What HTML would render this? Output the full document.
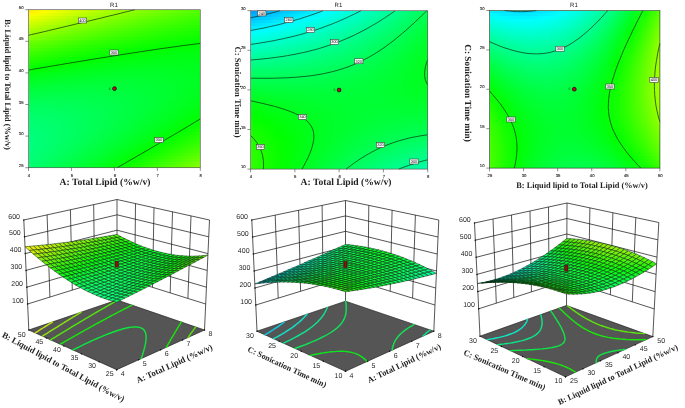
<!DOCTYPE html>
<html><head><meta charset="utf-8"><title>R1 response surfaces</title>
<style>html,body{margin:0;padding:0;background:#fff;}svg{display:block;will-change:transform;}text{text-rendering:geometricPrecision;}</style></head>
<body><svg width="685" height="408" viewBox="0 0 685 408">
<rect width="685" height="408" fill="#ffffff"/>
<defs>
<linearGradient id="s1_0"><stop offset="0.000" stop-color="#ffeb00"/><stop offset="0.083" stop-color="#fffd00"/><stop offset="0.167" stop-color="#ecff00"/><stop offset="0.250" stop-color="#d8ff00"/><stop offset="0.333" stop-color="#c5ff00"/><stop offset="0.417" stop-color="#b3ff00"/><stop offset="0.500" stop-color="#a2ff00"/><stop offset="0.583" stop-color="#92ff00"/><stop offset="0.667" stop-color="#83ff00"/><stop offset="0.750" stop-color="#75ff00"/><stop offset="0.833" stop-color="#67ff00"/><stop offset="0.917" stop-color="#5bff00"/><stop offset="1.000" stop-color="#50ff00"/></linearGradient>
<linearGradient id="s1_1"><stop offset="0.000" stop-color="#fffa00"/><stop offset="0.083" stop-color="#f0ff00"/><stop offset="0.167" stop-color="#dcff00"/><stop offset="0.250" stop-color="#c9ff00"/><stop offset="0.333" stop-color="#b6ff00"/><stop offset="0.417" stop-color="#a5ff00"/><stop offset="0.500" stop-color="#94ff00"/><stop offset="0.583" stop-color="#85ff00"/><stop offset="0.667" stop-color="#76ff00"/><stop offset="0.750" stop-color="#69ff00"/><stop offset="0.833" stop-color="#5dff00"/><stop offset="0.917" stop-color="#51ff00"/><stop offset="1.000" stop-color="#46ff00"/></linearGradient>
<linearGradient id="s1_2"><stop offset="0.000" stop-color="#f4ff00"/><stop offset="0.083" stop-color="#dfff00"/><stop offset="0.167" stop-color="#ccff00"/><stop offset="0.250" stop-color="#b9ff00"/><stop offset="0.333" stop-color="#a7ff00"/><stop offset="0.417" stop-color="#97ff00"/><stop offset="0.500" stop-color="#87ff00"/><stop offset="0.583" stop-color="#78ff00"/><stop offset="0.667" stop-color="#6bff00"/><stop offset="0.750" stop-color="#5eff00"/><stop offset="0.833" stop-color="#52ff00"/><stop offset="0.917" stop-color="#47ff00"/><stop offset="1.000" stop-color="#3dff00"/></linearGradient>
<linearGradient id="s1_3"><stop offset="0.000" stop-color="#e3ff00"/><stop offset="0.083" stop-color="#cfff00"/><stop offset="0.167" stop-color="#bcff00"/><stop offset="0.250" stop-color="#aaff00"/><stop offset="0.333" stop-color="#99ff00"/><stop offset="0.417" stop-color="#89ff00"/><stop offset="0.500" stop-color="#7aff00"/><stop offset="0.583" stop-color="#6cff00"/><stop offset="0.667" stop-color="#5fff00"/><stop offset="0.750" stop-color="#53ff00"/><stop offset="0.833" stop-color="#48ff00"/><stop offset="0.917" stop-color="#3eff00"/><stop offset="1.000" stop-color="#35ff00"/></linearGradient>
<linearGradient id="s1_4"><stop offset="0.000" stop-color="#d2ff00"/><stop offset="0.083" stop-color="#bfff00"/><stop offset="0.167" stop-color="#adff00"/><stop offset="0.250" stop-color="#9bff00"/><stop offset="0.333" stop-color="#8bff00"/><stop offset="0.417" stop-color="#7cff00"/><stop offset="0.500" stop-color="#6eff00"/><stop offset="0.583" stop-color="#60ff00"/><stop offset="0.667" stop-color="#54ff00"/><stop offset="0.750" stop-color="#49ff00"/><stop offset="0.833" stop-color="#3fff00"/><stop offset="0.917" stop-color="#35ff00"/><stop offset="1.000" stop-color="#2dff00"/></linearGradient>
<linearGradient id="s1_5"><stop offset="0.000" stop-color="#c2ff00"/><stop offset="0.083" stop-color="#afff00"/><stop offset="0.167" stop-color="#9eff00"/><stop offset="0.250" stop-color="#8dff00"/><stop offset="0.333" stop-color="#7eff00"/><stop offset="0.417" stop-color="#6fff00"/><stop offset="0.500" stop-color="#62ff00"/><stop offset="0.583" stop-color="#55ff00"/><stop offset="0.667" stop-color="#4aff00"/><stop offset="0.750" stop-color="#3fff00"/><stop offset="0.833" stop-color="#35ff00"/><stop offset="0.917" stop-color="#2dff00"/><stop offset="1.000" stop-color="#25ff00"/></linearGradient>
<linearGradient id="s1_6"><stop offset="0.000" stop-color="#b2ff00"/><stop offset="0.083" stop-color="#a0ff00"/><stop offset="0.167" stop-color="#8fff00"/><stop offset="0.250" stop-color="#7fff00"/><stop offset="0.333" stop-color="#71ff00"/><stop offset="0.417" stop-color="#63ff00"/><stop offset="0.500" stop-color="#56ff00"/><stop offset="0.583" stop-color="#4aff00"/><stop offset="0.667" stop-color="#3fff00"/><stop offset="0.750" stop-color="#35ff00"/><stop offset="0.833" stop-color="#2dff00"/><stop offset="0.917" stop-color="#25ff00"/><stop offset="1.000" stop-color="#1eff00"/></linearGradient>
<linearGradient id="s1_7"><stop offset="0.000" stop-color="#a2ff00"/><stop offset="0.083" stop-color="#91ff00"/><stop offset="0.167" stop-color="#81ff00"/><stop offset="0.250" stop-color="#72ff00"/><stop offset="0.333" stop-color="#64ff00"/><stop offset="0.417" stop-color="#57ff00"/><stop offset="0.500" stop-color="#4bff00"/><stop offset="0.583" stop-color="#40ff00"/><stop offset="0.667" stop-color="#36ff00"/><stop offset="0.750" stop-color="#2cff00"/><stop offset="0.833" stop-color="#24ff00"/><stop offset="0.917" stop-color="#1dff00"/><stop offset="1.000" stop-color="#17ff00"/></linearGradient>
<linearGradient id="s1_8"><stop offset="0.000" stop-color="#93ff00"/><stop offset="0.083" stop-color="#83ff00"/><stop offset="0.167" stop-color="#73ff00"/><stop offset="0.250" stop-color="#65ff00"/><stop offset="0.333" stop-color="#58ff00"/><stop offset="0.417" stop-color="#4bff00"/><stop offset="0.500" stop-color="#40ff00"/><stop offset="0.583" stop-color="#36ff00"/><stop offset="0.667" stop-color="#2cff00"/><stop offset="0.750" stop-color="#24ff00"/><stop offset="0.833" stop-color="#1cff00"/><stop offset="0.917" stop-color="#16ff00"/><stop offset="1.000" stop-color="#10ff00"/></linearGradient>
<linearGradient id="s1_9"><stop offset="0.000" stop-color="#84ff00"/><stop offset="0.083" stop-color="#75ff00"/><stop offset="0.167" stop-color="#66ff00"/><stop offset="0.250" stop-color="#59ff00"/><stop offset="0.333" stop-color="#4cff00"/><stop offset="0.417" stop-color="#40ff00"/><stop offset="0.500" stop-color="#36ff00"/><stop offset="0.583" stop-color="#2cff00"/><stop offset="0.667" stop-color="#23ff00"/><stop offset="0.750" stop-color="#1bff00"/><stop offset="0.833" stop-color="#15ff00"/><stop offset="0.917" stop-color="#0fff00"/><stop offset="1.000" stop-color="#0aff00"/></linearGradient>
<linearGradient id="s1_10"><stop offset="0.000" stop-color="#76ff00"/><stop offset="0.083" stop-color="#67ff00"/><stop offset="0.167" stop-color="#59ff00"/><stop offset="0.250" stop-color="#4cff00"/><stop offset="0.333" stop-color="#40ff00"/><stop offset="0.417" stop-color="#36ff00"/><stop offset="0.500" stop-color="#2cff00"/><stop offset="0.583" stop-color="#23ff00"/><stop offset="0.667" stop-color="#1bff00"/><stop offset="0.750" stop-color="#14ff00"/><stop offset="0.833" stop-color="#0eff00"/><stop offset="0.917" stop-color="#08ff00"/><stop offset="1.000" stop-color="#04ff00"/></linearGradient>
<linearGradient id="s1_11"><stop offset="0.000" stop-color="#68ff00"/><stop offset="0.083" stop-color="#5aff00"/><stop offset="0.167" stop-color="#4dff00"/><stop offset="0.250" stop-color="#41ff00"/><stop offset="0.333" stop-color="#35ff00"/><stop offset="0.417" stop-color="#2bff00"/><stop offset="0.500" stop-color="#22ff00"/><stop offset="0.583" stop-color="#1aff00"/><stop offset="0.667" stop-color="#12ff00"/><stop offset="0.750" stop-color="#0cff00"/><stop offset="0.833" stop-color="#07ff00"/><stop offset="0.917" stop-color="#02ff00"/><stop offset="1.000" stop-color="#00ff01"/></linearGradient>
<linearGradient id="s1_12"><stop offset="0.000" stop-color="#5bff00"/><stop offset="0.083" stop-color="#4dff00"/><stop offset="0.167" stop-color="#41ff00"/><stop offset="0.250" stop-color="#35ff00"/><stop offset="0.333" stop-color="#2bff00"/><stop offset="0.417" stop-color="#21ff00"/><stop offset="0.500" stop-color="#19ff00"/><stop offset="0.583" stop-color="#11ff00"/><stop offset="0.667" stop-color="#0bff00"/><stop offset="0.750" stop-color="#05ff00"/><stop offset="0.833" stop-color="#00ff00"/><stop offset="0.917" stop-color="#00ff03"/><stop offset="1.000" stop-color="#00ff06"/></linearGradient>
<linearGradient id="s1_13"><stop offset="0.000" stop-color="#4eff00"/><stop offset="0.083" stop-color="#41ff00"/><stop offset="0.167" stop-color="#35ff00"/><stop offset="0.250" stop-color="#2aff00"/><stop offset="0.333" stop-color="#21ff00"/><stop offset="0.417" stop-color="#18ff00"/><stop offset="0.500" stop-color="#10ff00"/><stop offset="0.583" stop-color="#09ff00"/><stop offset="0.667" stop-color="#03ff00"/><stop offset="0.750" stop-color="#00ff02"/><stop offset="0.833" stop-color="#00ff05"/><stop offset="0.917" stop-color="#00ff08"/><stop offset="1.000" stop-color="#00ff0a"/></linearGradient>
<linearGradient id="s1_14"><stop offset="0.000" stop-color="#41ff00"/><stop offset="0.083" stop-color="#35ff00"/><stop offset="0.167" stop-color="#2aff00"/><stop offset="0.250" stop-color="#20ff00"/><stop offset="0.333" stop-color="#17ff00"/><stop offset="0.417" stop-color="#0fff00"/><stop offset="0.500" stop-color="#08ff00"/><stop offset="0.583" stop-color="#02ff00"/><stop offset="0.667" stop-color="#00ff04"/><stop offset="0.750" stop-color="#00ff08"/><stop offset="0.833" stop-color="#00ff0b"/><stop offset="0.917" stop-color="#00ff0d"/><stop offset="1.000" stop-color="#00ff0e"/></linearGradient>
<linearGradient id="s1_15"><stop offset="0.000" stop-color="#35ff00"/><stop offset="0.083" stop-color="#29ff00"/><stop offset="0.167" stop-color="#1fff00"/><stop offset="0.250" stop-color="#16ff00"/><stop offset="0.333" stop-color="#0dff00"/><stop offset="0.417" stop-color="#06ff00"/><stop offset="0.500" stop-color="#00ff00"/><stop offset="0.583" stop-color="#00ff06"/><stop offset="0.667" stop-color="#00ff0a"/><stop offset="0.750" stop-color="#00ff0e"/><stop offset="0.833" stop-color="#00ff10"/><stop offset="0.917" stop-color="#00ff12"/><stop offset="1.000" stop-color="#00ff12"/></linearGradient>
<linearGradient id="s1_16"><stop offset="0.000" stop-color="#29ff00"/><stop offset="0.083" stop-color="#1eff00"/><stop offset="0.167" stop-color="#15ff00"/><stop offset="0.250" stop-color="#0cff00"/><stop offset="0.333" stop-color="#04ff00"/><stop offset="0.417" stop-color="#00ff02"/><stop offset="0.500" stop-color="#00ff08"/><stop offset="0.583" stop-color="#00ff0d"/><stop offset="0.667" stop-color="#00ff10"/><stop offset="0.750" stop-color="#00ff13"/><stop offset="0.833" stop-color="#00ff15"/><stop offset="0.917" stop-color="#00ff16"/><stop offset="1.000" stop-color="#00ff15"/></linearGradient>
<linearGradient id="s1_17"><stop offset="0.000" stop-color="#1dff00"/><stop offset="0.083" stop-color="#14ff00"/><stop offset="0.167" stop-color="#0bff00"/><stop offset="0.250" stop-color="#03ff00"/><stop offset="0.333" stop-color="#00ff04"/><stop offset="0.417" stop-color="#00ff0a"/><stop offset="0.500" stop-color="#00ff0f"/><stop offset="0.583" stop-color="#00ff13"/><stop offset="0.667" stop-color="#00ff16"/><stop offset="0.750" stop-color="#00ff18"/><stop offset="0.833" stop-color="#00ff19"/><stop offset="0.917" stop-color="#00ff19"/><stop offset="1.000" stop-color="#00ff18"/></linearGradient>
<linearGradient id="s1_18"><stop offset="0.000" stop-color="#12ff00"/><stop offset="0.083" stop-color="#09ff00"/><stop offset="0.167" stop-color="#01ff00"/><stop offset="0.250" stop-color="#00ff06"/><stop offset="0.333" stop-color="#00ff0c"/><stop offset="0.417" stop-color="#00ff12"/><stop offset="0.500" stop-color="#00ff16"/><stop offset="0.583" stop-color="#00ff19"/><stop offset="0.667" stop-color="#00ff1b"/><stop offset="0.750" stop-color="#00ff1d"/><stop offset="0.833" stop-color="#00ff1d"/><stop offset="0.917" stop-color="#00ff1c"/><stop offset="1.000" stop-color="#00ff1b"/></linearGradient>
<linearGradient id="s1_19"><stop offset="0.000" stop-color="#08ff00"/><stop offset="0.083" stop-color="#00ff01"/><stop offset="0.167" stop-color="#00ff08"/><stop offset="0.250" stop-color="#00ff0f"/><stop offset="0.333" stop-color="#00ff14"/><stop offset="0.417" stop-color="#00ff19"/><stop offset="0.500" stop-color="#00ff1c"/><stop offset="0.583" stop-color="#00ff1f"/><stop offset="0.667" stop-color="#00ff20"/><stop offset="0.750" stop-color="#00ff21"/><stop offset="0.833" stop-color="#00ff20"/><stop offset="0.917" stop-color="#00ff1f"/><stop offset="1.000" stop-color="#00ff1d"/></linearGradient>
<linearGradient id="s1_20"><stop offset="0.000" stop-color="#00ff03"/><stop offset="0.083" stop-color="#00ff0a"/><stop offset="0.167" stop-color="#00ff11"/><stop offset="0.250" stop-color="#00ff17"/><stop offset="0.333" stop-color="#00ff1b"/><stop offset="0.417" stop-color="#00ff1f"/><stop offset="0.500" stop-color="#00ff22"/><stop offset="0.583" stop-color="#00ff24"/><stop offset="0.667" stop-color="#00ff25"/><stop offset="0.750" stop-color="#00ff25"/><stop offset="0.833" stop-color="#00ff23"/><stop offset="0.917" stop-color="#00ff21"/><stop offset="1.000" stop-color="#00ff1e"/></linearGradient>
<linearGradient id="s1_21"><stop offset="0.000" stop-color="#00ff0c"/><stop offset="0.083" stop-color="#00ff13"/><stop offset="0.167" stop-color="#00ff19"/><stop offset="0.250" stop-color="#00ff1e"/><stop offset="0.333" stop-color="#00ff22"/><stop offset="0.417" stop-color="#00ff25"/><stop offset="0.500" stop-color="#00ff28"/><stop offset="0.583" stop-color="#00ff29"/><stop offset="0.667" stop-color="#00ff29"/><stop offset="0.750" stop-color="#00ff28"/><stop offset="0.833" stop-color="#00ff26"/><stop offset="0.917" stop-color="#00ff23"/><stop offset="1.000" stop-color="#00ff1f"/></linearGradient>
<linearGradient id="s1_22"><stop offset="0.000" stop-color="#00ff16"/><stop offset="0.083" stop-color="#00ff1c"/><stop offset="0.167" stop-color="#00ff21"/><stop offset="0.250" stop-color="#00ff26"/><stop offset="0.333" stop-color="#00ff29"/><stop offset="0.417" stop-color="#00ff2b"/><stop offset="0.500" stop-color="#00ff2d"/><stop offset="0.583" stop-color="#00ff2d"/><stop offset="0.667" stop-color="#00ff2c"/><stop offset="0.750" stop-color="#00ff2b"/><stop offset="0.833" stop-color="#00ff28"/><stop offset="0.917" stop-color="#00ff25"/><stop offset="1.000" stop-color="#00ff20"/></linearGradient>
<linearGradient id="s1_23"><stop offset="0.000" stop-color="#00ff1f"/><stop offset="0.083" stop-color="#00ff24"/><stop offset="0.167" stop-color="#00ff29"/><stop offset="0.250" stop-color="#00ff2c"/><stop offset="0.333" stop-color="#00ff2f"/><stop offset="0.417" stop-color="#00ff31"/><stop offset="0.500" stop-color="#00ff31"/><stop offset="0.583" stop-color="#00ff31"/><stop offset="0.667" stop-color="#00ff30"/><stop offset="0.750" stop-color="#00ff2d"/><stop offset="0.833" stop-color="#00ff2a"/><stop offset="0.917" stop-color="#00ff26"/><stop offset="1.000" stop-color="#00ff21"/></linearGradient>
<linearGradient id="s1_24"><stop offset="0.000" stop-color="#00ff27"/><stop offset="0.083" stop-color="#00ff2c"/><stop offset="0.167" stop-color="#00ff30"/><stop offset="0.250" stop-color="#00ff33"/><stop offset="0.333" stop-color="#00ff35"/><stop offset="0.417" stop-color="#00ff36"/><stop offset="0.500" stop-color="#00ff36"/><stop offset="0.583" stop-color="#00ff35"/><stop offset="0.667" stop-color="#00ff33"/><stop offset="0.750" stop-color="#00ff30"/><stop offset="0.833" stop-color="#00ff2c"/><stop offset="0.917" stop-color="#00ff27"/><stop offset="1.000" stop-color="#00ff21"/></linearGradient>
<linearGradient id="s1_25"><stop offset="0.000" stop-color="#00ff2f"/><stop offset="0.083" stop-color="#00ff34"/><stop offset="0.167" stop-color="#00ff37"/><stop offset="0.250" stop-color="#00ff39"/><stop offset="0.333" stop-color="#00ff3a"/><stop offset="0.417" stop-color="#00ff3a"/><stop offset="0.500" stop-color="#00ff39"/><stop offset="0.583" stop-color="#00ff38"/><stop offset="0.667" stop-color="#00ff35"/><stop offset="0.750" stop-color="#00ff31"/><stop offset="0.833" stop-color="#00ff2d"/><stop offset="0.917" stop-color="#00ff27"/><stop offset="1.000" stop-color="#00ff20"/></linearGradient>
<linearGradient id="s1_26"><stop offset="0.000" stop-color="#00ff37"/><stop offset="0.083" stop-color="#00ff3b"/><stop offset="0.167" stop-color="#00ff3d"/><stop offset="0.250" stop-color="#00ff3e"/><stop offset="0.333" stop-color="#00ff3f"/><stop offset="0.417" stop-color="#00ff3e"/><stop offset="0.500" stop-color="#00ff3d"/><stop offset="0.583" stop-color="#00ff3a"/><stop offset="0.667" stop-color="#00ff37"/><stop offset="0.750" stop-color="#00ff33"/><stop offset="0.833" stop-color="#00ff2d"/><stop offset="0.917" stop-color="#00ff27"/><stop offset="1.000" stop-color="#00ff1f"/></linearGradient>
<linearGradient id="s1_27"><stop offset="0.000" stop-color="#00ff3f"/><stop offset="0.083" stop-color="#00ff41"/><stop offset="0.167" stop-color="#00ff43"/><stop offset="0.250" stop-color="#00ff44"/><stop offset="0.333" stop-color="#00ff43"/><stop offset="0.417" stop-color="#00ff42"/><stop offset="0.500" stop-color="#00ff40"/><stop offset="0.583" stop-color="#00ff3d"/><stop offset="0.667" stop-color="#00ff39"/><stop offset="0.750" stop-color="#00ff34"/><stop offset="0.833" stop-color="#00ff2d"/><stop offset="0.917" stop-color="#00ff26"/><stop offset="1.000" stop-color="#00ff1e"/></linearGradient>
<linearGradient id="s1_28"><stop offset="0.000" stop-color="#00ff46"/><stop offset="0.083" stop-color="#00ff47"/><stop offset="0.167" stop-color="#00ff48"/><stop offset="0.250" stop-color="#00ff48"/><stop offset="0.333" stop-color="#00ff48"/><stop offset="0.417" stop-color="#00ff46"/><stop offset="0.500" stop-color="#00ff43"/><stop offset="0.583" stop-color="#00ff3f"/><stop offset="0.667" stop-color="#00ff3a"/><stop offset="0.750" stop-color="#00ff34"/><stop offset="0.833" stop-color="#00ff2d"/><stop offset="0.917" stop-color="#00ff25"/><stop offset="1.000" stop-color="#00ff1d"/></linearGradient>
<linearGradient id="s1_29"><stop offset="0.000" stop-color="#00ff4c"/><stop offset="0.083" stop-color="#00ff4d"/><stop offset="0.167" stop-color="#00ff4e"/><stop offset="0.250" stop-color="#00ff4d"/><stop offset="0.333" stop-color="#00ff4b"/><stop offset="0.417" stop-color="#00ff49"/><stop offset="0.500" stop-color="#00ff45"/><stop offset="0.583" stop-color="#00ff40"/><stop offset="0.667" stop-color="#00ff3b"/><stop offset="0.750" stop-color="#00ff34"/><stop offset="0.833" stop-color="#00ff2d"/><stop offset="0.917" stop-color="#00ff24"/><stop offset="1.000" stop-color="#00ff1b"/></linearGradient>
<linearGradient id="s1_30"><stop offset="0.000" stop-color="#00ff52"/><stop offset="0.083" stop-color="#00ff53"/><stop offset="0.167" stop-color="#00ff52"/><stop offset="0.250" stop-color="#00ff51"/><stop offset="0.333" stop-color="#00ff4e"/><stop offset="0.417" stop-color="#00ff4b"/><stop offset="0.500" stop-color="#00ff47"/><stop offset="0.583" stop-color="#00ff41"/><stop offset="0.667" stop-color="#00ff3b"/><stop offset="0.750" stop-color="#00ff34"/><stop offset="0.833" stop-color="#00ff2c"/><stop offset="0.917" stop-color="#00ff22"/><stop offset="1.000" stop-color="#00ff18"/></linearGradient>
<linearGradient id="s1_31"><stop offset="0.000" stop-color="#00ff58"/><stop offset="0.083" stop-color="#00ff58"/><stop offset="0.167" stop-color="#00ff57"/><stop offset="0.250" stop-color="#00ff54"/><stop offset="0.333" stop-color="#00ff51"/><stop offset="0.417" stop-color="#00ff4d"/><stop offset="0.500" stop-color="#00ff48"/><stop offset="0.583" stop-color="#00ff42"/><stop offset="0.667" stop-color="#00ff3b"/><stop offset="0.750" stop-color="#00ff33"/><stop offset="0.833" stop-color="#00ff2a"/><stop offset="0.917" stop-color="#00ff20"/><stop offset="1.000" stop-color="#00ff15"/></linearGradient>
<linearGradient id="s1_32"><stop offset="0.000" stop-color="#00ff5d"/><stop offset="0.083" stop-color="#00ff5c"/><stop offset="0.167" stop-color="#00ff5a"/><stop offset="0.250" stop-color="#00ff58"/><stop offset="0.333" stop-color="#00ff54"/><stop offset="0.417" stop-color="#00ff4f"/><stop offset="0.500" stop-color="#00ff49"/><stop offset="0.583" stop-color="#00ff42"/><stop offset="0.667" stop-color="#00ff3b"/><stop offset="0.750" stop-color="#00ff32"/><stop offset="0.833" stop-color="#00ff28"/><stop offset="0.917" stop-color="#00ff1e"/><stop offset="1.000" stop-color="#00ff12"/></linearGradient>
<linearGradient id="s1_33"><stop offset="0.000" stop-color="#00ff62"/><stop offset="0.083" stop-color="#00ff61"/><stop offset="0.167" stop-color="#00ff5e"/><stop offset="0.250" stop-color="#00ff5a"/><stop offset="0.333" stop-color="#00ff56"/><stop offset="0.417" stop-color="#00ff50"/><stop offset="0.500" stop-color="#00ff4a"/><stop offset="0.583" stop-color="#00ff42"/><stop offset="0.667" stop-color="#00ff3a"/><stop offset="0.750" stop-color="#00ff30"/><stop offset="0.833" stop-color="#00ff26"/><stop offset="0.917" stop-color="#00ff1b"/><stop offset="1.000" stop-color="#00ff0e"/></linearGradient>
<linearGradient id="s1_34"><stop offset="0.000" stop-color="#00ff67"/><stop offset="0.083" stop-color="#00ff64"/><stop offset="0.167" stop-color="#00ff61"/><stop offset="0.250" stop-color="#00ff5d"/><stop offset="0.333" stop-color="#00ff57"/><stop offset="0.417" stop-color="#00ff51"/><stop offset="0.500" stop-color="#00ff4a"/><stop offset="0.583" stop-color="#00ff42"/><stop offset="0.667" stop-color="#00ff39"/><stop offset="0.750" stop-color="#00ff2e"/><stop offset="0.833" stop-color="#00ff23"/><stop offset="0.917" stop-color="#00ff17"/><stop offset="1.000" stop-color="#00ff0a"/></linearGradient>
<linearGradient id="s1_35"><stop offset="0.000" stop-color="#00ff6b"/><stop offset="0.083" stop-color="#00ff68"/><stop offset="0.167" stop-color="#00ff64"/><stop offset="0.250" stop-color="#00ff5f"/><stop offset="0.333" stop-color="#00ff59"/><stop offset="0.417" stop-color="#00ff52"/><stop offset="0.500" stop-color="#00ff4a"/><stop offset="0.583" stop-color="#00ff41"/><stop offset="0.667" stop-color="#00ff37"/><stop offset="0.750" stop-color="#00ff2c"/><stop offset="0.833" stop-color="#00ff20"/><stop offset="0.917" stop-color="#00ff13"/><stop offset="1.000" stop-color="#00ff06"/></linearGradient>
<linearGradient id="s1_36"><stop offset="0.000" stop-color="#00ff6e"/><stop offset="0.083" stop-color="#00ff6b"/><stop offset="0.167" stop-color="#00ff66"/><stop offset="0.250" stop-color="#00ff60"/><stop offset="0.333" stop-color="#00ff59"/><stop offset="0.417" stop-color="#00ff52"/><stop offset="0.500" stop-color="#00ff49"/><stop offset="0.583" stop-color="#00ff40"/><stop offset="0.667" stop-color="#00ff35"/><stop offset="0.750" stop-color="#00ff29"/><stop offset="0.833" stop-color="#00ff1d"/><stop offset="0.917" stop-color="#00ff0f"/><stop offset="1.000" stop-color="#00ff01"/></linearGradient>
<linearGradient id="s1_37"><stop offset="0.000" stop-color="#00ff72"/><stop offset="0.083" stop-color="#00ff6d"/><stop offset="0.167" stop-color="#00ff68"/><stop offset="0.250" stop-color="#00ff61"/><stop offset="0.333" stop-color="#00ff5a"/><stop offset="0.417" stop-color="#00ff51"/><stop offset="0.500" stop-color="#00ff48"/><stop offset="0.583" stop-color="#00ff3e"/><stop offset="0.667" stop-color="#00ff32"/><stop offset="0.750" stop-color="#00ff26"/><stop offset="0.833" stop-color="#00ff19"/><stop offset="0.917" stop-color="#00ff0b"/><stop offset="1.000" stop-color="#05ff00"/></linearGradient>
<linearGradient id="s1_38"><stop offset="0.000" stop-color="#00ff75"/><stop offset="0.083" stop-color="#00ff6f"/><stop offset="0.167" stop-color="#00ff69"/><stop offset="0.250" stop-color="#00ff62"/><stop offset="0.333" stop-color="#00ff5a"/><stop offset="0.417" stop-color="#00ff51"/><stop offset="0.500" stop-color="#00ff47"/><stop offset="0.583" stop-color="#00ff3c"/><stop offset="0.667" stop-color="#00ff30"/><stop offset="0.750" stop-color="#00ff23"/><stop offset="0.833" stop-color="#00ff15"/><stop offset="0.917" stop-color="#00ff06"/><stop offset="1.000" stop-color="#0aff00"/></linearGradient>
<linearGradient id="s1_39"><stop offset="0.000" stop-color="#00ff77"/><stop offset="0.083" stop-color="#00ff71"/><stop offset="0.167" stop-color="#00ff6a"/><stop offset="0.250" stop-color="#00ff62"/><stop offset="0.333" stop-color="#00ff59"/><stop offset="0.417" stop-color="#00ff50"/><stop offset="0.500" stop-color="#00ff45"/><stop offset="0.583" stop-color="#00ff39"/><stop offset="0.667" stop-color="#00ff2c"/><stop offset="0.750" stop-color="#00ff1f"/><stop offset="0.833" stop-color="#00ff10"/><stop offset="0.917" stop-color="#00ff00"/><stop offset="1.000" stop-color="#10ff00"/></linearGradient>
<linearGradient id="s1_40"><stop offset="0.000" stop-color="#00ff79"/><stop offset="0.083" stop-color="#00ff72"/><stop offset="0.167" stop-color="#00ff6b"/><stop offset="0.250" stop-color="#00ff62"/><stop offset="0.333" stop-color="#00ff59"/><stop offset="0.417" stop-color="#00ff4e"/><stop offset="0.500" stop-color="#00ff43"/><stop offset="0.583" stop-color="#00ff36"/><stop offset="0.667" stop-color="#00ff29"/><stop offset="0.750" stop-color="#00ff1a"/><stop offset="0.833" stop-color="#00ff0b"/><stop offset="0.917" stop-color="#06ff00"/><stop offset="1.000" stop-color="#17ff00"/></linearGradient>
<linearGradient id="s1_41"><stop offset="0.000" stop-color="#00ff7b"/><stop offset="0.083" stop-color="#00ff73"/><stop offset="0.167" stop-color="#00ff6b"/><stop offset="0.250" stop-color="#00ff62"/><stop offset="0.333" stop-color="#00ff57"/><stop offset="0.417" stop-color="#00ff4c"/><stop offset="0.500" stop-color="#00ff40"/><stop offset="0.583" stop-color="#00ff33"/><stop offset="0.667" stop-color="#00ff25"/><stop offset="0.750" stop-color="#00ff15"/><stop offset="0.833" stop-color="#00ff05"/><stop offset="0.917" stop-color="#0cff00"/><stop offset="1.000" stop-color="#1eff00"/></linearGradient>
<linearGradient id="s1_42"><stop offset="0.000" stop-color="#00ff7c"/><stop offset="0.083" stop-color="#00ff74"/><stop offset="0.167" stop-color="#00ff6b"/><stop offset="0.250" stop-color="#00ff61"/><stop offset="0.333" stop-color="#00ff56"/><stop offset="0.417" stop-color="#00ff4a"/><stop offset="0.500" stop-color="#00ff3d"/><stop offset="0.583" stop-color="#00ff2f"/><stop offset="0.667" stop-color="#00ff20"/><stop offset="0.750" stop-color="#00ff10"/><stop offset="0.833" stop-color="#01ff00"/><stop offset="0.917" stop-color="#13ff00"/><stop offset="1.000" stop-color="#25ff00"/></linearGradient>
<linearGradient id="s1_43"><stop offset="0.000" stop-color="#00ff7d"/><stop offset="0.083" stop-color="#00ff74"/><stop offset="0.167" stop-color="#00ff6a"/><stop offset="0.250" stop-color="#00ff5f"/><stop offset="0.333" stop-color="#00ff54"/><stop offset="0.417" stop-color="#00ff47"/><stop offset="0.500" stop-color="#00ff39"/><stop offset="0.583" stop-color="#00ff2b"/><stop offset="0.667" stop-color="#00ff1b"/><stop offset="0.750" stop-color="#00ff0b"/><stop offset="0.833" stop-color="#07ff00"/><stop offset="0.917" stop-color="#1aff00"/><stop offset="1.000" stop-color="#2dff00"/></linearGradient>
<linearGradient id="s1_44"><stop offset="0.000" stop-color="#00ff7d"/><stop offset="0.083" stop-color="#00ff74"/><stop offset="0.167" stop-color="#00ff69"/><stop offset="0.250" stop-color="#00ff5e"/><stop offset="0.333" stop-color="#00ff51"/><stop offset="0.417" stop-color="#00ff44"/><stop offset="0.500" stop-color="#00ff35"/><stop offset="0.583" stop-color="#00ff26"/><stop offset="0.667" stop-color="#00ff16"/><stop offset="0.750" stop-color="#00ff04"/><stop offset="0.833" stop-color="#0eff00"/><stop offset="0.917" stop-color="#21ff00"/><stop offset="1.000" stop-color="#35ff00"/></linearGradient>
<linearGradient id="s1_45"><stop offset="0.000" stop-color="#00ff7d"/><stop offset="0.083" stop-color="#00ff73"/><stop offset="0.167" stop-color="#00ff68"/><stop offset="0.250" stop-color="#00ff5c"/><stop offset="0.333" stop-color="#00ff4e"/><stop offset="0.417" stop-color="#00ff40"/><stop offset="0.500" stop-color="#00ff31"/><stop offset="0.583" stop-color="#00ff21"/><stop offset="0.667" stop-color="#00ff10"/><stop offset="0.750" stop-color="#02ff00"/><stop offset="0.833" stop-color="#15ff00"/><stop offset="0.917" stop-color="#29ff00"/><stop offset="1.000" stop-color="#3eff00"/></linearGradient>
<linearGradient id="s1_46"><stop offset="0.000" stop-color="#00ff7d"/><stop offset="0.083" stop-color="#00ff72"/><stop offset="0.167" stop-color="#00ff66"/><stop offset="0.250" stop-color="#00ff59"/><stop offset="0.333" stop-color="#00ff4b"/><stop offset="0.417" stop-color="#00ff3c"/><stop offset="0.500" stop-color="#00ff2c"/><stop offset="0.583" stop-color="#00ff1c"/><stop offset="0.667" stop-color="#00ff0a"/><stop offset="0.750" stop-color="#09ff00"/><stop offset="0.833" stop-color="#1dff00"/><stop offset="0.917" stop-color="#31ff00"/><stop offset="1.000" stop-color="#47ff00"/></linearGradient>
<linearGradient id="s1_47"><stop offset="0.000" stop-color="#00ff7c"/><stop offset="0.083" stop-color="#00ff70"/><stop offset="0.167" stop-color="#00ff64"/><stop offset="0.250" stop-color="#00ff56"/><stop offset="0.333" stop-color="#00ff47"/><stop offset="0.417" stop-color="#00ff38"/><stop offset="0.500" stop-color="#00ff27"/><stop offset="0.583" stop-color="#00ff16"/><stop offset="0.667" stop-color="#00ff03"/><stop offset="0.750" stop-color="#10ff00"/><stop offset="0.833" stop-color="#25ff00"/><stop offset="0.917" stop-color="#3aff00"/><stop offset="1.000" stop-color="#50ff00"/></linearGradient>
<linearGradient id="s1_48"><stop offset="0.000" stop-color="#00ff7b"/><stop offset="0.083" stop-color="#00ff6e"/><stop offset="0.167" stop-color="#00ff61"/><stop offset="0.250" stop-color="#00ff53"/><stop offset="0.333" stop-color="#00ff43"/><stop offset="0.417" stop-color="#00ff33"/><stop offset="0.500" stop-color="#00ff22"/><stop offset="0.583" stop-color="#00ff10"/><stop offset="0.667" stop-color="#04ff00"/><stop offset="0.750" stop-color="#18ff00"/><stop offset="0.833" stop-color="#2dff00"/><stop offset="0.917" stop-color="#43ff00"/><stop offset="1.000" stop-color="#5aff00"/></linearGradient>
<linearGradient id="s1_49"><stop offset="0.000" stop-color="#00ff79"/><stop offset="0.083" stop-color="#00ff6c"/><stop offset="0.167" stop-color="#00ff5e"/><stop offset="0.250" stop-color="#00ff4f"/><stop offset="0.333" stop-color="#00ff3f"/><stop offset="0.417" stop-color="#00ff2e"/><stop offset="0.500" stop-color="#00ff1c"/><stop offset="0.583" stop-color="#00ff09"/><stop offset="0.667" stop-color="#0bff00"/><stop offset="0.750" stop-color="#20ff00"/><stop offset="0.833" stop-color="#36ff00"/><stop offset="0.917" stop-color="#4dff00"/><stop offset="1.000" stop-color="#64ff00"/></linearGradient>
<linearGradient id="s1_50"><stop offset="0.000" stop-color="#00ff77"/><stop offset="0.083" stop-color="#00ff69"/><stop offset="0.167" stop-color="#00ff5a"/><stop offset="0.250" stop-color="#00ff4b"/><stop offset="0.333" stop-color="#00ff3a"/><stop offset="0.417" stop-color="#00ff28"/><stop offset="0.500" stop-color="#00ff16"/><stop offset="0.583" stop-color="#00ff02"/><stop offset="0.667" stop-color="#13ff00"/><stop offset="0.750" stop-color="#28ff00"/><stop offset="0.833" stop-color="#3fff00"/><stop offset="0.917" stop-color="#56ff00"/><stop offset="1.000" stop-color="#6fff00"/></linearGradient>
<linearGradient id="s1_51"><stop offset="0.000" stop-color="#00ff75"/><stop offset="0.083" stop-color="#00ff66"/><stop offset="0.167" stop-color="#00ff57"/><stop offset="0.250" stop-color="#00ff46"/><stop offset="0.333" stop-color="#00ff35"/><stop offset="0.417" stop-color="#00ff22"/><stop offset="0.500" stop-color="#00ff0f"/><stop offset="0.583" stop-color="#06ff00"/><stop offset="0.667" stop-color="#1bff00"/><stop offset="0.750" stop-color="#31ff00"/><stop offset="0.833" stop-color="#49ff00"/><stop offset="0.917" stop-color="#61ff00"/><stop offset="1.000" stop-color="#7aff00"/></linearGradient>
<linearGradient id="s1_52"><stop offset="0.000" stop-color="#00ff72"/><stop offset="0.083" stop-color="#00ff62"/><stop offset="0.167" stop-color="#00ff52"/><stop offset="0.250" stop-color="#00ff41"/><stop offset="0.333" stop-color="#00ff2f"/><stop offset="0.417" stop-color="#00ff1c"/><stop offset="0.500" stop-color="#00ff08"/><stop offset="0.583" stop-color="#0dff00"/><stop offset="0.667" stop-color="#23ff00"/><stop offset="0.750" stop-color="#3bff00"/><stop offset="0.833" stop-color="#53ff00"/><stop offset="0.917" stop-color="#6cff00"/><stop offset="1.000" stop-color="#86ff00"/></linearGradient>
</defs>
<g shape-rendering="crispEdges">
<rect x="28.5" y="9.70" width="171.8" height="3.58" fill="url(#s1_0)"/>
<rect x="28.5" y="12.68" width="171.8" height="3.58" fill="url(#s1_1)"/>
<rect x="28.5" y="15.66" width="171.8" height="3.58" fill="url(#s1_2)"/>
<rect x="28.5" y="18.64" width="171.8" height="3.58" fill="url(#s1_3)"/>
<rect x="28.5" y="21.62" width="171.8" height="3.58" fill="url(#s1_4)"/>
<rect x="28.5" y="24.61" width="171.8" height="3.58" fill="url(#s1_5)"/>
<rect x="28.5" y="27.59" width="171.8" height="3.58" fill="url(#s1_6)"/>
<rect x="28.5" y="30.57" width="171.8" height="3.58" fill="url(#s1_7)"/>
<rect x="28.5" y="33.55" width="171.8" height="3.58" fill="url(#s1_8)"/>
<rect x="28.5" y="36.53" width="171.8" height="3.58" fill="url(#s1_9)"/>
<rect x="28.5" y="39.51" width="171.8" height="3.58" fill="url(#s1_10)"/>
<rect x="28.5" y="42.49" width="171.8" height="3.58" fill="url(#s1_11)"/>
<rect x="28.5" y="45.47" width="171.8" height="3.58" fill="url(#s1_12)"/>
<rect x="28.5" y="48.45" width="171.8" height="3.58" fill="url(#s1_13)"/>
<rect x="28.5" y="51.44" width="171.8" height="3.58" fill="url(#s1_14)"/>
<rect x="28.5" y="54.42" width="171.8" height="3.58" fill="url(#s1_15)"/>
<rect x="28.5" y="57.40" width="171.8" height="3.58" fill="url(#s1_16)"/>
<rect x="28.5" y="60.38" width="171.8" height="3.58" fill="url(#s1_17)"/>
<rect x="28.5" y="63.36" width="171.8" height="3.58" fill="url(#s1_18)"/>
<rect x="28.5" y="66.34" width="171.8" height="3.58" fill="url(#s1_19)"/>
<rect x="28.5" y="69.32" width="171.8" height="3.58" fill="url(#s1_20)"/>
<rect x="28.5" y="72.30" width="171.8" height="3.58" fill="url(#s1_21)"/>
<rect x="28.5" y="75.28" width="171.8" height="3.58" fill="url(#s1_22)"/>
<rect x="28.5" y="78.27" width="171.8" height="3.58" fill="url(#s1_23)"/>
<rect x="28.5" y="81.25" width="171.8" height="3.58" fill="url(#s1_24)"/>
<rect x="28.5" y="84.23" width="171.8" height="3.58" fill="url(#s1_25)"/>
<rect x="28.5" y="87.21" width="171.8" height="3.58" fill="url(#s1_26)"/>
<rect x="28.5" y="90.19" width="171.8" height="3.58" fill="url(#s1_27)"/>
<rect x="28.5" y="93.17" width="171.8" height="3.58" fill="url(#s1_28)"/>
<rect x="28.5" y="96.15" width="171.8" height="3.58" fill="url(#s1_29)"/>
<rect x="28.5" y="99.13" width="171.8" height="3.58" fill="url(#s1_30)"/>
<rect x="28.5" y="102.12" width="171.8" height="3.58" fill="url(#s1_31)"/>
<rect x="28.5" y="105.10" width="171.8" height="3.58" fill="url(#s1_32)"/>
<rect x="28.5" y="108.08" width="171.8" height="3.58" fill="url(#s1_33)"/>
<rect x="28.5" y="111.06" width="171.8" height="3.58" fill="url(#s1_34)"/>
<rect x="28.5" y="114.04" width="171.8" height="3.58" fill="url(#s1_35)"/>
<rect x="28.5" y="117.02" width="171.8" height="3.58" fill="url(#s1_36)"/>
<rect x="28.5" y="120.00" width="171.8" height="3.58" fill="url(#s1_37)"/>
<rect x="28.5" y="122.98" width="171.8" height="3.58" fill="url(#s1_38)"/>
<rect x="28.5" y="125.96" width="171.8" height="3.58" fill="url(#s1_39)"/>
<rect x="28.5" y="128.95" width="171.8" height="3.58" fill="url(#s1_40)"/>
<rect x="28.5" y="131.93" width="171.8" height="3.58" fill="url(#s1_41)"/>
<rect x="28.5" y="134.91" width="171.8" height="3.58" fill="url(#s1_42)"/>
<rect x="28.5" y="137.89" width="171.8" height="3.58" fill="url(#s1_43)"/>
<rect x="28.5" y="140.87" width="171.8" height="3.58" fill="url(#s1_44)"/>
<rect x="28.5" y="143.85" width="171.8" height="3.58" fill="url(#s1_45)"/>
<rect x="28.5" y="146.83" width="171.8" height="3.58" fill="url(#s1_46)"/>
<rect x="28.5" y="149.81" width="171.8" height="3.58" fill="url(#s1_47)"/>
<rect x="28.5" y="152.79" width="171.8" height="3.58" fill="url(#s1_48)"/>
<rect x="28.5" y="155.78" width="171.8" height="3.58" fill="url(#s1_49)"/>
<rect x="28.5" y="158.76" width="171.8" height="3.58" fill="url(#s1_50)"/>
<rect x="28.5" y="161.74" width="171.8" height="3.58" fill="url(#s1_51)"/>
<rect x="28.5" y="164.72" width="171.8" height="2.98" fill="url(#s1_52)"/>
</g>
<g fill="none" stroke="#0b2a0b" stroke-width="0.7">
<path d="M200.3,118.9L198.0,120.3L195.8,121.6L193.1,123.2L190.3,125.0L187.4,126.7L184.9,128.2L182.7,129.5L180.3,131.0L177.4,132.7L174.5,134.4L171.7,136.0L169.3,137.4L167.1,138.7L164.5,140.3L161.6,141.9L158.8,143.6L155.9,145.3L153.6,146.6L151.3,147.9L148.8,149.5L145.9,151.1L143.0,152.8L140.2,154.4L137.7,155.8L135.4,157.2L133.0,158.6L130.1,160.2L127.3,161.8L124.4,163.5L121.7,165.1L119.4,166.4L117.1,167.7L117.1,167.7"/>
<path d="M28.5,70.1L32.8,69.3L35.7,68.8L40.0,68.1L42.8,67.6L47.1,66.9L50.5,66.3L54.3,65.7L58.2,65.0L61.4,64.5L65.7,63.7L68.6,63.3L72.9,62.5L75.7,62.1L80.0,61.4L82.9,60.9L87.2,60.2L90.1,59.7L94.4,59.0L98.0,58.4L101.5,57.9L105.8,57.2L108.7,56.7L113.0,56.0L115.8,55.6L120.1,54.9L123.0,54.4L127.3,53.8L131.3,53.1L134.4,52.7L138.7,52.0L141.6,51.6L145.9,50.9L148.8,50.5L153.1,49.9L157.4,49.2L160.2,48.8L164.5,48.2L167.4,47.8L171.7,47.2L176.0,46.6L178.8,46.2L183.1,45.6L186.0,45.2L190.3,44.7L194.6,44.1L197.4,43.8L200.3,43.4"/>
<path d="M28.5,35.3L31.4,34.6L35.7,33.6L38.5,33.0L42.2,32.1L45.7,31.3L48.5,30.6L52.8,29.6L55.7,28.9L59.0,28.1L62.9,27.2L65.7,26.5L70.0,25.5L72.9,24.8L75.7,24.1L80.0,23.1L82.9,22.4L86.5,21.6L90.1,20.7L92.9,20.0L97.2,19.0L100.1,18.3L102.9,17.6L107.2,16.5L110.1,15.8L113.6,15.0L117.3,14.1L120.1,13.4L124.3,12.3L127.3,11.6L130.1,10.9L134.4,9.8L134.9,9.7"/>
</g>
<rect x="28.5" y="9.7" width="171.8" height="158.0" fill="none" stroke="#5c5c5c" stroke-width="0.7"/>
<rect x="78.30" y="18.00" width="8.4" height="5" fill="#fafafa" stroke="#3c3c3c" stroke-width="0.6"/>
<text x="82.50" y="21.95" font-size="4" font-family="Liberation Sans, sans-serif" fill="#222" text-anchor="middle">400</text>
<rect x="109.80" y="50.00" width="8.4" height="5" fill="#fafafa" stroke="#3c3c3c" stroke-width="0.6"/>
<text x="114.00" y="53.95" font-size="4" font-family="Liberation Sans, sans-serif" fill="#222" text-anchor="middle">350</text>
<rect x="154.80" y="137.50" width="8.4" height="5" fill="#fafafa" stroke="#3c3c3c" stroke-width="0.6"/>
<text x="159.00" y="141.45" font-size="4" font-family="Liberation Sans, sans-serif" fill="#222" text-anchor="middle">350</text>
<circle cx="114.5" cy="88.6" r="1.9" fill="#b01028" stroke="#2a0808" stroke-width="0.8"/>
<text x="109.8" y="89.8" font-size="3.6" font-family="Liberation Sans, sans-serif" fill="#0a500a" text-anchor="middle">6</text>
<line x1="28.50" y1="167.7" x2="28.50" y2="170.89999999999998" stroke="#444" stroke-width="0.6"/>
<text x="28.90" y="176.70" font-size="4.2" font-family="Liberation Sans, sans-serif" fill="#222" stroke="#222" stroke-width="0.12" text-anchor="middle">4</text>
<line x1="71.45" y1="167.7" x2="71.45" y2="170.89999999999998" stroke="#444" stroke-width="0.6"/>
<text x="71.85" y="176.70" font-size="4.2" font-family="Liberation Sans, sans-serif" fill="#222" stroke="#222" stroke-width="0.12" text-anchor="middle">5</text>
<line x1="114.40" y1="167.7" x2="114.40" y2="170.89999999999998" stroke="#444" stroke-width="0.6"/>
<text x="114.80" y="176.70" font-size="4.2" font-family="Liberation Sans, sans-serif" fill="#222" stroke="#222" stroke-width="0.12" text-anchor="middle">6</text>
<line x1="157.35" y1="167.7" x2="157.35" y2="170.89999999999998" stroke="#444" stroke-width="0.6"/>
<text x="157.75" y="176.70" font-size="4.2" font-family="Liberation Sans, sans-serif" fill="#222" stroke="#222" stroke-width="0.12" text-anchor="middle">7</text>
<line x1="200.30" y1="167.7" x2="200.30" y2="170.89999999999998" stroke="#444" stroke-width="0.6"/>
<text x="200.70" y="176.70" font-size="4.2" font-family="Liberation Sans, sans-serif" fill="#222" stroke="#222" stroke-width="0.12" text-anchor="middle">8</text>
<line x1="25.3" y1="167.70" x2="28.5" y2="167.70" stroke="#444" stroke-width="0.6"/>
<text x="23.5" y="166.80" font-size="4.2" font-family="Liberation Sans, sans-serif" fill="#222" stroke="#222" stroke-width="0.12" text-anchor="end">25</text>
<line x1="25.3" y1="136.10" x2="28.5" y2="136.10" stroke="#444" stroke-width="0.6"/>
<text x="23.5" y="135.20" font-size="4.2" font-family="Liberation Sans, sans-serif" fill="#222" stroke="#222" stroke-width="0.12" text-anchor="end">30</text>
<line x1="25.3" y1="104.50" x2="28.5" y2="104.50" stroke="#444" stroke-width="0.6"/>
<text x="23.5" y="103.60" font-size="4.2" font-family="Liberation Sans, sans-serif" fill="#222" stroke="#222" stroke-width="0.12" text-anchor="end">35</text>
<line x1="25.3" y1="72.90" x2="28.5" y2="72.90" stroke="#444" stroke-width="0.6"/>
<text x="23.5" y="72.00" font-size="4.2" font-family="Liberation Sans, sans-serif" fill="#222" stroke="#222" stroke-width="0.12" text-anchor="end">40</text>
<line x1="25.3" y1="41.30" x2="28.5" y2="41.30" stroke="#444" stroke-width="0.6"/>
<text x="23.5" y="40.40" font-size="4.2" font-family="Liberation Sans, sans-serif" fill="#222" stroke="#222" stroke-width="0.12" text-anchor="end">45</text>
<line x1="25.3" y1="9.70" x2="28.5" y2="9.70" stroke="#444" stroke-width="0.6"/>
<text x="23.5" y="8.80" font-size="4.2" font-family="Liberation Sans, sans-serif" fill="#222" stroke="#222" stroke-width="0.12" text-anchor="end">50</text>
<text x="114" y="6.8" font-size="6.1" font-family="Liberation Sans, sans-serif" fill="#222" text-anchor="middle">R1</text>
<text x="105" y="185" font-size="9.6" font-weight="bold" font-family="Liberation Serif, serif" fill="#222" text-anchor="middle">A: Total Lipid (%w/v)</text>
<text transform="translate(5.4,84.5) rotate(90)" font-size="8.25" font-weight="bold" font-family="Liberation Serif, serif" fill="#222" text-anchor="middle">B: Liquid lipid to Total Lipid (%w/v)</text>
<defs>
<linearGradient id="s2_0"><stop offset="0.000" stop-color="#00a2ff"/><stop offset="0.083" stop-color="#00b2ff"/><stop offset="0.167" stop-color="#00c4ff"/><stop offset="0.250" stop-color="#00d7ff"/><stop offset="0.333" stop-color="#00ebff"/><stop offset="0.417" stop-color="#00ffff"/><stop offset="0.500" stop-color="#00ffe9"/><stop offset="0.583" stop-color="#00ffd3"/><stop offset="0.667" stop-color="#00ffbb"/><stop offset="0.750" stop-color="#00ffa2"/><stop offset="0.833" stop-color="#00ff89"/><stop offset="0.917" stop-color="#00ff6e"/><stop offset="1.000" stop-color="#00ff53"/></linearGradient>
<linearGradient id="s2_1"><stop offset="0.000" stop-color="#00b1ff"/><stop offset="0.083" stop-color="#00c0ff"/><stop offset="0.167" stop-color="#00d1ff"/><stop offset="0.250" stop-color="#00e3ff"/><stop offset="0.333" stop-color="#00f6ff"/><stop offset="0.417" stop-color="#00fff4"/><stop offset="0.500" stop-color="#00ffdf"/><stop offset="0.583" stop-color="#00ffc9"/><stop offset="0.667" stop-color="#00ffb2"/><stop offset="0.750" stop-color="#00ff9b"/><stop offset="0.833" stop-color="#00ff82"/><stop offset="0.917" stop-color="#00ff68"/><stop offset="1.000" stop-color="#00ff4d"/></linearGradient>
<linearGradient id="s2_2"><stop offset="0.000" stop-color="#00bfff"/><stop offset="0.083" stop-color="#00ceff"/><stop offset="0.167" stop-color="#00deff"/><stop offset="0.250" stop-color="#00efff"/><stop offset="0.333" stop-color="#00fffc"/><stop offset="0.417" stop-color="#00ffe9"/><stop offset="0.500" stop-color="#00ffd5"/><stop offset="0.583" stop-color="#00ffc0"/><stop offset="0.667" stop-color="#00ffaa"/><stop offset="0.750" stop-color="#00ff93"/><stop offset="0.833" stop-color="#00ff7b"/><stop offset="0.917" stop-color="#00ff62"/><stop offset="1.000" stop-color="#00ff48"/></linearGradient>
<linearGradient id="s2_3"><stop offset="0.000" stop-color="#00cdff"/><stop offset="0.083" stop-color="#00dcff"/><stop offset="0.167" stop-color="#00ebff"/><stop offset="0.250" stop-color="#00fbff"/><stop offset="0.333" stop-color="#00fff1"/><stop offset="0.417" stop-color="#00ffdf"/><stop offset="0.500" stop-color="#00ffcc"/><stop offset="0.583" stop-color="#00ffb7"/><stop offset="0.667" stop-color="#00ffa2"/><stop offset="0.750" stop-color="#00ff8c"/><stop offset="0.833" stop-color="#00ff75"/><stop offset="0.917" stop-color="#00ff5c"/><stop offset="1.000" stop-color="#00ff43"/></linearGradient>
<linearGradient id="s2_4"><stop offset="0.000" stop-color="#00dbff"/><stop offset="0.083" stop-color="#00e9ff"/><stop offset="0.167" stop-color="#00f7ff"/><stop offset="0.250" stop-color="#00fff7"/><stop offset="0.333" stop-color="#00ffe6"/><stop offset="0.417" stop-color="#00ffd5"/><stop offset="0.500" stop-color="#00ffc2"/><stop offset="0.583" stop-color="#00ffaf"/><stop offset="0.667" stop-color="#00ff9a"/><stop offset="0.750" stop-color="#00ff85"/><stop offset="0.833" stop-color="#00ff6f"/><stop offset="0.917" stop-color="#00ff57"/><stop offset="1.000" stop-color="#00ff3f"/></linearGradient>
<linearGradient id="s2_5"><stop offset="0.000" stop-color="#00e9ff"/><stop offset="0.083" stop-color="#00f6ff"/><stop offset="0.167" stop-color="#00fffb"/><stop offset="0.250" stop-color="#00ffec"/><stop offset="0.333" stop-color="#00ffdc"/><stop offset="0.417" stop-color="#00ffcb"/><stop offset="0.500" stop-color="#00ffb9"/><stop offset="0.583" stop-color="#00ffa7"/><stop offset="0.667" stop-color="#00ff93"/><stop offset="0.750" stop-color="#00ff7e"/><stop offset="0.833" stop-color="#00ff69"/><stop offset="0.917" stop-color="#00ff52"/><stop offset="1.000" stop-color="#00ff3a"/></linearGradient>
<linearGradient id="s2_6"><stop offset="0.000" stop-color="#00f6ff"/><stop offset="0.083" stop-color="#00fffc"/><stop offset="0.167" stop-color="#00ffef"/><stop offset="0.250" stop-color="#00ffe1"/><stop offset="0.333" stop-color="#00ffd2"/><stop offset="0.417" stop-color="#00ffc2"/><stop offset="0.500" stop-color="#00ffb1"/><stop offset="0.583" stop-color="#00ff9f"/><stop offset="0.667" stop-color="#00ff8c"/><stop offset="0.750" stop-color="#00ff78"/><stop offset="0.833" stop-color="#00ff63"/><stop offset="0.917" stop-color="#00ff4d"/><stop offset="1.000" stop-color="#00ff36"/></linearGradient>
<linearGradient id="s2_7"><stop offset="0.000" stop-color="#00fffb"/><stop offset="0.083" stop-color="#00fff0"/><stop offset="0.167" stop-color="#00ffe3"/><stop offset="0.250" stop-color="#00ffd6"/><stop offset="0.333" stop-color="#00ffc8"/><stop offset="0.417" stop-color="#00ffb8"/><stop offset="0.500" stop-color="#00ffa8"/><stop offset="0.583" stop-color="#00ff97"/><stop offset="0.667" stop-color="#00ff85"/><stop offset="0.750" stop-color="#00ff72"/><stop offset="0.833" stop-color="#00ff5e"/><stop offset="0.917" stop-color="#00ff49"/><stop offset="1.000" stop-color="#00ff33"/></linearGradient>
<linearGradient id="s2_8"><stop offset="0.000" stop-color="#00ffee"/><stop offset="0.083" stop-color="#00ffe4"/><stop offset="0.167" stop-color="#00ffd8"/><stop offset="0.250" stop-color="#00ffcb"/><stop offset="0.333" stop-color="#00ffbe"/><stop offset="0.417" stop-color="#00ffb0"/><stop offset="0.500" stop-color="#00ffa0"/><stop offset="0.583" stop-color="#00ff90"/><stop offset="0.667" stop-color="#00ff7e"/><stop offset="0.750" stop-color="#00ff6c"/><stop offset="0.833" stop-color="#00ff59"/><stop offset="0.917" stop-color="#00ff44"/><stop offset="1.000" stop-color="#00ff2f"/></linearGradient>
<linearGradient id="s2_9"><stop offset="0.000" stop-color="#00ffe2"/><stop offset="0.083" stop-color="#00ffd8"/><stop offset="0.167" stop-color="#00ffcd"/><stop offset="0.250" stop-color="#00ffc1"/><stop offset="0.333" stop-color="#00ffb5"/><stop offset="0.417" stop-color="#00ffa7"/><stop offset="0.500" stop-color="#00ff98"/><stop offset="0.583" stop-color="#00ff89"/><stop offset="0.667" stop-color="#00ff78"/><stop offset="0.750" stop-color="#00ff66"/><stop offset="0.833" stop-color="#00ff54"/><stop offset="0.917" stop-color="#00ff40"/><stop offset="1.000" stop-color="#00ff2c"/></linearGradient>
<linearGradient id="s2_10"><stop offset="0.000" stop-color="#00ffd5"/><stop offset="0.083" stop-color="#00ffcc"/><stop offset="0.167" stop-color="#00ffc2"/><stop offset="0.250" stop-color="#00ffb7"/><stop offset="0.333" stop-color="#00ffab"/><stop offset="0.417" stop-color="#00ff9f"/><stop offset="0.500" stop-color="#00ff91"/><stop offset="0.583" stop-color="#00ff82"/><stop offset="0.667" stop-color="#00ff72"/><stop offset="0.750" stop-color="#00ff61"/><stop offset="0.833" stop-color="#00ff4f"/><stop offset="0.917" stop-color="#00ff3d"/><stop offset="1.000" stop-color="#00ff29"/></linearGradient>
<linearGradient id="s2_11"><stop offset="0.000" stop-color="#00ffc9"/><stop offset="0.083" stop-color="#00ffc1"/><stop offset="0.167" stop-color="#00ffb8"/><stop offset="0.250" stop-color="#00ffae"/><stop offset="0.333" stop-color="#00ffa3"/><stop offset="0.417" stop-color="#00ff96"/><stop offset="0.500" stop-color="#00ff89"/><stop offset="0.583" stop-color="#00ff7b"/><stop offset="0.667" stop-color="#00ff6c"/><stop offset="0.750" stop-color="#00ff5c"/><stop offset="0.833" stop-color="#00ff4b"/><stop offset="0.917" stop-color="#00ff39"/><stop offset="1.000" stop-color="#00ff26"/></linearGradient>
<linearGradient id="s2_12"><stop offset="0.000" stop-color="#00ffbe"/><stop offset="0.083" stop-color="#00ffb6"/><stop offset="0.167" stop-color="#00ffae"/><stop offset="0.250" stop-color="#00ffa4"/><stop offset="0.333" stop-color="#00ff9a"/><stop offset="0.417" stop-color="#00ff8f"/><stop offset="0.500" stop-color="#00ff82"/><stop offset="0.583" stop-color="#00ff75"/><stop offset="0.667" stop-color="#00ff67"/><stop offset="0.750" stop-color="#00ff57"/><stop offset="0.833" stop-color="#00ff47"/><stop offset="0.917" stop-color="#00ff36"/><stop offset="1.000" stop-color="#00ff24"/></linearGradient>
<linearGradient id="s2_13"><stop offset="0.000" stop-color="#00ffb2"/><stop offset="0.083" stop-color="#00ffac"/><stop offset="0.167" stop-color="#00ffa4"/><stop offset="0.250" stop-color="#00ff9b"/><stop offset="0.333" stop-color="#00ff92"/><stop offset="0.417" stop-color="#00ff87"/><stop offset="0.500" stop-color="#00ff7c"/><stop offset="0.583" stop-color="#00ff6f"/><stop offset="0.667" stop-color="#00ff61"/><stop offset="0.750" stop-color="#00ff53"/><stop offset="0.833" stop-color="#00ff44"/><stop offset="0.917" stop-color="#00ff33"/><stop offset="1.000" stop-color="#00ff22"/></linearGradient>
<linearGradient id="s2_14"><stop offset="0.000" stop-color="#00ffa7"/><stop offset="0.083" stop-color="#00ffa1"/><stop offset="0.167" stop-color="#00ff9a"/><stop offset="0.250" stop-color="#00ff92"/><stop offset="0.333" stop-color="#00ff8a"/><stop offset="0.417" stop-color="#00ff80"/><stop offset="0.500" stop-color="#00ff75"/><stop offset="0.583" stop-color="#00ff69"/><stop offset="0.667" stop-color="#00ff5d"/><stop offset="0.750" stop-color="#00ff4f"/><stop offset="0.833" stop-color="#00ff40"/><stop offset="0.917" stop-color="#00ff30"/><stop offset="1.000" stop-color="#00ff20"/></linearGradient>
<linearGradient id="s2_15"><stop offset="0.000" stop-color="#00ff9c"/><stop offset="0.083" stop-color="#00ff97"/><stop offset="0.167" stop-color="#00ff91"/><stop offset="0.250" stop-color="#00ff8a"/><stop offset="0.333" stop-color="#00ff82"/><stop offset="0.417" stop-color="#00ff79"/><stop offset="0.500" stop-color="#00ff6f"/><stop offset="0.583" stop-color="#00ff64"/><stop offset="0.667" stop-color="#00ff58"/><stop offset="0.750" stop-color="#00ff4b"/><stop offset="0.833" stop-color="#00ff3d"/><stop offset="0.917" stop-color="#00ff2e"/><stop offset="1.000" stop-color="#00ff1e"/></linearGradient>
<linearGradient id="s2_16"><stop offset="0.000" stop-color="#00ff92"/><stop offset="0.083" stop-color="#00ff8d"/><stop offset="0.167" stop-color="#00ff88"/><stop offset="0.250" stop-color="#00ff82"/><stop offset="0.333" stop-color="#00ff7a"/><stop offset="0.417" stop-color="#00ff72"/><stop offset="0.500" stop-color="#00ff69"/><stop offset="0.583" stop-color="#00ff5f"/><stop offset="0.667" stop-color="#00ff54"/><stop offset="0.750" stop-color="#00ff47"/><stop offset="0.833" stop-color="#00ff3a"/><stop offset="0.917" stop-color="#00ff2c"/><stop offset="1.000" stop-color="#00ff1d"/></linearGradient>
<linearGradient id="s2_17"><stop offset="0.000" stop-color="#00ff87"/><stop offset="0.083" stop-color="#00ff84"/><stop offset="0.167" stop-color="#00ff7f"/><stop offset="0.250" stop-color="#00ff7a"/><stop offset="0.333" stop-color="#00ff73"/><stop offset="0.417" stop-color="#00ff6c"/><stop offset="0.500" stop-color="#00ff63"/><stop offset="0.583" stop-color="#00ff5a"/><stop offset="0.667" stop-color="#00ff4f"/><stop offset="0.750" stop-color="#00ff44"/><stop offset="0.833" stop-color="#00ff38"/><stop offset="0.917" stop-color="#00ff2a"/><stop offset="1.000" stop-color="#00ff1c"/></linearGradient>
<linearGradient id="s2_18"><stop offset="0.000" stop-color="#00ff7d"/><stop offset="0.083" stop-color="#00ff7b"/><stop offset="0.167" stop-color="#00ff77"/><stop offset="0.250" stop-color="#00ff72"/><stop offset="0.333" stop-color="#00ff6c"/><stop offset="0.417" stop-color="#00ff66"/><stop offset="0.500" stop-color="#00ff5e"/><stop offset="0.583" stop-color="#00ff55"/><stop offset="0.667" stop-color="#00ff4c"/><stop offset="0.750" stop-color="#00ff41"/><stop offset="0.833" stop-color="#00ff35"/><stop offset="0.917" stop-color="#00ff29"/><stop offset="1.000" stop-color="#00ff1b"/></linearGradient>
<linearGradient id="s2_19"><stop offset="0.000" stop-color="#00ff74"/><stop offset="0.083" stop-color="#00ff72"/><stop offset="0.167" stop-color="#00ff6f"/><stop offset="0.250" stop-color="#00ff6b"/><stop offset="0.333" stop-color="#00ff66"/><stop offset="0.417" stop-color="#00ff60"/><stop offset="0.500" stop-color="#00ff59"/><stop offset="0.583" stop-color="#00ff51"/><stop offset="0.667" stop-color="#00ff48"/><stop offset="0.750" stop-color="#00ff3e"/><stop offset="0.833" stop-color="#00ff33"/><stop offset="0.917" stop-color="#00ff28"/><stop offset="1.000" stop-color="#00ff1b"/></linearGradient>
<linearGradient id="s2_20"><stop offset="0.000" stop-color="#00ff6a"/><stop offset="0.083" stop-color="#00ff69"/><stop offset="0.167" stop-color="#00ff67"/><stop offset="0.250" stop-color="#00ff63"/><stop offset="0.333" stop-color="#00ff5f"/><stop offset="0.417" stop-color="#00ff5a"/><stop offset="0.500" stop-color="#00ff54"/><stop offset="0.583" stop-color="#00ff4d"/><stop offset="0.667" stop-color="#00ff45"/><stop offset="0.750" stop-color="#00ff3c"/><stop offset="0.833" stop-color="#00ff32"/><stop offset="0.917" stop-color="#00ff27"/><stop offset="1.000" stop-color="#00ff1b"/></linearGradient>
<linearGradient id="s2_21"><stop offset="0.000" stop-color="#00ff61"/><stop offset="0.083" stop-color="#00ff60"/><stop offset="0.167" stop-color="#00ff5f"/><stop offset="0.250" stop-color="#00ff5d"/><stop offset="0.333" stop-color="#00ff59"/><stop offset="0.417" stop-color="#00ff55"/><stop offset="0.500" stop-color="#00ff4f"/><stop offset="0.583" stop-color="#00ff49"/><stop offset="0.667" stop-color="#00ff42"/><stop offset="0.750" stop-color="#00ff39"/><stop offset="0.833" stop-color="#00ff30"/><stop offset="0.917" stop-color="#00ff26"/><stop offset="1.000" stop-color="#00ff1b"/></linearGradient>
<linearGradient id="s2_22"><stop offset="0.000" stop-color="#00ff58"/><stop offset="0.083" stop-color="#00ff58"/><stop offset="0.167" stop-color="#00ff58"/><stop offset="0.250" stop-color="#00ff56"/><stop offset="0.333" stop-color="#00ff53"/><stop offset="0.417" stop-color="#00ff50"/><stop offset="0.500" stop-color="#00ff4b"/><stop offset="0.583" stop-color="#00ff46"/><stop offset="0.667" stop-color="#00ff3f"/><stop offset="0.750" stop-color="#00ff38"/><stop offset="0.833" stop-color="#00ff2f"/><stop offset="0.917" stop-color="#00ff26"/><stop offset="1.000" stop-color="#00ff1b"/></linearGradient>
<linearGradient id="s2_23"><stop offset="0.000" stop-color="#00ff4f"/><stop offset="0.083" stop-color="#00ff51"/><stop offset="0.167" stop-color="#00ff51"/><stop offset="0.250" stop-color="#00ff50"/><stop offset="0.333" stop-color="#00ff4e"/><stop offset="0.417" stop-color="#00ff4b"/><stop offset="0.500" stop-color="#00ff47"/><stop offset="0.583" stop-color="#00ff42"/><stop offset="0.667" stop-color="#00ff3d"/><stop offset="0.750" stop-color="#00ff36"/><stop offset="0.833" stop-color="#00ff2e"/><stop offset="0.917" stop-color="#00ff25"/><stop offset="1.000" stop-color="#00ff1c"/></linearGradient>
<linearGradient id="s2_24"><stop offset="0.000" stop-color="#00ff47"/><stop offset="0.083" stop-color="#00ff49"/><stop offset="0.167" stop-color="#00ff4a"/><stop offset="0.250" stop-color="#00ff4a"/><stop offset="0.333" stop-color="#00ff49"/><stop offset="0.417" stop-color="#00ff47"/><stop offset="0.500" stop-color="#00ff44"/><stop offset="0.583" stop-color="#00ff3f"/><stop offset="0.667" stop-color="#00ff3a"/><stop offset="0.750" stop-color="#00ff35"/><stop offset="0.833" stop-color="#00ff2e"/><stop offset="0.917" stop-color="#00ff26"/><stop offset="1.000" stop-color="#00ff1d"/></linearGradient>
<linearGradient id="s2_25"><stop offset="0.000" stop-color="#00ff3f"/><stop offset="0.083" stop-color="#00ff42"/><stop offset="0.167" stop-color="#00ff43"/><stop offset="0.250" stop-color="#00ff44"/><stop offset="0.333" stop-color="#00ff44"/><stop offset="0.417" stop-color="#00ff42"/><stop offset="0.500" stop-color="#00ff40"/><stop offset="0.583" stop-color="#00ff3d"/><stop offset="0.667" stop-color="#00ff39"/><stop offset="0.750" stop-color="#00ff33"/><stop offset="0.833" stop-color="#00ff2d"/><stop offset="0.917" stop-color="#00ff26"/><stop offset="1.000" stop-color="#00ff1e"/></linearGradient>
<linearGradient id="s2_26"><stop offset="0.000" stop-color="#00ff37"/><stop offset="0.083" stop-color="#00ff3b"/><stop offset="0.167" stop-color="#00ff3d"/><stop offset="0.250" stop-color="#00ff3e"/><stop offset="0.333" stop-color="#00ff3f"/><stop offset="0.417" stop-color="#00ff3e"/><stop offset="0.500" stop-color="#00ff3d"/><stop offset="0.583" stop-color="#00ff3a"/><stop offset="0.667" stop-color="#00ff37"/><stop offset="0.750" stop-color="#00ff33"/><stop offset="0.833" stop-color="#00ff2d"/><stop offset="0.917" stop-color="#00ff27"/><stop offset="1.000" stop-color="#00ff1f"/></linearGradient>
<linearGradient id="s2_27"><stop offset="0.000" stop-color="#00ff30"/><stop offset="0.083" stop-color="#00ff34"/><stop offset="0.167" stop-color="#00ff37"/><stop offset="0.250" stop-color="#00ff39"/><stop offset="0.333" stop-color="#00ff3b"/><stop offset="0.417" stop-color="#00ff3b"/><stop offset="0.500" stop-color="#00ff3a"/><stop offset="0.583" stop-color="#00ff38"/><stop offset="0.667" stop-color="#00ff36"/><stop offset="0.750" stop-color="#00ff32"/><stop offset="0.833" stop-color="#00ff2d"/><stop offset="0.917" stop-color="#00ff28"/><stop offset="1.000" stop-color="#00ff21"/></linearGradient>
<linearGradient id="s2_28"><stop offset="0.000" stop-color="#00ff28"/><stop offset="0.083" stop-color="#00ff2d"/><stop offset="0.167" stop-color="#00ff31"/><stop offset="0.250" stop-color="#00ff34"/><stop offset="0.333" stop-color="#00ff36"/><stop offset="0.417" stop-color="#00ff37"/><stop offset="0.500" stop-color="#00ff37"/><stop offset="0.583" stop-color="#00ff37"/><stop offset="0.667" stop-color="#00ff35"/><stop offset="0.750" stop-color="#00ff32"/><stop offset="0.833" stop-color="#00ff2e"/><stop offset="0.917" stop-color="#00ff29"/><stop offset="1.000" stop-color="#00ff23"/></linearGradient>
<linearGradient id="s2_29"><stop offset="0.000" stop-color="#00ff22"/><stop offset="0.083" stop-color="#00ff27"/><stop offset="0.167" stop-color="#00ff2c"/><stop offset="0.250" stop-color="#00ff30"/><stop offset="0.333" stop-color="#00ff33"/><stop offset="0.417" stop-color="#00ff34"/><stop offset="0.500" stop-color="#00ff35"/><stop offset="0.583" stop-color="#00ff35"/><stop offset="0.667" stop-color="#00ff34"/><stop offset="0.750" stop-color="#00ff32"/><stop offset="0.833" stop-color="#00ff2f"/><stop offset="0.917" stop-color="#00ff2b"/><stop offset="1.000" stop-color="#00ff26"/></linearGradient>
<linearGradient id="s2_30"><stop offset="0.000" stop-color="#00ff1b"/><stop offset="0.083" stop-color="#00ff21"/><stop offset="0.167" stop-color="#00ff27"/><stop offset="0.250" stop-color="#00ff2b"/><stop offset="0.333" stop-color="#00ff2f"/><stop offset="0.417" stop-color="#00ff32"/><stop offset="0.500" stop-color="#00ff33"/><stop offset="0.583" stop-color="#00ff34"/><stop offset="0.667" stop-color="#00ff33"/><stop offset="0.750" stop-color="#00ff32"/><stop offset="0.833" stop-color="#00ff30"/><stop offset="0.917" stop-color="#00ff2c"/><stop offset="1.000" stop-color="#00ff28"/></linearGradient>
<linearGradient id="s2_31"><stop offset="0.000" stop-color="#00ff14"/><stop offset="0.083" stop-color="#00ff1c"/><stop offset="0.167" stop-color="#00ff22"/><stop offset="0.250" stop-color="#00ff27"/><stop offset="0.333" stop-color="#00ff2c"/><stop offset="0.417" stop-color="#00ff2f"/><stop offset="0.500" stop-color="#00ff31"/><stop offset="0.583" stop-color="#00ff33"/><stop offset="0.667" stop-color="#00ff33"/><stop offset="0.750" stop-color="#00ff33"/><stop offset="0.833" stop-color="#00ff31"/><stop offset="0.917" stop-color="#00ff2f"/><stop offset="1.000" stop-color="#00ff2b"/></linearGradient>
<linearGradient id="s2_32"><stop offset="0.000" stop-color="#00ff0e"/><stop offset="0.083" stop-color="#00ff16"/><stop offset="0.167" stop-color="#00ff1d"/><stop offset="0.250" stop-color="#00ff24"/><stop offset="0.333" stop-color="#00ff29"/><stop offset="0.417" stop-color="#00ff2d"/><stop offset="0.500" stop-color="#00ff30"/><stop offset="0.583" stop-color="#00ff32"/><stop offset="0.667" stop-color="#00ff33"/><stop offset="0.750" stop-color="#00ff33"/><stop offset="0.833" stop-color="#00ff33"/><stop offset="0.917" stop-color="#00ff31"/><stop offset="1.000" stop-color="#00ff2e"/></linearGradient>
<linearGradient id="s2_33"><stop offset="0.000" stop-color="#00ff08"/><stop offset="0.083" stop-color="#00ff11"/><stop offset="0.167" stop-color="#00ff19"/><stop offset="0.250" stop-color="#00ff20"/><stop offset="0.333" stop-color="#00ff26"/><stop offset="0.417" stop-color="#00ff2b"/><stop offset="0.500" stop-color="#00ff2f"/><stop offset="0.583" stop-color="#00ff32"/><stop offset="0.667" stop-color="#00ff34"/><stop offset="0.750" stop-color="#00ff35"/><stop offset="0.833" stop-color="#00ff35"/><stop offset="0.917" stop-color="#00ff34"/><stop offset="1.000" stop-color="#00ff32"/></linearGradient>
<linearGradient id="s2_34"><stop offset="0.000" stop-color="#00ff03"/><stop offset="0.083" stop-color="#00ff0c"/><stop offset="0.167" stop-color="#00ff15"/><stop offset="0.250" stop-color="#00ff1d"/><stop offset="0.333" stop-color="#00ff23"/><stop offset="0.417" stop-color="#00ff29"/><stop offset="0.500" stop-color="#00ff2e"/><stop offset="0.583" stop-color="#00ff32"/><stop offset="0.667" stop-color="#00ff34"/><stop offset="0.750" stop-color="#00ff36"/><stop offset="0.833" stop-color="#00ff37"/><stop offset="0.917" stop-color="#00ff37"/><stop offset="1.000" stop-color="#00ff35"/></linearGradient>
<linearGradient id="s2_35"><stop offset="0.000" stop-color="#02ff00"/><stop offset="0.083" stop-color="#00ff08"/><stop offset="0.167" stop-color="#00ff11"/><stop offset="0.250" stop-color="#00ff1a"/><stop offset="0.333" stop-color="#00ff21"/><stop offset="0.417" stop-color="#00ff28"/><stop offset="0.500" stop-color="#00ff2d"/><stop offset="0.583" stop-color="#00ff32"/><stop offset="0.667" stop-color="#00ff35"/><stop offset="0.750" stop-color="#00ff38"/><stop offset="0.833" stop-color="#00ff39"/><stop offset="0.917" stop-color="#00ff3a"/><stop offset="1.000" stop-color="#00ff39"/></linearGradient>
<linearGradient id="s2_36"><stop offset="0.000" stop-color="#07ff00"/><stop offset="0.083" stop-color="#00ff04"/><stop offset="0.167" stop-color="#00ff0e"/><stop offset="0.250" stop-color="#00ff17"/><stop offset="0.333" stop-color="#00ff1f"/><stop offset="0.417" stop-color="#00ff27"/><stop offset="0.500" stop-color="#00ff2d"/><stop offset="0.583" stop-color="#00ff32"/><stop offset="0.667" stop-color="#00ff36"/><stop offset="0.750" stop-color="#00ff3a"/><stop offset="0.833" stop-color="#00ff3c"/><stop offset="0.917" stop-color="#00ff3d"/><stop offset="1.000" stop-color="#00ff3e"/></linearGradient>
<linearGradient id="s2_37"><stop offset="0.000" stop-color="#0cff00"/><stop offset="0.083" stop-color="#00ff00"/><stop offset="0.167" stop-color="#00ff0b"/><stop offset="0.250" stop-color="#00ff15"/><stop offset="0.333" stop-color="#00ff1e"/><stop offset="0.417" stop-color="#00ff26"/><stop offset="0.500" stop-color="#00ff2d"/><stop offset="0.583" stop-color="#00ff33"/><stop offset="0.667" stop-color="#00ff38"/><stop offset="0.750" stop-color="#00ff3c"/><stop offset="0.833" stop-color="#00ff3f"/><stop offset="0.917" stop-color="#00ff41"/><stop offset="1.000" stop-color="#00ff42"/></linearGradient>
<linearGradient id="s2_38"><stop offset="0.000" stop-color="#11ff00"/><stop offset="0.083" stop-color="#04ff00"/><stop offset="0.167" stop-color="#00ff08"/><stop offset="0.250" stop-color="#00ff13"/><stop offset="0.333" stop-color="#00ff1c"/><stop offset="0.417" stop-color="#00ff25"/><stop offset="0.500" stop-color="#00ff2d"/><stop offset="0.583" stop-color="#00ff34"/><stop offset="0.667" stop-color="#00ff3a"/><stop offset="0.750" stop-color="#00ff3e"/><stop offset="0.833" stop-color="#00ff42"/><stop offset="0.917" stop-color="#00ff45"/><stop offset="1.000" stop-color="#00ff47"/></linearGradient>
<linearGradient id="s2_39"><stop offset="0.000" stop-color="#15ff00"/><stop offset="0.083" stop-color="#07ff00"/><stop offset="0.167" stop-color="#00ff05"/><stop offset="0.250" stop-color="#00ff11"/><stop offset="0.333" stop-color="#00ff1b"/><stop offset="0.417" stop-color="#00ff25"/><stop offset="0.500" stop-color="#00ff2d"/><stop offset="0.583" stop-color="#00ff35"/><stop offset="0.667" stop-color="#00ff3c"/><stop offset="0.750" stop-color="#00ff41"/><stop offset="0.833" stop-color="#00ff46"/><stop offset="0.917" stop-color="#00ff4a"/><stop offset="1.000" stop-color="#00ff4c"/></linearGradient>
<linearGradient id="s2_40"><stop offset="0.000" stop-color="#19ff00"/><stop offset="0.083" stop-color="#0aff00"/><stop offset="0.167" stop-color="#00ff03"/><stop offset="0.250" stop-color="#00ff0f"/><stop offset="0.333" stop-color="#00ff1a"/><stop offset="0.417" stop-color="#00ff25"/><stop offset="0.500" stop-color="#00ff2e"/><stop offset="0.583" stop-color="#00ff36"/><stop offset="0.667" stop-color="#00ff3e"/><stop offset="0.750" stop-color="#00ff44"/><stop offset="0.833" stop-color="#00ff4a"/><stop offset="0.917" stop-color="#00ff4e"/><stop offset="1.000" stop-color="#00ff52"/></linearGradient>
<linearGradient id="s2_41"><stop offset="0.000" stop-color="#1cff00"/><stop offset="0.083" stop-color="#0dff00"/><stop offset="0.167" stop-color="#00ff01"/><stop offset="0.250" stop-color="#00ff0e"/><stop offset="0.333" stop-color="#00ff1a"/><stop offset="0.417" stop-color="#00ff25"/><stop offset="0.500" stop-color="#00ff2f"/><stop offset="0.583" stop-color="#00ff38"/><stop offset="0.667" stop-color="#00ff40"/><stop offset="0.750" stop-color="#00ff48"/><stop offset="0.833" stop-color="#00ff4e"/><stop offset="0.917" stop-color="#00ff53"/><stop offset="1.000" stop-color="#00ff57"/></linearGradient>
<linearGradient id="s2_42"><stop offset="0.000" stop-color="#20ff00"/><stop offset="0.083" stop-color="#10ff00"/><stop offset="0.167" stop-color="#01ff00"/><stop offset="0.250" stop-color="#00ff0d"/><stop offset="0.333" stop-color="#00ff1a"/><stop offset="0.417" stop-color="#00ff26"/><stop offset="0.500" stop-color="#00ff30"/><stop offset="0.583" stop-color="#00ff3a"/><stop offset="0.667" stop-color="#00ff43"/><stop offset="0.750" stop-color="#00ff4b"/><stop offset="0.833" stop-color="#00ff52"/><stop offset="0.917" stop-color="#00ff58"/><stop offset="1.000" stop-color="#00ff5d"/></linearGradient>
<linearGradient id="s2_43"><stop offset="0.000" stop-color="#23ff00"/><stop offset="0.083" stop-color="#12ff00"/><stop offset="0.167" stop-color="#03ff00"/><stop offset="0.250" stop-color="#00ff0c"/><stop offset="0.333" stop-color="#00ff1a"/><stop offset="0.417" stop-color="#00ff26"/><stop offset="0.500" stop-color="#00ff32"/><stop offset="0.583" stop-color="#00ff3d"/><stop offset="0.667" stop-color="#00ff46"/><stop offset="0.750" stop-color="#00ff4f"/><stop offset="0.833" stop-color="#00ff57"/><stop offset="0.917" stop-color="#00ff5e"/><stop offset="1.000" stop-color="#00ff63"/></linearGradient>
<linearGradient id="s2_44"><stop offset="0.000" stop-color="#25ff00"/><stop offset="0.083" stop-color="#14ff00"/><stop offset="0.167" stop-color="#04ff00"/><stop offset="0.250" stop-color="#00ff0c"/><stop offset="0.333" stop-color="#00ff1a"/><stop offset="0.417" stop-color="#00ff27"/><stop offset="0.500" stop-color="#00ff34"/><stop offset="0.583" stop-color="#00ff3f"/><stop offset="0.667" stop-color="#00ff4a"/><stop offset="0.750" stop-color="#00ff53"/><stop offset="0.833" stop-color="#00ff5c"/><stop offset="0.917" stop-color="#00ff63"/><stop offset="1.000" stop-color="#00ff6a"/></linearGradient>
<linearGradient id="s2_45"><stop offset="0.000" stop-color="#28ff00"/><stop offset="0.083" stop-color="#16ff00"/><stop offset="0.167" stop-color="#05ff00"/><stop offset="0.250" stop-color="#00ff0b"/><stop offset="0.333" stop-color="#00ff1b"/><stop offset="0.417" stop-color="#00ff29"/><stop offset="0.500" stop-color="#00ff36"/><stop offset="0.583" stop-color="#00ff42"/><stop offset="0.667" stop-color="#00ff4e"/><stop offset="0.750" stop-color="#00ff58"/><stop offset="0.833" stop-color="#00ff61"/><stop offset="0.917" stop-color="#00ff69"/><stop offset="1.000" stop-color="#00ff71"/></linearGradient>
<linearGradient id="s2_46"><stop offset="0.000" stop-color="#2aff00"/><stop offset="0.083" stop-color="#17ff00"/><stop offset="0.167" stop-color="#05ff00"/><stop offset="0.250" stop-color="#00ff0b"/><stop offset="0.333" stop-color="#00ff1b"/><stop offset="0.417" stop-color="#00ff2a"/><stop offset="0.500" stop-color="#00ff38"/><stop offset="0.583" stop-color="#00ff45"/><stop offset="0.667" stop-color="#00ff51"/><stop offset="0.750" stop-color="#00ff5d"/><stop offset="0.833" stop-color="#00ff67"/><stop offset="0.917" stop-color="#00ff70"/><stop offset="1.000" stop-color="#00ff78"/></linearGradient>
<linearGradient id="s2_47"><stop offset="0.000" stop-color="#2cff00"/><stop offset="0.083" stop-color="#19ff00"/><stop offset="0.167" stop-color="#06ff00"/><stop offset="0.250" stop-color="#00ff0c"/><stop offset="0.333" stop-color="#00ff1d"/><stop offset="0.417" stop-color="#00ff2c"/><stop offset="0.500" stop-color="#00ff3b"/><stop offset="0.583" stop-color="#00ff49"/><stop offset="0.667" stop-color="#00ff56"/><stop offset="0.750" stop-color="#00ff62"/><stop offset="0.833" stop-color="#00ff6c"/><stop offset="0.917" stop-color="#00ff76"/><stop offset="1.000" stop-color="#00ff7f"/></linearGradient>
<linearGradient id="s2_48"><stop offset="0.000" stop-color="#2eff00"/><stop offset="0.083" stop-color="#19ff00"/><stop offset="0.167" stop-color="#06ff00"/><stop offset="0.250" stop-color="#00ff0d"/><stop offset="0.333" stop-color="#00ff1e"/><stop offset="0.417" stop-color="#00ff2f"/><stop offset="0.500" stop-color="#00ff3e"/><stop offset="0.583" stop-color="#00ff4d"/><stop offset="0.667" stop-color="#00ff5a"/><stop offset="0.750" stop-color="#00ff67"/><stop offset="0.833" stop-color="#00ff72"/><stop offset="0.917" stop-color="#00ff7d"/><stop offset="1.000" stop-color="#00ff87"/></linearGradient>
<linearGradient id="s2_49"><stop offset="0.000" stop-color="#2fff00"/><stop offset="0.083" stop-color="#1aff00"/><stop offset="0.167" stop-color="#06ff00"/><stop offset="0.250" stop-color="#00ff0d"/><stop offset="0.333" stop-color="#00ff20"/><stop offset="0.417" stop-color="#00ff31"/><stop offset="0.500" stop-color="#00ff41"/><stop offset="0.583" stop-color="#00ff51"/><stop offset="0.667" stop-color="#00ff5f"/><stop offset="0.750" stop-color="#00ff6c"/><stop offset="0.833" stop-color="#00ff79"/><stop offset="0.917" stop-color="#00ff84"/><stop offset="1.000" stop-color="#00ff8f"/></linearGradient>
<linearGradient id="s2_50"><stop offset="0.000" stop-color="#30ff00"/><stop offset="0.083" stop-color="#1aff00"/><stop offset="0.167" stop-color="#05ff00"/><stop offset="0.250" stop-color="#00ff0f"/><stop offset="0.333" stop-color="#00ff22"/><stop offset="0.417" stop-color="#00ff34"/><stop offset="0.500" stop-color="#00ff45"/><stop offset="0.583" stop-color="#00ff55"/><stop offset="0.667" stop-color="#00ff64"/><stop offset="0.750" stop-color="#00ff72"/><stop offset="0.833" stop-color="#00ff7f"/><stop offset="0.917" stop-color="#00ff8c"/><stop offset="1.000" stop-color="#00ff97"/></linearGradient>
<linearGradient id="s2_51"><stop offset="0.000" stop-color="#31ff00"/><stop offset="0.083" stop-color="#1aff00"/><stop offset="0.167" stop-color="#05ff00"/><stop offset="0.250" stop-color="#00ff10"/><stop offset="0.333" stop-color="#00ff24"/><stop offset="0.417" stop-color="#00ff37"/><stop offset="0.500" stop-color="#00ff49"/><stop offset="0.583" stop-color="#00ff5a"/><stop offset="0.667" stop-color="#00ff69"/><stop offset="0.750" stop-color="#00ff78"/><stop offset="0.833" stop-color="#00ff86"/><stop offset="0.917" stop-color="#00ff93"/><stop offset="1.000" stop-color="#00ff9f"/></linearGradient>
<linearGradient id="s2_52"><stop offset="0.000" stop-color="#32ff00"/><stop offset="0.083" stop-color="#1aff00"/><stop offset="0.167" stop-color="#04ff00"/><stop offset="0.250" stop-color="#00ff12"/><stop offset="0.333" stop-color="#00ff26"/><stop offset="0.417" stop-color="#00ff3a"/><stop offset="0.500" stop-color="#00ff4d"/><stop offset="0.583" stop-color="#00ff5e"/><stop offset="0.667" stop-color="#00ff6f"/><stop offset="0.750" stop-color="#00ff7f"/><stop offset="0.833" stop-color="#00ff8e"/><stop offset="0.917" stop-color="#00ff9b"/><stop offset="1.000" stop-color="#00ffa8"/></linearGradient>
</defs>
<g shape-rendering="crispEdges">
<rect x="250.6" y="10.70" width="177.1" height="3.59" fill="url(#s2_0)"/>
<rect x="250.6" y="13.69" width="177.1" height="3.59" fill="url(#s2_1)"/>
<rect x="250.6" y="16.68" width="177.1" height="3.59" fill="url(#s2_2)"/>
<rect x="250.6" y="19.67" width="177.1" height="3.59" fill="url(#s2_3)"/>
<rect x="250.6" y="22.65" width="177.1" height="3.59" fill="url(#s2_4)"/>
<rect x="250.6" y="25.64" width="177.1" height="3.59" fill="url(#s2_5)"/>
<rect x="250.6" y="28.63" width="177.1" height="3.59" fill="url(#s2_6)"/>
<rect x="250.6" y="31.62" width="177.1" height="3.59" fill="url(#s2_7)"/>
<rect x="250.6" y="34.61" width="177.1" height="3.59" fill="url(#s2_8)"/>
<rect x="250.6" y="37.60" width="177.1" height="3.59" fill="url(#s2_9)"/>
<rect x="250.6" y="40.59" width="177.1" height="3.59" fill="url(#s2_10)"/>
<rect x="250.6" y="43.58" width="177.1" height="3.59" fill="url(#s2_11)"/>
<rect x="250.6" y="46.56" width="177.1" height="3.59" fill="url(#s2_12)"/>
<rect x="250.6" y="49.55" width="177.1" height="3.59" fill="url(#s2_13)"/>
<rect x="250.6" y="52.54" width="177.1" height="3.59" fill="url(#s2_14)"/>
<rect x="250.6" y="55.53" width="177.1" height="3.59" fill="url(#s2_15)"/>
<rect x="250.6" y="58.52" width="177.1" height="3.59" fill="url(#s2_16)"/>
<rect x="250.6" y="61.51" width="177.1" height="3.59" fill="url(#s2_17)"/>
<rect x="250.6" y="64.50" width="177.1" height="3.59" fill="url(#s2_18)"/>
<rect x="250.6" y="67.48" width="177.1" height="3.59" fill="url(#s2_19)"/>
<rect x="250.6" y="70.47" width="177.1" height="3.59" fill="url(#s2_20)"/>
<rect x="250.6" y="73.46" width="177.1" height="3.59" fill="url(#s2_21)"/>
<rect x="250.6" y="76.45" width="177.1" height="3.59" fill="url(#s2_22)"/>
<rect x="250.6" y="79.44" width="177.1" height="3.59" fill="url(#s2_23)"/>
<rect x="250.6" y="82.43" width="177.1" height="3.59" fill="url(#s2_24)"/>
<rect x="250.6" y="85.42" width="177.1" height="3.59" fill="url(#s2_25)"/>
<rect x="250.6" y="88.41" width="177.1" height="3.59" fill="url(#s2_26)"/>
<rect x="250.6" y="91.39" width="177.1" height="3.59" fill="url(#s2_27)"/>
<rect x="250.6" y="94.38" width="177.1" height="3.59" fill="url(#s2_28)"/>
<rect x="250.6" y="97.37" width="177.1" height="3.59" fill="url(#s2_29)"/>
<rect x="250.6" y="100.36" width="177.1" height="3.59" fill="url(#s2_30)"/>
<rect x="250.6" y="103.35" width="177.1" height="3.59" fill="url(#s2_31)"/>
<rect x="250.6" y="106.34" width="177.1" height="3.59" fill="url(#s2_32)"/>
<rect x="250.6" y="109.33" width="177.1" height="3.59" fill="url(#s2_33)"/>
<rect x="250.6" y="112.32" width="177.1" height="3.59" fill="url(#s2_34)"/>
<rect x="250.6" y="115.30" width="177.1" height="3.59" fill="url(#s2_35)"/>
<rect x="250.6" y="118.29" width="177.1" height="3.59" fill="url(#s2_36)"/>
<rect x="250.6" y="121.28" width="177.1" height="3.59" fill="url(#s2_37)"/>
<rect x="250.6" y="124.27" width="177.1" height="3.59" fill="url(#s2_38)"/>
<rect x="250.6" y="127.26" width="177.1" height="3.59" fill="url(#s2_39)"/>
<rect x="250.6" y="130.25" width="177.1" height="3.59" fill="url(#s2_40)"/>
<rect x="250.6" y="133.24" width="177.1" height="3.59" fill="url(#s2_41)"/>
<rect x="250.6" y="136.22" width="177.1" height="3.59" fill="url(#s2_42)"/>
<rect x="250.6" y="139.21" width="177.1" height="3.59" fill="url(#s2_43)"/>
<rect x="250.6" y="142.20" width="177.1" height="3.59" fill="url(#s2_44)"/>
<rect x="250.6" y="145.19" width="177.1" height="3.59" fill="url(#s2_45)"/>
<rect x="250.6" y="148.18" width="177.1" height="3.59" fill="url(#s2_46)"/>
<rect x="250.6" y="151.17" width="177.1" height="3.59" fill="url(#s2_47)"/>
<rect x="250.6" y="154.16" width="177.1" height="3.59" fill="url(#s2_48)"/>
<rect x="250.6" y="157.15" width="177.1" height="3.59" fill="url(#s2_49)"/>
<rect x="250.6" y="160.13" width="177.1" height="3.59" fill="url(#s2_50)"/>
<rect x="250.6" y="163.12" width="177.1" height="3.59" fill="url(#s2_51)"/>
<rect x="250.6" y="166.11" width="177.1" height="2.99" fill="url(#s2_52)"/>
</g>
<g fill="none" stroke="#0b2a0b" stroke-width="0.7">
<path d="M280.1,10.7L275.7,11.9L272.7,12.7L269.8,13.4L265.4,14.5L262.4,15.2L259.2,16.0L255.0,16.9L252.1,17.5L250.6,17.9"/>
<path d="M323.0,10.7L320.0,11.9L317.0,13.0L314.1,14.0L311.1,15.1L308.2,16.1L304.4,17.3L300.8,18.5L297.8,19.4L294.9,20.2L291.3,21.3L287.5,22.3L284.5,23.1L281.5,23.9L277.2,25.0L274.2,25.7L270.4,26.5L266.8,27.3L263.9,28.0L259.5,28.8L256.5,29.4L252.1,30.2L250.6,30.5"/>
<path d="M360.9,10.7L358.3,12.1L355.4,13.6L352.4,15.0L349.5,16.4L346.5,17.8L343.6,19.1L340.6,20.4L337.7,21.7L334.7,22.9L331.8,24.1L328.8,25.2L325.3,26.5L321.7,27.9L318.5,29.0L315.5,30.0L312.6,30.9L309.6,31.8L305.2,33.1L302.3,34.0L299.3,34.8L295.6,35.8L291.9,36.7L289.0,37.4L284.5,38.4L281.6,39.1L278.3,39.7L274.2,40.6L271.3,41.1L266.8,41.9L263.9,42.4L259.5,43.1L255.6,43.7L252.1,44.2L250.6,44.4"/>
<path d="M398.7,169.1L402.1,167.8L405.6,166.5L408.5,165.5L411.5,164.5L414.4,163.5L417.8,162.5L421.8,161.3L424.7,160.5L427.7,159.8L427.7,159.8"/>
<path d="M395.2,10.7L393.4,12.0L390.8,13.8L387.9,15.8L385.6,17.3L383.4,18.7L380.5,20.6L377.5,22.5L375.2,23.9L372.9,25.2L370.1,26.8L367.2,28.5L364.2,30.1L361.3,31.6L358.3,33.1L355.6,34.5L352.9,35.8L350.0,37.1L347.0,38.4L343.9,39.7L340.7,41.1L337.7,42.2L334.7,43.3L331.8,44.4L328.8,45.4L325.9,46.4L321.8,47.7L318.5,48.7L315.5,49.5L312.5,50.3L308.2,51.4L305.2,52.1L301.5,52.9L297.8,53.7L294.9,54.3L290.4,55.1L287.5,55.6L283.1,56.4L279.4,56.9L275.7,57.4L271.3,58.0L268.3,58.3L263.9,58.8L259.5,59.3L256.3,59.5L252.1,59.9L250.6,60.0"/>
<path d="M346.0,169.1L348.0,167.6L351.0,165.4L353.1,163.8L355.4,162.2L358.3,160.2L360.9,158.5L363.0,157.2L365.7,155.5L368.7,153.8L371.6,152.2L374.6,150.6L377.2,149.3L380.0,148.0L382.9,146.7L386.1,145.3L389.3,144.1L392.3,143.0L395.2,142.0L398.2,141.0L401.5,140.1L405.6,139.0L408.5,138.2L412.2,137.4L415.9,136.7L419.1,136.1L423.3,135.4L427.7,134.8L427.7,134.8"/>
<path d="M426.8,10.7L424.7,12.7L422.8,14.7L420.3,17.0L418.6,18.6L415.9,21.2L414.4,22.6L411.6,25.2L410.0,26.7L407.2,29.2L405.6,30.6L402.6,33.1L401.0,34.5L398.2,36.8L396.2,38.4L393.8,40.4L391.2,42.4L389.3,43.8L386.4,46.0L384.0,47.7L381.9,49.1L379.0,51.1L376.1,52.9L373.9,54.3L371.6,55.6L368.7,57.3L365.7,58.9L362.8,60.5L359.8,61.9L356.9,63.3L353.9,64.5L351.0,65.7L348.0,66.9L345.1,67.9L342.1,68.9L338.2,70.1L334.7,71.1L331.8,71.8L327.8,72.7L324.4,73.5L321.3,74.1L317.0,74.8L313.2,75.4L309.6,75.9L305.2,76.4L302.0,76.7L297.8,77.1L293.4,77.4L289.0,77.7L284.5,77.9L281.1,78.0L277.2,78.1L272.7,78.2L268.3,78.3L263.9,78.3L259.5,78.3L255.0,78.2L250.6,78.2L250.6,78.2"/>
<path d="M302.0,169.1L303.5,166.5L304.9,163.8L306.3,161.2L307.6,158.5L308.8,155.9L309.9,153.3L311.1,150.1L312.2,146.7L312.9,144.0L313.7,140.1L313.9,136.1L313.5,132.1L312.6,129.0L311.1,126.0L309.6,123.8L307.6,121.6L305.2,119.5L302.6,117.6L300.5,116.3L297.8,114.8L294.9,113.4L291.9,112.1L289.0,111.0L285.4,109.7L281.6,108.5L278.6,107.6L275.7,106.7L272.0,105.7L268.3,104.8L265.4,104.1L261.2,103.1L258.0,102.4L255.0,101.7L250.6,100.8L250.6,100.8"/>
<path d="M427.7,59.6L426.4,63.5L425.6,66.1L424.9,70.1L424.6,72.7L424.7,76.5L425.2,79.3L426.2,82.2L427.7,85.0L427.7,85.0"/>
<path d="M263.4,169.1L263.6,165.1L263.4,161.2L262.9,157.2L262.4,154.6L261.1,150.6L260.0,148.0L258.6,145.3L256.9,142.7L255.0,140.2L253.6,138.5L251.3,136.1L250.6,135.5"/>
</g>
<rect x="250.6" y="10.7" width="177.1" height="158.4" fill="none" stroke="#5c5c5c" stroke-width="0.7"/>
<rect x="257.55" y="10.90" width="8.4" height="5" fill="#fafafa" stroke="#3c3c3c" stroke-width="0.6"/>
<text x="261.75" y="14.85" font-size="4" font-family="Liberation Sans, sans-serif" fill="#222" text-anchor="middle">240</text>
<rect x="284.55" y="17.50" width="8.4" height="5" fill="#fafafa" stroke="#3c3c3c" stroke-width="0.6"/>
<text x="288.75" y="21.45" font-size="4" font-family="Liberation Sans, sans-serif" fill="#222" text-anchor="middle">260</text>
<rect x="306.30" y="27.50" width="8.4" height="5" fill="#fafafa" stroke="#3c3c3c" stroke-width="0.6"/>
<text x="310.50" y="31.45" font-size="4" font-family="Liberation Sans, sans-serif" fill="#222" text-anchor="middle">280</text>
<rect x="330.30" y="39.50" width="8.4" height="5" fill="#fafafa" stroke="#3c3c3c" stroke-width="0.6"/>
<text x="334.50" y="43.45" font-size="4" font-family="Liberation Sans, sans-serif" fill="#222" text-anchor="middle">300</text>
<rect x="354.55" y="58.75" width="8.4" height="5" fill="#fafafa" stroke="#3c3c3c" stroke-width="0.6"/>
<text x="358.75" y="62.70" font-size="4" font-family="Liberation Sans, sans-serif" fill="#222" text-anchor="middle">320</text>
<rect x="298.30" y="114.50" width="8.4" height="5" fill="#fafafa" stroke="#3c3c3c" stroke-width="0.6"/>
<text x="302.50" y="118.45" font-size="4" font-family="Liberation Sans, sans-serif" fill="#222" text-anchor="middle">340</text>
<rect x="256.30" y="144.50" width="8.4" height="5" fill="#fafafa" stroke="#3c3c3c" stroke-width="0.6"/>
<text x="260.50" y="148.45" font-size="4" font-family="Liberation Sans, sans-serif" fill="#222" text-anchor="middle">360</text>
<rect x="376.30" y="142.50" width="8.4" height="5" fill="#fafafa" stroke="#3c3c3c" stroke-width="0.6"/>
<text x="380.50" y="146.45" font-size="4" font-family="Liberation Sans, sans-serif" fill="#222" text-anchor="middle">320</text>
<rect x="409.80" y="159.00" width="8.4" height="5" fill="#fafafa" stroke="#3c3c3c" stroke-width="0.6"/>
<text x="414.00" y="162.95" font-size="4" font-family="Liberation Sans, sans-serif" fill="#222" text-anchor="middle">300</text>
<circle cx="339.1" cy="90" r="1.9" fill="#b01028" stroke="#2a0808" stroke-width="0.8"/>
<text x="334.40000000000003" y="91.2" font-size="3.6" font-family="Liberation Sans, sans-serif" fill="#0a500a" text-anchor="middle">6</text>
<line x1="250.60" y1="169.1" x2="250.60" y2="172.29999999999998" stroke="#444" stroke-width="0.6"/>
<text x="251.00" y="178.10" font-size="4.2" font-family="Liberation Sans, sans-serif" fill="#222" stroke="#222" stroke-width="0.12" text-anchor="middle">4</text>
<line x1="294.88" y1="169.1" x2="294.88" y2="172.29999999999998" stroke="#444" stroke-width="0.6"/>
<text x="295.27" y="178.10" font-size="4.2" font-family="Liberation Sans, sans-serif" fill="#222" stroke="#222" stroke-width="0.12" text-anchor="middle">5</text>
<line x1="339.15" y1="169.1" x2="339.15" y2="172.29999999999998" stroke="#444" stroke-width="0.6"/>
<text x="339.55" y="178.10" font-size="4.2" font-family="Liberation Sans, sans-serif" fill="#222" stroke="#222" stroke-width="0.12" text-anchor="middle">6</text>
<line x1="383.42" y1="169.1" x2="383.42" y2="172.29999999999998" stroke="#444" stroke-width="0.6"/>
<text x="383.82" y="178.10" font-size="4.2" font-family="Liberation Sans, sans-serif" fill="#222" stroke="#222" stroke-width="0.12" text-anchor="middle">7</text>
<line x1="427.70" y1="169.1" x2="427.70" y2="172.29999999999998" stroke="#444" stroke-width="0.6"/>
<text x="428.10" y="178.10" font-size="4.2" font-family="Liberation Sans, sans-serif" fill="#222" stroke="#222" stroke-width="0.12" text-anchor="middle">8</text>
<line x1="247.4" y1="169.10" x2="250.6" y2="169.10" stroke="#444" stroke-width="0.6"/>
<text x="245.6" y="168.20" font-size="4.2" font-family="Liberation Sans, sans-serif" fill="#222" stroke="#222" stroke-width="0.12" text-anchor="end">10</text>
<line x1="247.4" y1="129.50" x2="250.6" y2="129.50" stroke="#444" stroke-width="0.6"/>
<text x="245.6" y="128.60" font-size="4.2" font-family="Liberation Sans, sans-serif" fill="#222" stroke="#222" stroke-width="0.12" text-anchor="end">15</text>
<line x1="247.4" y1="89.90" x2="250.6" y2="89.90" stroke="#444" stroke-width="0.6"/>
<text x="245.6" y="89.00" font-size="4.2" font-family="Liberation Sans, sans-serif" fill="#222" stroke="#222" stroke-width="0.12" text-anchor="end">20</text>
<line x1="247.4" y1="50.30" x2="250.6" y2="50.30" stroke="#444" stroke-width="0.6"/>
<text x="245.6" y="49.40" font-size="4.2" font-family="Liberation Sans, sans-serif" fill="#222" stroke="#222" stroke-width="0.12" text-anchor="end">25</text>
<line x1="247.4" y1="10.70" x2="250.6" y2="10.70" stroke="#444" stroke-width="0.6"/>
<text x="245.6" y="9.80" font-size="4.2" font-family="Liberation Sans, sans-serif" fill="#222" stroke="#222" stroke-width="0.12" text-anchor="end">30</text>
<text x="338.5" y="6.8" font-size="6.1" font-family="Liberation Sans, sans-serif" fill="#222" text-anchor="middle">R1</text>
<text x="346" y="185" font-size="9.6" font-weight="bold" font-family="Liberation Serif, serif" fill="#222" text-anchor="middle">A: Total Lipid (%w/v)</text>
<text transform="translate(235,92) rotate(90)" font-size="8.7" font-weight="bold" font-family="Liberation Serif, serif" fill="#222" text-anchor="middle">C: Sonication Time min)</text>
<defs>
<linearGradient id="s3_0"><stop offset="0.000" stop-color="#00efff"/><stop offset="0.083" stop-color="#00e2ff"/><stop offset="0.167" stop-color="#00dcff"/><stop offset="0.250" stop-color="#00deff"/><stop offset="0.333" stop-color="#00e9ff"/><stop offset="0.417" stop-color="#00fbff"/><stop offset="0.500" stop-color="#00ffe9"/><stop offset="0.583" stop-color="#00ffc7"/><stop offset="0.667" stop-color="#00ff9d"/><stop offset="0.750" stop-color="#00ff6b"/><stop offset="0.833" stop-color="#00ff31"/><stop offset="0.917" stop-color="#11ff00"/><stop offset="1.000" stop-color="#5bff00"/></linearGradient>
<linearGradient id="s3_1"><stop offset="0.000" stop-color="#00fdff"/><stop offset="0.083" stop-color="#00efff"/><stop offset="0.167" stop-color="#00e9ff"/><stop offset="0.250" stop-color="#00eaff"/><stop offset="0.333" stop-color="#00f4ff"/><stop offset="0.417" stop-color="#00fff9"/><stop offset="0.500" stop-color="#00ffdf"/><stop offset="0.583" stop-color="#00ffbe"/><stop offset="0.667" stop-color="#00ff94"/><stop offset="0.750" stop-color="#00ff63"/><stop offset="0.833" stop-color="#00ff29"/><stop offset="0.917" stop-color="#18ff00"/><stop offset="1.000" stop-color="#62ff00"/></linearGradient>
<linearGradient id="s3_2"><stop offset="0.000" stop-color="#00fff3"/><stop offset="0.083" stop-color="#00fcff"/><stop offset="0.167" stop-color="#00f5ff"/><stop offset="0.250" stop-color="#00f6ff"/><stop offset="0.333" stop-color="#00ffff"/><stop offset="0.417" stop-color="#00ffee"/><stop offset="0.500" stop-color="#00ffd5"/><stop offset="0.583" stop-color="#00ffb4"/><stop offset="0.667" stop-color="#00ff8b"/><stop offset="0.750" stop-color="#00ff5b"/><stop offset="0.833" stop-color="#00ff22"/><stop offset="0.917" stop-color="#1fff00"/><stop offset="1.000" stop-color="#68ff00"/></linearGradient>
<linearGradient id="s3_3"><stop offset="0.000" stop-color="#00ffe6"/><stop offset="0.083" stop-color="#00fff6"/><stop offset="0.167" stop-color="#00fffd"/><stop offset="0.250" stop-color="#00fffd"/><stop offset="0.333" stop-color="#00fff4"/><stop offset="0.417" stop-color="#00ffe4"/><stop offset="0.500" stop-color="#00ffcc"/><stop offset="0.583" stop-color="#00ffab"/><stop offset="0.667" stop-color="#00ff83"/><stop offset="0.750" stop-color="#00ff53"/><stop offset="0.833" stop-color="#00ff1b"/><stop offset="0.917" stop-color="#26ff00"/><stop offset="1.000" stop-color="#6eff00"/></linearGradient>
<linearGradient id="s3_4"><stop offset="0.000" stop-color="#00ffd9"/><stop offset="0.083" stop-color="#00ffe9"/><stop offset="0.167" stop-color="#00fff2"/><stop offset="0.250" stop-color="#00fff2"/><stop offset="0.333" stop-color="#00ffea"/><stop offset="0.417" stop-color="#00ffda"/><stop offset="0.500" stop-color="#00ffc2"/><stop offset="0.583" stop-color="#00ffa3"/><stop offset="0.667" stop-color="#00ff7b"/><stop offset="0.750" stop-color="#00ff4b"/><stop offset="0.833" stop-color="#00ff14"/><stop offset="0.917" stop-color="#2cff00"/><stop offset="1.000" stop-color="#73ff00"/></linearGradient>
<linearGradient id="s3_5"><stop offset="0.000" stop-color="#00ffcd"/><stop offset="0.083" stop-color="#00ffdd"/><stop offset="0.167" stop-color="#00ffe6"/><stop offset="0.250" stop-color="#00ffe7"/><stop offset="0.333" stop-color="#00ffe0"/><stop offset="0.417" stop-color="#00ffd1"/><stop offset="0.500" stop-color="#00ffb9"/><stop offset="0.583" stop-color="#00ff9a"/><stop offset="0.667" stop-color="#00ff73"/><stop offset="0.750" stop-color="#00ff44"/><stop offset="0.833" stop-color="#00ff0d"/><stop offset="0.917" stop-color="#32ff00"/><stop offset="1.000" stop-color="#79ff00"/></linearGradient>
<linearGradient id="s3_6"><stop offset="0.000" stop-color="#00ffc0"/><stop offset="0.083" stop-color="#00ffd2"/><stop offset="0.167" stop-color="#00ffdb"/><stop offset="0.250" stop-color="#00ffdc"/><stop offset="0.333" stop-color="#00ffd6"/><stop offset="0.417" stop-color="#00ffc7"/><stop offset="0.500" stop-color="#00ffb1"/><stop offset="0.583" stop-color="#00ff92"/><stop offset="0.667" stop-color="#00ff6c"/><stop offset="0.750" stop-color="#00ff3d"/><stop offset="0.833" stop-color="#00ff07"/><stop offset="0.917" stop-color="#38ff00"/><stop offset="1.000" stop-color="#7eff00"/></linearGradient>
<linearGradient id="s3_7"><stop offset="0.000" stop-color="#00ffb4"/><stop offset="0.083" stop-color="#00ffc6"/><stop offset="0.167" stop-color="#00ffd0"/><stop offset="0.250" stop-color="#00ffd2"/><stop offset="0.333" stop-color="#00ffcc"/><stop offset="0.417" stop-color="#00ffbe"/><stop offset="0.500" stop-color="#00ffa8"/><stop offset="0.583" stop-color="#00ff8a"/><stop offset="0.667" stop-color="#00ff65"/><stop offset="0.750" stop-color="#00ff37"/><stop offset="0.833" stop-color="#00ff01"/><stop offset="0.917" stop-color="#3dff00"/><stop offset="1.000" stop-color="#83ff00"/></linearGradient>
<linearGradient id="s3_8"><stop offset="0.000" stop-color="#00ffa8"/><stop offset="0.083" stop-color="#00ffbb"/><stop offset="0.167" stop-color="#00ffc6"/><stop offset="0.250" stop-color="#00ffc8"/><stop offset="0.333" stop-color="#00ffc3"/><stop offset="0.417" stop-color="#00ffb5"/><stop offset="0.500" stop-color="#00ffa0"/><stop offset="0.583" stop-color="#00ff83"/><stop offset="0.667" stop-color="#00ff5e"/><stop offset="0.750" stop-color="#00ff30"/><stop offset="0.833" stop-color="#05ff00"/><stop offset="0.917" stop-color="#42ff00"/><stop offset="1.000" stop-color="#87ff00"/></linearGradient>
<linearGradient id="s3_9"><stop offset="0.000" stop-color="#00ff9d"/><stop offset="0.083" stop-color="#00ffb0"/><stop offset="0.167" stop-color="#00ffbb"/><stop offset="0.250" stop-color="#00ffbe"/><stop offset="0.333" stop-color="#00ffba"/><stop offset="0.417" stop-color="#00ffad"/><stop offset="0.500" stop-color="#00ff98"/><stop offset="0.583" stop-color="#00ff7c"/><stop offset="0.667" stop-color="#00ff57"/><stop offset="0.750" stop-color="#00ff2a"/><stop offset="0.833" stop-color="#0aff00"/><stop offset="0.917" stop-color="#47ff00"/><stop offset="1.000" stop-color="#8bff00"/></linearGradient>
<linearGradient id="s3_10"><stop offset="0.000" stop-color="#00ff92"/><stop offset="0.083" stop-color="#00ffa5"/><stop offset="0.167" stop-color="#00ffb1"/><stop offset="0.250" stop-color="#00ffb5"/><stop offset="0.333" stop-color="#00ffb1"/><stop offset="0.417" stop-color="#00ffa5"/><stop offset="0.500" stop-color="#00ff91"/><stop offset="0.583" stop-color="#00ff75"/><stop offset="0.667" stop-color="#00ff51"/><stop offset="0.750" stop-color="#00ff24"/><stop offset="0.833" stop-color="#10ff00"/><stop offset="0.917" stop-color="#4bff00"/><stop offset="1.000" stop-color="#8fff00"/></linearGradient>
<linearGradient id="s3_11"><stop offset="0.000" stop-color="#00ff87"/><stop offset="0.083" stop-color="#00ff9b"/><stop offset="0.167" stop-color="#00ffa8"/><stop offset="0.250" stop-color="#00ffac"/><stop offset="0.333" stop-color="#00ffa8"/><stop offset="0.417" stop-color="#00ff9d"/><stop offset="0.500" stop-color="#00ff89"/><stop offset="0.583" stop-color="#00ff6e"/><stop offset="0.667" stop-color="#00ff4a"/><stop offset="0.750" stop-color="#00ff1f"/><stop offset="0.833" stop-color="#14ff00"/><stop offset="0.917" stop-color="#50ff00"/><stop offset="1.000" stop-color="#93ff00"/></linearGradient>
<linearGradient id="s3_12"><stop offset="0.000" stop-color="#00ff7c"/><stop offset="0.083" stop-color="#00ff91"/><stop offset="0.167" stop-color="#00ff9e"/><stop offset="0.250" stop-color="#00ffa3"/><stop offset="0.333" stop-color="#00ffa0"/><stop offset="0.417" stop-color="#00ff95"/><stop offset="0.500" stop-color="#00ff82"/><stop offset="0.583" stop-color="#00ff67"/><stop offset="0.667" stop-color="#00ff45"/><stop offset="0.750" stop-color="#00ff1a"/><stop offset="0.833" stop-color="#19ff00"/><stop offset="0.917" stop-color="#54ff00"/><stop offset="1.000" stop-color="#97ff00"/></linearGradient>
<linearGradient id="s3_13"><stop offset="0.000" stop-color="#00ff72"/><stop offset="0.083" stop-color="#00ff87"/><stop offset="0.167" stop-color="#00ff95"/><stop offset="0.250" stop-color="#00ff9b"/><stop offset="0.333" stop-color="#00ff98"/><stop offset="0.417" stop-color="#00ff8e"/><stop offset="0.500" stop-color="#00ff7c"/><stop offset="0.583" stop-color="#00ff61"/><stop offset="0.667" stop-color="#00ff3f"/><stop offset="0.750" stop-color="#00ff15"/><stop offset="0.833" stop-color="#1dff00"/><stop offset="0.917" stop-color="#58ff00"/><stop offset="1.000" stop-color="#9aff00"/></linearGradient>
<linearGradient id="s3_14"><stop offset="0.000" stop-color="#00ff68"/><stop offset="0.083" stop-color="#00ff7e"/><stop offset="0.167" stop-color="#00ff8c"/><stop offset="0.250" stop-color="#00ff92"/><stop offset="0.333" stop-color="#00ff90"/><stop offset="0.417" stop-color="#00ff87"/><stop offset="0.500" stop-color="#00ff75"/><stop offset="0.583" stop-color="#00ff5b"/><stop offset="0.667" stop-color="#00ff3a"/><stop offset="0.750" stop-color="#00ff10"/><stop offset="0.833" stop-color="#21ff00"/><stop offset="0.917" stop-color="#5bff00"/><stop offset="1.000" stop-color="#9dff00"/></linearGradient>
<linearGradient id="s3_15"><stop offset="0.000" stop-color="#00ff5e"/><stop offset="0.083" stop-color="#00ff75"/><stop offset="0.167" stop-color="#00ff83"/><stop offset="0.250" stop-color="#00ff8a"/><stop offset="0.333" stop-color="#00ff89"/><stop offset="0.417" stop-color="#00ff80"/><stop offset="0.500" stop-color="#00ff6f"/><stop offset="0.583" stop-color="#00ff56"/><stop offset="0.667" stop-color="#00ff35"/><stop offset="0.750" stop-color="#00ff0c"/><stop offset="0.833" stop-color="#25ff00"/><stop offset="0.917" stop-color="#5eff00"/><stop offset="1.000" stop-color="#9fff00"/></linearGradient>
<linearGradient id="s3_16"><stop offset="0.000" stop-color="#00ff54"/><stop offset="0.083" stop-color="#00ff6c"/><stop offset="0.167" stop-color="#00ff7b"/><stop offset="0.250" stop-color="#00ff82"/><stop offset="0.333" stop-color="#00ff82"/><stop offset="0.417" stop-color="#00ff79"/><stop offset="0.500" stop-color="#00ff69"/><stop offset="0.583" stop-color="#00ff50"/><stop offset="0.667" stop-color="#00ff30"/><stop offset="0.750" stop-color="#00ff08"/><stop offset="0.833" stop-color="#29ff00"/><stop offset="0.917" stop-color="#61ff00"/><stop offset="1.000" stop-color="#a1ff00"/></linearGradient>
<linearGradient id="s3_17"><stop offset="0.000" stop-color="#00ff4b"/><stop offset="0.083" stop-color="#00ff63"/><stop offset="0.167" stop-color="#00ff73"/><stop offset="0.250" stop-color="#00ff7b"/><stop offset="0.333" stop-color="#00ff7b"/><stop offset="0.417" stop-color="#00ff73"/><stop offset="0.500" stop-color="#00ff63"/><stop offset="0.583" stop-color="#00ff4b"/><stop offset="0.667" stop-color="#00ff2c"/><stop offset="0.750" stop-color="#00ff04"/><stop offset="0.833" stop-color="#2cff00"/><stop offset="0.917" stop-color="#64ff00"/><stop offset="1.000" stop-color="#a3ff00"/></linearGradient>
<linearGradient id="s3_18"><stop offset="0.000" stop-color="#00ff42"/><stop offset="0.083" stop-color="#00ff5b"/><stop offset="0.167" stop-color="#00ff6b"/><stop offset="0.250" stop-color="#00ff74"/><stop offset="0.333" stop-color="#00ff74"/><stop offset="0.417" stop-color="#00ff6d"/><stop offset="0.500" stop-color="#00ff5e"/><stop offset="0.583" stop-color="#00ff47"/><stop offset="0.667" stop-color="#00ff27"/><stop offset="0.750" stop-color="#00ff00"/><stop offset="0.833" stop-color="#2fff00"/><stop offset="0.917" stop-color="#66ff00"/><stop offset="1.000" stop-color="#a5ff00"/></linearGradient>
<linearGradient id="s3_19"><stop offset="0.000" stop-color="#00ff39"/><stop offset="0.083" stop-color="#00ff52"/><stop offset="0.167" stop-color="#00ff64"/><stop offset="0.250" stop-color="#00ff6d"/><stop offset="0.333" stop-color="#00ff6e"/><stop offset="0.417" stop-color="#00ff67"/><stop offset="0.500" stop-color="#00ff59"/><stop offset="0.583" stop-color="#00ff42"/><stop offset="0.667" stop-color="#00ff24"/><stop offset="0.750" stop-color="#03ff00"/><stop offset="0.833" stop-color="#32ff00"/><stop offset="0.917" stop-color="#68ff00"/><stop offset="1.000" stop-color="#a7ff00"/></linearGradient>
<linearGradient id="s3_20"><stop offset="0.000" stop-color="#00ff31"/><stop offset="0.083" stop-color="#00ff4b"/><stop offset="0.167" stop-color="#00ff5c"/><stop offset="0.250" stop-color="#00ff66"/><stop offset="0.333" stop-color="#00ff68"/><stop offset="0.417" stop-color="#00ff62"/><stop offset="0.500" stop-color="#00ff54"/><stop offset="0.583" stop-color="#00ff3e"/><stop offset="0.667" stop-color="#00ff20"/><stop offset="0.750" stop-color="#06ff00"/><stop offset="0.833" stop-color="#34ff00"/><stop offset="0.917" stop-color="#6aff00"/><stop offset="1.000" stop-color="#a8ff00"/></linearGradient>
<linearGradient id="s3_21"><stop offset="0.000" stop-color="#00ff29"/><stop offset="0.083" stop-color="#00ff43"/><stop offset="0.167" stop-color="#00ff55"/><stop offset="0.250" stop-color="#00ff60"/><stop offset="0.333" stop-color="#00ff62"/><stop offset="0.417" stop-color="#00ff5d"/><stop offset="0.500" stop-color="#00ff4f"/><stop offset="0.583" stop-color="#00ff3a"/><stop offset="0.667" stop-color="#00ff1d"/><stop offset="0.750" stop-color="#09ff00"/><stop offset="0.833" stop-color="#36ff00"/><stop offset="0.917" stop-color="#6bff00"/><stop offset="1.000" stop-color="#a9ff00"/></linearGradient>
<linearGradient id="s3_22"><stop offset="0.000" stop-color="#00ff21"/><stop offset="0.083" stop-color="#00ff3c"/><stop offset="0.167" stop-color="#00ff4f"/><stop offset="0.250" stop-color="#00ff5a"/><stop offset="0.333" stop-color="#00ff5d"/><stop offset="0.417" stop-color="#00ff58"/><stop offset="0.500" stop-color="#00ff4b"/><stop offset="0.583" stop-color="#00ff36"/><stop offset="0.667" stop-color="#00ff1a"/><stop offset="0.750" stop-color="#0bff00"/><stop offset="0.833" stop-color="#38ff00"/><stop offset="0.917" stop-color="#6dff00"/><stop offset="1.000" stop-color="#a9ff00"/></linearGradient>
<linearGradient id="s3_23"><stop offset="0.000" stop-color="#00ff19"/><stop offset="0.083" stop-color="#00ff35"/><stop offset="0.167" stop-color="#00ff48"/><stop offset="0.250" stop-color="#00ff54"/><stop offset="0.333" stop-color="#00ff58"/><stop offset="0.417" stop-color="#00ff53"/><stop offset="0.500" stop-color="#00ff47"/><stop offset="0.583" stop-color="#00ff33"/><stop offset="0.667" stop-color="#00ff17"/><stop offset="0.750" stop-color="#0dff00"/><stop offset="0.833" stop-color="#39ff00"/><stop offset="0.917" stop-color="#6eff00"/><stop offset="1.000" stop-color="#aaff00"/></linearGradient>
<linearGradient id="s3_24"><stop offset="0.000" stop-color="#00ff12"/><stop offset="0.083" stop-color="#00ff2e"/><stop offset="0.167" stop-color="#00ff42"/><stop offset="0.250" stop-color="#00ff4f"/><stop offset="0.333" stop-color="#00ff53"/><stop offset="0.417" stop-color="#00ff4f"/><stop offset="0.500" stop-color="#00ff44"/><stop offset="0.583" stop-color="#00ff30"/><stop offset="0.667" stop-color="#00ff14"/><stop offset="0.750" stop-color="#0fff00"/><stop offset="0.833" stop-color="#3bff00"/><stop offset="0.917" stop-color="#6eff00"/><stop offset="1.000" stop-color="#aaff00"/></linearGradient>
<linearGradient id="s3_25"><stop offset="0.000" stop-color="#00ff0b"/><stop offset="0.083" stop-color="#00ff28"/><stop offset="0.167" stop-color="#00ff3c"/><stop offset="0.250" stop-color="#00ff49"/><stop offset="0.333" stop-color="#00ff4e"/><stop offset="0.417" stop-color="#00ff4b"/><stop offset="0.500" stop-color="#00ff40"/><stop offset="0.583" stop-color="#00ff2d"/><stop offset="0.667" stop-color="#00ff12"/><stop offset="0.750" stop-color="#11ff00"/><stop offset="0.833" stop-color="#3cff00"/><stop offset="0.917" stop-color="#6fff00"/><stop offset="1.000" stop-color="#aaff00"/></linearGradient>
<linearGradient id="s3_26"><stop offset="0.000" stop-color="#00ff04"/><stop offset="0.083" stop-color="#00ff21"/><stop offset="0.167" stop-color="#00ff37"/><stop offset="0.250" stop-color="#00ff44"/><stop offset="0.333" stop-color="#00ff4a"/><stop offset="0.417" stop-color="#00ff47"/><stop offset="0.500" stop-color="#00ff3d"/><stop offset="0.583" stop-color="#00ff2b"/><stop offset="0.667" stop-color="#00ff10"/><stop offset="0.750" stop-color="#12ff00"/><stop offset="0.833" stop-color="#3dff00"/><stop offset="0.917" stop-color="#6fff00"/><stop offset="1.000" stop-color="#a9ff00"/></linearGradient>
<linearGradient id="s3_27"><stop offset="0.000" stop-color="#03ff00"/><stop offset="0.083" stop-color="#00ff1b"/><stop offset="0.167" stop-color="#00ff32"/><stop offset="0.250" stop-color="#00ff40"/><stop offset="0.333" stop-color="#00ff46"/><stop offset="0.417" stop-color="#00ff44"/><stop offset="0.500" stop-color="#00ff3a"/><stop offset="0.583" stop-color="#00ff28"/><stop offset="0.667" stop-color="#00ff0f"/><stop offset="0.750" stop-color="#13ff00"/><stop offset="0.833" stop-color="#3dff00"/><stop offset="0.917" stop-color="#6fff00"/><stop offset="1.000" stop-color="#a8ff00"/></linearGradient>
<linearGradient id="s3_28"><stop offset="0.000" stop-color="#09ff00"/><stop offset="0.083" stop-color="#00ff16"/><stop offset="0.167" stop-color="#00ff2d"/><stop offset="0.250" stop-color="#00ff3b"/><stop offset="0.333" stop-color="#00ff42"/><stop offset="0.417" stop-color="#00ff41"/><stop offset="0.500" stop-color="#00ff37"/><stop offset="0.583" stop-color="#00ff26"/><stop offset="0.667" stop-color="#00ff0d"/><stop offset="0.750" stop-color="#14ff00"/><stop offset="0.833" stop-color="#3dff00"/><stop offset="0.917" stop-color="#6eff00"/><stop offset="1.000" stop-color="#a7ff00"/></linearGradient>
<linearGradient id="s3_29"><stop offset="0.000" stop-color="#0fff00"/><stop offset="0.083" stop-color="#00ff11"/><stop offset="0.167" stop-color="#00ff28"/><stop offset="0.250" stop-color="#00ff37"/><stop offset="0.333" stop-color="#00ff3e"/><stop offset="0.417" stop-color="#00ff3e"/><stop offset="0.500" stop-color="#00ff35"/><stop offset="0.583" stop-color="#00ff25"/><stop offset="0.667" stop-color="#00ff0c"/><stop offset="0.750" stop-color="#15ff00"/><stop offset="0.833" stop-color="#3dff00"/><stop offset="0.917" stop-color="#6dff00"/><stop offset="1.000" stop-color="#a6ff00"/></linearGradient>
<linearGradient id="s3_30"><stop offset="0.000" stop-color="#14ff00"/><stop offset="0.083" stop-color="#00ff0b"/><stop offset="0.167" stop-color="#00ff23"/><stop offset="0.250" stop-color="#00ff33"/><stop offset="0.333" stop-color="#00ff3b"/><stop offset="0.417" stop-color="#00ff3b"/><stop offset="0.500" stop-color="#00ff33"/><stop offset="0.583" stop-color="#00ff23"/><stop offset="0.667" stop-color="#00ff0b"/><stop offset="0.750" stop-color="#15ff00"/><stop offset="0.833" stop-color="#3dff00"/><stop offset="0.917" stop-color="#6cff00"/><stop offset="1.000" stop-color="#a4ff00"/></linearGradient>
<linearGradient id="s3_31"><stop offset="0.000" stop-color="#1aff00"/><stop offset="0.083" stop-color="#00ff07"/><stop offset="0.167" stop-color="#00ff1f"/><stop offset="0.250" stop-color="#00ff30"/><stop offset="0.333" stop-color="#00ff38"/><stop offset="0.417" stop-color="#00ff39"/><stop offset="0.500" stop-color="#00ff31"/><stop offset="0.583" stop-color="#00ff22"/><stop offset="0.667" stop-color="#00ff0b"/><stop offset="0.750" stop-color="#15ff00"/><stop offset="0.833" stop-color="#3cff00"/><stop offset="0.917" stop-color="#6bff00"/><stop offset="1.000" stop-color="#a2ff00"/></linearGradient>
<linearGradient id="s3_32"><stop offset="0.000" stop-color="#1fff00"/><stop offset="0.083" stop-color="#00ff02"/><stop offset="0.167" stop-color="#00ff1b"/><stop offset="0.250" stop-color="#00ff2c"/><stop offset="0.333" stop-color="#00ff36"/><stop offset="0.417" stop-color="#00ff37"/><stop offset="0.500" stop-color="#00ff30"/><stop offset="0.583" stop-color="#00ff21"/><stop offset="0.667" stop-color="#00ff0a"/><stop offset="0.750" stop-color="#14ff00"/><stop offset="0.833" stop-color="#3bff00"/><stop offset="0.917" stop-color="#6aff00"/><stop offset="1.000" stop-color="#a0ff00"/></linearGradient>
<linearGradient id="s3_33"><stop offset="0.000" stop-color="#24ff00"/><stop offset="0.083" stop-color="#02ff00"/><stop offset="0.167" stop-color="#00ff18"/><stop offset="0.250" stop-color="#00ff29"/><stop offset="0.333" stop-color="#00ff33"/><stop offset="0.417" stop-color="#00ff35"/><stop offset="0.500" stop-color="#00ff2f"/><stop offset="0.583" stop-color="#00ff21"/><stop offset="0.667" stop-color="#00ff0a"/><stop offset="0.750" stop-color="#14ff00"/><stop offset="0.833" stop-color="#3aff00"/><stop offset="0.917" stop-color="#68ff00"/><stop offset="1.000" stop-color="#9eff00"/></linearGradient>
<linearGradient id="s3_34"><stop offset="0.000" stop-color="#28ff00"/><stop offset="0.083" stop-color="#06ff00"/><stop offset="0.167" stop-color="#00ff14"/><stop offset="0.250" stop-color="#00ff27"/><stop offset="0.333" stop-color="#00ff31"/><stop offset="0.417" stop-color="#00ff33"/><stop offset="0.500" stop-color="#00ff2e"/><stop offset="0.583" stop-color="#00ff20"/><stop offset="0.667" stop-color="#00ff0b"/><stop offset="0.750" stop-color="#13ff00"/><stop offset="0.833" stop-color="#38ff00"/><stop offset="0.917" stop-color="#66ff00"/><stop offset="1.000" stop-color="#9bff00"/></linearGradient>
<linearGradient id="s3_35"><stop offset="0.000" stop-color="#2dff00"/><stop offset="0.083" stop-color="#0aff00"/><stop offset="0.167" stop-color="#00ff11"/><stop offset="0.250" stop-color="#00ff24"/><stop offset="0.333" stop-color="#00ff2f"/><stop offset="0.417" stop-color="#00ff32"/><stop offset="0.500" stop-color="#00ff2d"/><stop offset="0.583" stop-color="#00ff20"/><stop offset="0.667" stop-color="#00ff0b"/><stop offset="0.750" stop-color="#12ff00"/><stop offset="0.833" stop-color="#37ff00"/><stop offset="0.917" stop-color="#63ff00"/><stop offset="1.000" stop-color="#98ff00"/></linearGradient>
<linearGradient id="s3_36"><stop offset="0.000" stop-color="#31ff00"/><stop offset="0.083" stop-color="#0dff00"/><stop offset="0.167" stop-color="#00ff0e"/><stop offset="0.250" stop-color="#00ff22"/><stop offset="0.333" stop-color="#00ff2e"/><stop offset="0.417" stop-color="#00ff31"/><stop offset="0.500" stop-color="#00ff2d"/><stop offset="0.583" stop-color="#00ff20"/><stop offset="0.667" stop-color="#00ff0c"/><stop offset="0.750" stop-color="#10ff00"/><stop offset="0.833" stop-color="#34ff00"/><stop offset="0.917" stop-color="#61ff00"/><stop offset="1.000" stop-color="#95ff00"/></linearGradient>
<linearGradient id="s3_37"><stop offset="0.000" stop-color="#34ff00"/><stop offset="0.083" stop-color="#10ff00"/><stop offset="0.167" stop-color="#00ff0c"/><stop offset="0.250" stop-color="#00ff20"/><stop offset="0.333" stop-color="#00ff2c"/><stop offset="0.417" stop-color="#00ff30"/><stop offset="0.500" stop-color="#00ff2d"/><stop offset="0.583" stop-color="#00ff21"/><stop offset="0.667" stop-color="#00ff0d"/><stop offset="0.750" stop-color="#0eff00"/><stop offset="0.833" stop-color="#32ff00"/><stop offset="0.917" stop-color="#5eff00"/><stop offset="1.000" stop-color="#91ff00"/></linearGradient>
<linearGradient id="s3_38"><stop offset="0.000" stop-color="#38ff00"/><stop offset="0.083" stop-color="#13ff00"/><stop offset="0.167" stop-color="#00ff0a"/><stop offset="0.250" stop-color="#00ff1e"/><stop offset="0.333" stop-color="#00ff2b"/><stop offset="0.417" stop-color="#00ff30"/><stop offset="0.500" stop-color="#00ff2d"/><stop offset="0.583" stop-color="#00ff22"/><stop offset="0.667" stop-color="#00ff0f"/><stop offset="0.750" stop-color="#0cff00"/><stop offset="0.833" stop-color="#30ff00"/><stop offset="0.917" stop-color="#5bff00"/><stop offset="1.000" stop-color="#8eff00"/></linearGradient>
<linearGradient id="s3_39"><stop offset="0.000" stop-color="#3bff00"/><stop offset="0.083" stop-color="#16ff00"/><stop offset="0.167" stop-color="#00ff08"/><stop offset="0.250" stop-color="#00ff1d"/><stop offset="0.333" stop-color="#00ff2a"/><stop offset="0.417" stop-color="#00ff30"/><stop offset="0.500" stop-color="#00ff2d"/><stop offset="0.583" stop-color="#00ff23"/><stop offset="0.667" stop-color="#00ff10"/><stop offset="0.750" stop-color="#0aff00"/><stop offset="0.833" stop-color="#2dff00"/><stop offset="0.917" stop-color="#57ff00"/><stop offset="1.000" stop-color="#89ff00"/></linearGradient>
<linearGradient id="s3_40"><stop offset="0.000" stop-color="#3eff00"/><stop offset="0.083" stop-color="#18ff00"/><stop offset="0.167" stop-color="#00ff06"/><stop offset="0.250" stop-color="#00ff1c"/><stop offset="0.333" stop-color="#00ff2a"/><stop offset="0.417" stop-color="#00ff30"/><stop offset="0.500" stop-color="#00ff2e"/><stop offset="0.583" stop-color="#00ff24"/><stop offset="0.667" stop-color="#00ff12"/><stop offset="0.750" stop-color="#08ff00"/><stop offset="0.833" stop-color="#29ff00"/><stop offset="0.917" stop-color="#53ff00"/><stop offset="1.000" stop-color="#85ff00"/></linearGradient>
<linearGradient id="s3_41"><stop offset="0.000" stop-color="#40ff00"/><stop offset="0.083" stop-color="#1aff00"/><stop offset="0.167" stop-color="#00ff05"/><stop offset="0.250" stop-color="#00ff1b"/><stop offset="0.333" stop-color="#00ff2a"/><stop offset="0.417" stop-color="#00ff30"/><stop offset="0.500" stop-color="#00ff2f"/><stop offset="0.583" stop-color="#00ff26"/><stop offset="0.667" stop-color="#00ff14"/><stop offset="0.750" stop-color="#05ff00"/><stop offset="0.833" stop-color="#26ff00"/><stop offset="0.917" stop-color="#4fff00"/><stop offset="1.000" stop-color="#80ff00"/></linearGradient>
<linearGradient id="s3_42"><stop offset="0.000" stop-color="#43ff00"/><stop offset="0.083" stop-color="#1cff00"/><stop offset="0.167" stop-color="#00ff04"/><stop offset="0.250" stop-color="#00ff1b"/><stop offset="0.333" stop-color="#00ff2a"/><stop offset="0.417" stop-color="#00ff31"/><stop offset="0.500" stop-color="#00ff30"/><stop offset="0.583" stop-color="#00ff28"/><stop offset="0.667" stop-color="#00ff17"/><stop offset="0.750" stop-color="#02ff00"/><stop offset="0.833" stop-color="#22ff00"/><stop offset="0.917" stop-color="#4bff00"/><stop offset="1.000" stop-color="#7bff00"/></linearGradient>
<linearGradient id="s3_43"><stop offset="0.000" stop-color="#45ff00"/><stop offset="0.083" stop-color="#1dff00"/><stop offset="0.167" stop-color="#00ff03"/><stop offset="0.250" stop-color="#00ff1b"/><stop offset="0.333" stop-color="#00ff2a"/><stop offset="0.417" stop-color="#00ff32"/><stop offset="0.500" stop-color="#00ff32"/><stop offset="0.583" stop-color="#00ff2a"/><stop offset="0.667" stop-color="#00ff1a"/><stop offset="0.750" stop-color="#00ff02"/><stop offset="0.833" stop-color="#1eff00"/><stop offset="0.917" stop-color="#46ff00"/><stop offset="1.000" stop-color="#76ff00"/></linearGradient>
<linearGradient id="s3_44"><stop offset="0.000" stop-color="#46ff00"/><stop offset="0.083" stop-color="#1eff00"/><stop offset="0.167" stop-color="#00ff02"/><stop offset="0.250" stop-color="#00ff1b"/><stop offset="0.333" stop-color="#00ff2b"/><stop offset="0.417" stop-color="#00ff33"/><stop offset="0.500" stop-color="#00ff34"/><stop offset="0.583" stop-color="#00ff2c"/><stop offset="0.667" stop-color="#00ff1d"/><stop offset="0.750" stop-color="#00ff05"/><stop offset="0.833" stop-color="#1aff00"/><stop offset="0.917" stop-color="#41ff00"/><stop offset="1.000" stop-color="#71ff00"/></linearGradient>
<linearGradient id="s3_45"><stop offset="0.000" stop-color="#48ff00"/><stop offset="0.083" stop-color="#1fff00"/><stop offset="0.167" stop-color="#00ff02"/><stop offset="0.250" stop-color="#00ff1b"/><stop offset="0.333" stop-color="#00ff2c"/><stop offset="0.417" stop-color="#00ff35"/><stop offset="0.500" stop-color="#00ff36"/><stop offset="0.583" stop-color="#00ff2f"/><stop offset="0.667" stop-color="#00ff20"/><stop offset="0.750" stop-color="#00ff09"/><stop offset="0.833" stop-color="#15ff00"/><stop offset="0.917" stop-color="#3cff00"/><stop offset="1.000" stop-color="#6bff00"/></linearGradient>
<linearGradient id="s3_46"><stop offset="0.000" stop-color="#49ff00"/><stop offset="0.083" stop-color="#20ff00"/><stop offset="0.167" stop-color="#00ff02"/><stop offset="0.250" stop-color="#00ff1b"/><stop offset="0.333" stop-color="#00ff2d"/><stop offset="0.417" stop-color="#00ff37"/><stop offset="0.500" stop-color="#00ff38"/><stop offset="0.583" stop-color="#00ff32"/><stop offset="0.667" stop-color="#00ff24"/><stop offset="0.750" stop-color="#00ff0e"/><stop offset="0.833" stop-color="#11ff00"/><stop offset="0.917" stop-color="#37ff00"/><stop offset="1.000" stop-color="#65ff00"/></linearGradient>
<linearGradient id="s3_47"><stop offset="0.000" stop-color="#4aff00"/><stop offset="0.083" stop-color="#20ff00"/><stop offset="0.167" stop-color="#00ff02"/><stop offset="0.250" stop-color="#00ff1c"/><stop offset="0.333" stop-color="#00ff2f"/><stop offset="0.417" stop-color="#00ff39"/><stop offset="0.500" stop-color="#00ff3b"/><stop offset="0.583" stop-color="#00ff35"/><stop offset="0.667" stop-color="#00ff28"/><stop offset="0.750" stop-color="#00ff12"/><stop offset="0.833" stop-color="#0cff00"/><stop offset="0.917" stop-color="#31ff00"/><stop offset="1.000" stop-color="#5fff00"/></linearGradient>
<linearGradient id="s3_48"><stop offset="0.000" stop-color="#4bff00"/><stop offset="0.083" stop-color="#20ff00"/><stop offset="0.167" stop-color="#00ff03"/><stop offset="0.250" stop-color="#00ff1e"/><stop offset="0.333" stop-color="#00ff30"/><stop offset="0.417" stop-color="#00ff3b"/><stop offset="0.500" stop-color="#00ff3e"/><stop offset="0.583" stop-color="#00ff39"/><stop offset="0.667" stop-color="#00ff2c"/><stop offset="0.750" stop-color="#00ff17"/><stop offset="0.833" stop-color="#06ff00"/><stop offset="0.917" stop-color="#2bff00"/><stop offset="1.000" stop-color="#58ff00"/></linearGradient>
<linearGradient id="s3_49"><stop offset="0.000" stop-color="#4bff00"/><stop offset="0.083" stop-color="#20ff00"/><stop offset="0.167" stop-color="#00ff04"/><stop offset="0.250" stop-color="#00ff1f"/><stop offset="0.333" stop-color="#00ff32"/><stop offset="0.417" stop-color="#00ff3e"/><stop offset="0.500" stop-color="#00ff41"/><stop offset="0.583" stop-color="#00ff3d"/><stop offset="0.667" stop-color="#00ff30"/><stop offset="0.750" stop-color="#00ff1c"/><stop offset="0.833" stop-color="#00ff00"/><stop offset="0.917" stop-color="#25ff00"/><stop offset="1.000" stop-color="#51ff00"/></linearGradient>
<linearGradient id="s3_50"><stop offset="0.000" stop-color="#4bff00"/><stop offset="0.083" stop-color="#1fff00"/><stop offset="0.167" stop-color="#00ff05"/><stop offset="0.250" stop-color="#00ff21"/><stop offset="0.333" stop-color="#00ff35"/><stop offset="0.417" stop-color="#00ff41"/><stop offset="0.500" stop-color="#00ff45"/><stop offset="0.583" stop-color="#00ff41"/><stop offset="0.667" stop-color="#00ff35"/><stop offset="0.750" stop-color="#00ff21"/><stop offset="0.833" stop-color="#00ff05"/><stop offset="0.917" stop-color="#1eff00"/><stop offset="1.000" stop-color="#4aff00"/></linearGradient>
<linearGradient id="s3_51"><stop offset="0.000" stop-color="#4bff00"/><stop offset="0.083" stop-color="#1fff00"/><stop offset="0.167" stop-color="#00ff06"/><stop offset="0.250" stop-color="#00ff23"/><stop offset="0.333" stop-color="#00ff37"/><stop offset="0.417" stop-color="#00ff44"/><stop offset="0.500" stop-color="#00ff49"/><stop offset="0.583" stop-color="#00ff45"/><stop offset="0.667" stop-color="#00ff3a"/><stop offset="0.750" stop-color="#00ff27"/><stop offset="0.833" stop-color="#00ff0c"/><stop offset="0.917" stop-color="#17ff00"/><stop offset="1.000" stop-color="#43ff00"/></linearGradient>
<linearGradient id="s3_52"><stop offset="0.000" stop-color="#4bff00"/><stop offset="0.083" stop-color="#1dff00"/><stop offset="0.167" stop-color="#00ff08"/><stop offset="0.250" stop-color="#00ff25"/><stop offset="0.333" stop-color="#00ff3a"/><stop offset="0.417" stop-color="#00ff47"/><stop offset="0.500" stop-color="#00ff4d"/><stop offset="0.583" stop-color="#00ff4a"/><stop offset="0.667" stop-color="#00ff3f"/><stop offset="0.750" stop-color="#00ff2d"/><stop offset="0.833" stop-color="#00ff12"/><stop offset="0.917" stop-color="#10ff00"/><stop offset="1.000" stop-color="#3bff00"/></linearGradient>
</defs>
<g shape-rendering="crispEdges">
<rect x="489.5" y="10.50" width="170.39999999999998" height="3.57" fill="url(#s3_0)"/>
<rect x="489.5" y="13.47" width="170.39999999999998" height="3.57" fill="url(#s3_1)"/>
<rect x="489.5" y="16.45" width="170.39999999999998" height="3.57" fill="url(#s3_2)"/>
<rect x="489.5" y="19.42" width="170.39999999999998" height="3.57" fill="url(#s3_3)"/>
<rect x="489.5" y="22.39" width="170.39999999999998" height="3.57" fill="url(#s3_4)"/>
<rect x="489.5" y="25.37" width="170.39999999999998" height="3.57" fill="url(#s3_5)"/>
<rect x="489.5" y="28.34" width="170.39999999999998" height="3.57" fill="url(#s3_6)"/>
<rect x="489.5" y="31.32" width="170.39999999999998" height="3.57" fill="url(#s3_7)"/>
<rect x="489.5" y="34.29" width="170.39999999999998" height="3.57" fill="url(#s3_8)"/>
<rect x="489.5" y="37.26" width="170.39999999999998" height="3.57" fill="url(#s3_9)"/>
<rect x="489.5" y="40.24" width="170.39999999999998" height="3.57" fill="url(#s3_10)"/>
<rect x="489.5" y="43.21" width="170.39999999999998" height="3.57" fill="url(#s3_11)"/>
<rect x="489.5" y="46.18" width="170.39999999999998" height="3.57" fill="url(#s3_12)"/>
<rect x="489.5" y="49.16" width="170.39999999999998" height="3.57" fill="url(#s3_13)"/>
<rect x="489.5" y="52.13" width="170.39999999999998" height="3.57" fill="url(#s3_14)"/>
<rect x="489.5" y="55.10" width="170.39999999999998" height="3.57" fill="url(#s3_15)"/>
<rect x="489.5" y="58.08" width="170.39999999999998" height="3.57" fill="url(#s3_16)"/>
<rect x="489.5" y="61.05" width="170.39999999999998" height="3.57" fill="url(#s3_17)"/>
<rect x="489.5" y="64.02" width="170.39999999999998" height="3.57" fill="url(#s3_18)"/>
<rect x="489.5" y="67.00" width="170.39999999999998" height="3.57" fill="url(#s3_19)"/>
<rect x="489.5" y="69.97" width="170.39999999999998" height="3.57" fill="url(#s3_20)"/>
<rect x="489.5" y="72.95" width="170.39999999999998" height="3.57" fill="url(#s3_21)"/>
<rect x="489.5" y="75.92" width="170.39999999999998" height="3.57" fill="url(#s3_22)"/>
<rect x="489.5" y="78.89" width="170.39999999999998" height="3.57" fill="url(#s3_23)"/>
<rect x="489.5" y="81.87" width="170.39999999999998" height="3.57" fill="url(#s3_24)"/>
<rect x="489.5" y="84.84" width="170.39999999999998" height="3.57" fill="url(#s3_25)"/>
<rect x="489.5" y="87.81" width="170.39999999999998" height="3.57" fill="url(#s3_26)"/>
<rect x="489.5" y="90.79" width="170.39999999999998" height="3.57" fill="url(#s3_27)"/>
<rect x="489.5" y="93.76" width="170.39999999999998" height="3.57" fill="url(#s3_28)"/>
<rect x="489.5" y="96.73" width="170.39999999999998" height="3.57" fill="url(#s3_29)"/>
<rect x="489.5" y="99.71" width="170.39999999999998" height="3.57" fill="url(#s3_30)"/>
<rect x="489.5" y="102.68" width="170.39999999999998" height="3.57" fill="url(#s3_31)"/>
<rect x="489.5" y="105.65" width="170.39999999999998" height="3.57" fill="url(#s3_32)"/>
<rect x="489.5" y="108.63" width="170.39999999999998" height="3.57" fill="url(#s3_33)"/>
<rect x="489.5" y="111.60" width="170.39999999999998" height="3.57" fill="url(#s3_34)"/>
<rect x="489.5" y="114.58" width="170.39999999999998" height="3.57" fill="url(#s3_35)"/>
<rect x="489.5" y="117.55" width="170.39999999999998" height="3.57" fill="url(#s3_36)"/>
<rect x="489.5" y="120.52" width="170.39999999999998" height="3.57" fill="url(#s3_37)"/>
<rect x="489.5" y="123.50" width="170.39999999999998" height="3.57" fill="url(#s3_38)"/>
<rect x="489.5" y="126.47" width="170.39999999999998" height="3.57" fill="url(#s3_39)"/>
<rect x="489.5" y="129.44" width="170.39999999999998" height="3.57" fill="url(#s3_40)"/>
<rect x="489.5" y="132.42" width="170.39999999999998" height="3.57" fill="url(#s3_41)"/>
<rect x="489.5" y="135.39" width="170.39999999999998" height="3.57" fill="url(#s3_42)"/>
<rect x="489.5" y="138.36" width="170.39999999999998" height="3.57" fill="url(#s3_43)"/>
<rect x="489.5" y="141.34" width="170.39999999999998" height="3.57" fill="url(#s3_44)"/>
<rect x="489.5" y="144.31" width="170.39999999999998" height="3.57" fill="url(#s3_45)"/>
<rect x="489.5" y="147.28" width="170.39999999999998" height="3.57" fill="url(#s3_46)"/>
<rect x="489.5" y="150.26" width="170.39999999999998" height="3.57" fill="url(#s3_47)"/>
<rect x="489.5" y="153.23" width="170.39999999999998" height="3.57" fill="url(#s3_48)"/>
<rect x="489.5" y="156.21" width="170.39999999999998" height="3.57" fill="url(#s3_49)"/>
<rect x="489.5" y="159.18" width="170.39999999999998" height="3.57" fill="url(#s3_50)"/>
<rect x="489.5" y="162.15" width="170.39999999999998" height="3.57" fill="url(#s3_51)"/>
<rect x="489.5" y="165.13" width="170.39999999999998" height="2.97" fill="url(#s3_52)"/>
</g>
<g fill="none" stroke="#0b2a0b" stroke-width="0.7">
<path d="M536.4,10.5L533.5,10.9L529.3,11.3L525.0,11.6L520.7,11.7L516.5,11.6L512.2,11.3L508.0,10.9L504.5,10.5L504.5,10.5"/>
<path d="M607.8,10.5L605.9,12.6L604.3,14.4L601.9,17.1L600.3,18.8L598.2,21.0L596.0,23.2L594.3,24.9L591.7,27.4L590.1,28.9L587.5,31.3L585.7,32.8L583.2,34.9L580.9,36.8L579.0,38.3L576.1,40.3L573.6,42.0L571.6,43.3L569.0,44.9L566.2,46.4L563.3,47.8L560.5,49.1L557.7,50.2L554.5,51.2L550.6,52.3L547.7,52.9L543.5,53.5L539.4,53.8L536.4,53.9L533.0,53.8L529.3,53.6L525.0,53.1L521.9,52.5L517.9,51.7L515.1,51.0L511.1,49.9L508.0,48.9L505.1,48.0L502.3,47.0L499.4,45.9L496.3,44.6L493.2,43.3L490.2,42.0L489.5,41.7"/>
<path d="M514.3,168.1L515.1,164.9L515.7,161.5L516.3,157.6L516.6,155.0L516.9,151.0L517.0,147.1L516.8,143.1L516.5,139.6L516.0,136.6L515.1,132.6L514.4,130.0L513.5,127.4L512.2,124.0L510.8,120.8L509.5,118.2L508.1,115.6L506.5,113.0L505.1,110.8L503.7,108.7L502.1,106.4L500.2,103.7L498.1,101.1L496.6,99.3L494.9,97.2L492.6,94.6L490.9,92.7L489.5,91.1"/>
<path d="M642.9,10.5L641.6,13.1L640.2,15.8L638.9,18.4L637.5,21.0L636.2,23.6L634.9,26.3L633.6,28.9L632.3,31.5L631.1,34.1L629.8,36.8L628.6,39.4L627.2,42.3L625.8,45.4L624.4,48.5L623.2,51.2L622.1,53.8L621.0,56.5L619.9,59.1L618.7,62.1L617.3,65.7L616.4,68.3L615.4,70.9L614.5,73.7L613.3,77.5L612.5,80.1L611.6,83.3L610.8,86.7L610.2,89.3L609.4,93.2L608.9,97.2L608.6,99.8L608.4,103.7L608.3,107.7L608.6,111.6L608.8,114.3L609.5,118.2L610.2,121.3L611.2,124.8L612.1,127.4L613.1,130.0L614.5,132.9L615.9,135.8L617.3,138.4L618.7,140.8L620.2,143.1L622.0,145.8L623.9,148.4L625.8,151.0L627.2,152.8L629.0,155.0L631.2,157.6L632.9,159.6L634.7,161.5L637.1,164.2L638.6,165.8L640.8,168.1L640.8,168.1"/>
<path d="M659.9,43.6L659.0,47.3L658.4,49.9L657.6,53.8L657.1,56.9L656.5,60.4L655.9,64.3L655.5,67.0L655.1,70.9L654.8,74.9L654.5,78.8L654.4,82.7L654.4,86.7L654.5,90.6L654.7,94.6L655.1,98.5L655.5,102.4L655.9,105.1L656.6,109.0L657.2,111.6L658.1,115.6L658.8,118.2L659.9,121.7L659.9,121.7"/>
</g>
<rect x="489.5" y="10.5" width="170.39999999999998" height="157.6" fill="none" stroke="#2a4a2a" stroke-width="0.7"/>
<rect x="555.80" y="46.25" width="8.4" height="5" fill="#fafafa" stroke="#3c3c3c" stroke-width="0.6"/>
<text x="560.00" y="50.20" font-size="4" font-family="Liberation Sans, sans-serif" fill="#222" text-anchor="middle">300</text>
<rect x="605.80" y="84.00" width="8.4" height="5" fill="#fafafa" stroke="#3c3c3c" stroke-width="0.6"/>
<text x="610.00" y="87.95" font-size="4" font-family="Liberation Sans, sans-serif" fill="#222" text-anchor="middle">350</text>
<rect x="649.80" y="77.50" width="8.4" height="5" fill="#fafafa" stroke="#3c3c3c" stroke-width="0.6"/>
<text x="654.00" y="81.45" font-size="4" font-family="Liberation Sans, sans-serif" fill="#222" text-anchor="middle">400</text>
<rect x="506.80" y="117.00" width="8.4" height="5" fill="#fafafa" stroke="#3c3c3c" stroke-width="0.6"/>
<text x="511.00" y="120.95" font-size="4" font-family="Liberation Sans, sans-serif" fill="#222" text-anchor="middle">350</text>
<circle cx="574.3" cy="89.2" r="1.9" fill="#b01028" stroke="#2a0808" stroke-width="0.8"/>
<text x="569.5999999999999" y="90.4" font-size="3.6" font-family="Liberation Sans, sans-serif" fill="#0a500a" text-anchor="middle">6</text>
<line x1="489.50" y1="168.1" x2="489.50" y2="171.29999999999998" stroke="#444" stroke-width="0.6"/>
<text x="489.90" y="177.10" font-size="4.2" font-family="Liberation Sans, sans-serif" fill="#222" stroke="#222" stroke-width="0.12" text-anchor="middle">25</text>
<line x1="523.58" y1="168.1" x2="523.58" y2="171.29999999999998" stroke="#444" stroke-width="0.6"/>
<text x="523.98" y="177.10" font-size="4.2" font-family="Liberation Sans, sans-serif" fill="#222" stroke="#222" stroke-width="0.12" text-anchor="middle">30</text>
<line x1="557.66" y1="168.1" x2="557.66" y2="171.29999999999998" stroke="#444" stroke-width="0.6"/>
<text x="558.06" y="177.10" font-size="4.2" font-family="Liberation Sans, sans-serif" fill="#222" stroke="#222" stroke-width="0.12" text-anchor="middle">35</text>
<line x1="591.74" y1="168.1" x2="591.74" y2="171.29999999999998" stroke="#444" stroke-width="0.6"/>
<text x="592.14" y="177.10" font-size="4.2" font-family="Liberation Sans, sans-serif" fill="#222" stroke="#222" stroke-width="0.12" text-anchor="middle">40</text>
<line x1="625.82" y1="168.1" x2="625.82" y2="171.29999999999998" stroke="#444" stroke-width="0.6"/>
<text x="626.22" y="177.10" font-size="4.2" font-family="Liberation Sans, sans-serif" fill="#222" stroke="#222" stroke-width="0.12" text-anchor="middle">45</text>
<line x1="659.90" y1="168.1" x2="659.90" y2="171.29999999999998" stroke="#444" stroke-width="0.6"/>
<text x="660.30" y="177.10" font-size="4.2" font-family="Liberation Sans, sans-serif" fill="#222" stroke="#222" stroke-width="0.12" text-anchor="middle">50</text>
<line x1="486.3" y1="168.10" x2="489.5" y2="168.10" stroke="#444" stroke-width="0.6"/>
<text x="484.5" y="167.20" font-size="4.2" font-family="Liberation Sans, sans-serif" fill="#222" stroke="#222" stroke-width="0.12" text-anchor="end">10</text>
<line x1="486.3" y1="128.70" x2="489.5" y2="128.70" stroke="#444" stroke-width="0.6"/>
<text x="484.5" y="127.80" font-size="4.2" font-family="Liberation Sans, sans-serif" fill="#222" stroke="#222" stroke-width="0.12" text-anchor="end">15</text>
<line x1="486.3" y1="89.30" x2="489.5" y2="89.30" stroke="#444" stroke-width="0.6"/>
<text x="484.5" y="88.40" font-size="4.2" font-family="Liberation Sans, sans-serif" fill="#222" stroke="#222" stroke-width="0.12" text-anchor="end">20</text>
<line x1="486.3" y1="49.90" x2="489.5" y2="49.90" stroke="#444" stroke-width="0.6"/>
<text x="484.5" y="49.00" font-size="4.2" font-family="Liberation Sans, sans-serif" fill="#222" stroke="#222" stroke-width="0.12" text-anchor="end">25</text>
<line x1="486.3" y1="10.50" x2="489.5" y2="10.50" stroke="#444" stroke-width="0.6"/>
<text x="484.5" y="9.60" font-size="4.2" font-family="Liberation Sans, sans-serif" fill="#222" stroke="#222" stroke-width="0.12" text-anchor="end">30</text>
<text x="574" y="6.8" font-size="6.1" font-family="Liberation Sans, sans-serif" fill="#222" text-anchor="middle">R1</text>
<text x="582" y="188.3" font-size="8.3" font-weight="bold" font-family="Liberation Serif, serif" fill="#222" text-anchor="middle">B: Liquid lipid to Total Lipid (%w/v)</text>
<text transform="translate(465.3,93) rotate(90)" font-size="9.3" font-weight="bold" font-family="Liberation Serif, serif" fill="#222" text-anchor="middle">C: Sonication Time min)</text>
<g fill="none" stroke="#141414" stroke-width="0.72">
<path d="M23.8,220.0L117.0,199.5L209.5,220.0"/>
<path d="M24.5,236.8L117.0,214.8L208.7,236.8"/>
<path d="M25.3,253.6L117.0,230.2L208.0,253.6"/>
<path d="M26.0,270.4L117.0,245.5L207.2,270.4"/>
<path d="M26.8,287.2L117.0,260.9L206.4,287.2"/>
<path d="M27.6,304.0L117.0,276.2L205.7,304.0"/>
<path d="M23.8,220.0L28.8,330.0"/>
<path d="M47.1,214.9L49.9,297.1"/>
<path d="M70.4,209.8L72.3,290.1"/>
<path d="M93.7,204.6L94.6,283.2"/>
<path d="M117.0,199.5L117.0,300.0"/>
<path d="M135.5,203.6L134.7,281.8"/>
<path d="M154.0,207.7L152.5,287.3"/>
<path d="M172.5,211.8L170.2,292.9"/>
<path d="M191.0,215.9L187.9,298.4"/>
<path d="M209.5,220.0L204.5,330.0"/>
</g>
<circle cx="23.75" cy="220.00" r="0.75" fill="#111"/>
<text x="19.95" y="218.60" font-size="7" font-family="Liberation Sans, sans-serif" fill="#262626" text-anchor="end">600</text>
<circle cx="24.51" cy="236.80" r="0.75" fill="#111"/>
<text x="20.71" y="235.40" font-size="7" font-family="Liberation Sans, sans-serif" fill="#262626" text-anchor="end">500</text>
<circle cx="25.28" cy="253.60" r="0.75" fill="#111"/>
<text x="21.48" y="252.20" font-size="7" font-family="Liberation Sans, sans-serif" fill="#262626" text-anchor="end">400</text>
<circle cx="26.04" cy="270.40" r="0.75" fill="#111"/>
<text x="22.24" y="269.00" font-size="7" font-family="Liberation Sans, sans-serif" fill="#262626" text-anchor="end">300</text>
<circle cx="26.80" cy="287.20" r="0.75" fill="#111"/>
<text x="23.00" y="285.80" font-size="7" font-family="Liberation Sans, sans-serif" fill="#262626" text-anchor="end">200</text>
<circle cx="27.57" cy="304.00" r="0.75" fill="#111"/>
<text x="23.77" y="302.60" font-size="7" font-family="Liberation Sans, sans-serif" fill="#262626" text-anchor="end">100</text>
<path d="M28.8,330.0L117.0,300.0L204.5,330.0L116.7,369.7Z" fill="#555555" stroke="#222" stroke-width="0.7"/>
<g fill="none" stroke-width="1.45" stroke-linecap="round">
<path d="M72.9,349.9L74.6,349.1L76.9,348.0L79.2,346.8L81.6,345.7L83.2,344.9L85.6,343.7L88.0,342.6L90.4,341.5L92.1,340.7L94.5,339.6L97.0,338.5L99.5,337.4L102.1,336.3L104.7,335.3L107.3,334.2L109.9,333.2L112.7,332.2L115.5,331.2L118.3,330.3L120.3,329.7L123.4,328.8L125.5,328.3L129.0,327.5L131.6,327.1L134.0,326.9L136.5,327.0L139.5,327.4L141.4,328.1L142.8,328.9L143.8,329.8L144.6,330.9L145.2,332.0L145.6,333.2L145.8,333.9L146.0,335.2L146.1,336.2L146.1,337.3L146.1,338.3L146.0,339.5L145.9,340.4L145.8,341.7L145.6,342.5L145.4,343.8L145.2,344.9L145.0,345.8L144.7,347.2L144.4,348.2L144.1,349.2L143.8,350.5L143.5,351.5L143.2,352.5L142.7,353.9L142.4,355.0L142.1,355.9L141.6,357.2L141.2,358.5L141.1,358.6" stroke="#0ee43d"/>
<path d="M181.2,322.0L180.5,323.1L179.9,324.3L179.3,325.3L178.7,326.2L178.2,327.1L177.5,328.2L176.8,329.4L176.1,330.5L175.5,331.6L174.8,332.7L174.3,333.6L173.7,334.6L173.1,335.7L172.4,336.9L171.7,338.0L171.0,339.2L170.3,340.4L169.8,341.3L169.2,342.3L168.6,343.4L167.9,344.6L167.2,345.8L166.5,347.0L166.3,347.3" stroke="#19e40e"/>
<path d="M60.3,344.2L62.4,343.0L63.8,342.2L66.0,341.0L67.4,340.1L69.5,338.9L70.9,338.1L73.1,336.9L74.5,336.1L76.6,334.9L78.0,334.1L80.2,332.8L81.7,332.0L83.7,330.8L85.4,329.9L87.3,328.9L89.1,327.9L90.9,326.9L92.8,325.8L94.4,324.9L96.6,323.7L98.0,323.0L100.1,321.8L101.6,321.0L103.7,319.8L105.2,319.1L107.3,317.9L108.8,317.2L110.9,316.0L112.4,315.2L114.5,314.1L116.0,313.3L118.1,312.2L119.9,311.3L121.8,310.3L123.9,309.2L125.4,308.5L127.6,307.3L129.0,306.6L131.2,305.5L131.9,305.1" stroke="#19e40e"/>
<path d="M195.7,327.0L194.8,328.1L194.1,329.1L193.3,330.1L192.6,331.2L191.8,332.2L191.1,333.2L190.3,334.3L189.6,335.3L188.8,336.5L188.1,337.4" stroke="#53e40e"/>
<path d="M50.6,339.9L52.6,338.6L54.0,337.8L56.0,336.6L57.4,335.7L58.9,334.8L60.7,333.7L62.1,332.8L64.1,331.6L65.5,330.8L67.4,329.6L68.8,328.8L70.3,327.9L72.2,326.7L73.5,325.9L75.6,324.7L76.9,323.9L78.7,322.9L80.2,321.9L81.6,321.1L83.6,319.9L84.9,319.1L86.9,317.9L88.3,317.2L89.7,316.3L91.6,315.2L93.0,314.4L95.0,313.2L96.3,312.4L97.9,311.5L99.6,310.5L101.0,309.7L102.9,308.6L104.3,307.8L105.9,306.8L107.6,305.9L108.9,305.1L110.9,304.0L112.2,303.2L113.8,302.3L115.5,301.3L116.8,300.6L117.5,300.2" stroke="#53e40e"/>
<path d="M42.5,336.2L43.9,335.2L45.7,334.1L47.0,333.3L49.0,332.0L50.3,331.2L51.6,330.4L53.6,329.2L54.9,328.3L56.6,327.3L58.2,326.3L59.5,325.5L61.4,324.3L62.7,323.5L64.1,322.6L66.0,321.5L67.3,320.7L69.0,319.6L70.5,318.7L71.8,317.9L73.8,316.7L75.1,315.9L76.4,315.1L78.3,313.9L79.6,313.1L81.1,312.2L81.1,312.2" stroke="#8de40e"/>
<path d="M35.3,332.9L36.5,332.1L38.5,330.9L39.8,330.0L41.0,329.2L43.0,328.0L44.3,327.2L45.6,326.3L47.5,325.1L48.7,324.3L50.3,323.4L51.9,322.3L52.6,321.9" stroke="#c7e40e"/>
</g>
<circle cx="116.70" cy="369.70" r="0.75" fill="#111"/>
<text x="122.70" y="376.00" font-size="7" font-family="Liberation Sans, sans-serif" fill="#262626" text-anchor="middle">4</text>
<circle cx="138.65" cy="359.77" r="0.75" fill="#111"/>
<text x="144.65" y="366.07" font-size="7" font-family="Liberation Sans, sans-serif" fill="#262626" text-anchor="middle">5</text>
<circle cx="160.60" cy="349.85" r="0.75" fill="#111"/>
<text x="166.60" y="356.15" font-size="7" font-family="Liberation Sans, sans-serif" fill="#262626" text-anchor="middle">6</text>
<circle cx="182.55" cy="339.93" r="0.75" fill="#111"/>
<text x="188.55" y="346.23" font-size="7" font-family="Liberation Sans, sans-serif" fill="#262626" text-anchor="middle">7</text>
<circle cx="204.50" cy="330.00" r="0.75" fill="#111"/>
<text x="210.50" y="336.30" font-size="7" font-family="Liberation Sans, sans-serif" fill="#262626" text-anchor="middle">8</text>
<circle cx="116.70" cy="369.70" r="0.75" fill="#111"/>
<text x="109.70" y="376.20" font-size="7" font-family="Liberation Sans, sans-serif" fill="#262626" text-anchor="middle">25</text>
<circle cx="99.11" cy="361.76" r="0.75" fill="#111"/>
<text x="92.11" y="368.26" font-size="7" font-family="Liberation Sans, sans-serif" fill="#262626" text-anchor="middle">30</text>
<circle cx="81.52" cy="353.82" r="0.75" fill="#111"/>
<text x="74.52" y="360.32" font-size="7" font-family="Liberation Sans, sans-serif" fill="#262626" text-anchor="middle">35</text>
<circle cx="63.93" cy="345.88" r="0.75" fill="#111"/>
<text x="56.93" y="352.38" font-size="7" font-family="Liberation Sans, sans-serif" fill="#262626" text-anchor="middle">40</text>
<circle cx="46.34" cy="337.94" r="0.75" fill="#111"/>
<text x="39.34" y="344.44" font-size="7" font-family="Liberation Sans, sans-serif" fill="#262626" text-anchor="middle">45</text>
<circle cx="28.75" cy="330.00" r="0.75" fill="#111"/>
<text x="21.75" y="336.50" font-size="7" font-family="Liberation Sans, sans-serif" fill="#262626" text-anchor="middle">50</text>
<text transform="translate(175.5,366.3) rotate(-24.3)" font-size="8.75" font-weight="bold" font-family="Liberation Serif, serif" fill="#222" text-anchor="middle">A: Total Lipid (%w/v)</text>
<text transform="translate(62,369.5) rotate(28.4)" font-size="8.7" font-weight="bold" font-family="Liberation Serif, serif" fill="#222" text-anchor="middle">B: Liquid lipid to Total Lipid (%w/v)</text>
<g stroke="#08240c" stroke-width="0.5" stroke-linejoin="round">
<path d="M117.0,237.5L121.1,236.7L117.0,234.4L112.8,235.2Z" fill="#51f50c"/>
<path d="M112.8,238.3L117.0,237.5L112.8,235.2L108.7,235.9Z" fill="#56f50c"/>
<path d="M121.1,239.7L125.2,238.8L121.1,236.7L117.0,237.5Z" fill="#3ef70c"/>
<path d="M108.7,239.1L112.8,238.3L108.7,235.9L104.5,236.6Z" fill="#5cf40c"/>
<path d="M116.9,240.6L121.1,239.7L117.0,237.5L112.8,238.3Z" fill="#42f60c"/>
<path d="M125.2,241.8L129.4,240.8L125.2,238.8L121.1,239.7Z" fill="#2cf80c"/>
<path d="M104.5,239.9L108.7,239.1L104.5,236.6L100.3,237.3Z" fill="#62f40c"/>
<path d="M112.8,241.4L116.9,240.6L112.8,238.3L108.7,239.1Z" fill="#47f60c"/>
<path d="M121.1,242.7L125.2,241.8L121.1,239.7L116.9,240.6Z" fill="#30f80c"/>
<path d="M129.3,243.8L133.5,242.7L129.4,240.8L125.2,241.8Z" fill="#1df90c"/>
<path d="M108.6,242.3L112.8,241.4L108.7,239.1L104.5,239.9Z" fill="#4cf50c"/>
<path d="M125.2,244.8L129.3,243.8L125.2,241.8L121.1,242.7Z" fill="#1ff90c"/>
<path d="M100.3,240.6L104.5,239.9L100.3,237.3L96.2,238.0Z" fill="#68f30b"/>
<path d="M116.9,243.7L121.1,242.7L116.9,240.6L112.8,241.4Z" fill="#34f70c"/>
<path d="M133.4,245.6L137.6,244.5L133.5,242.7L129.3,243.8Z" fill="#0ffb0c"/>
<path d="M96.2,241.4L100.3,240.6L96.2,238.0L92.0,238.7Z" fill="#6ef30b"/>
<path d="M104.5,243.1L108.6,242.3L104.5,239.9L100.3,240.6Z" fill="#51f50c"/>
<path d="M112.8,244.6L116.9,243.7L112.8,241.4L108.6,242.3Z" fill="#38f70c"/>
<path d="M121.0,245.8L125.2,244.8L121.1,242.7L116.9,243.7Z" fill="#22f80c"/>
<path d="M129.3,246.7L133.4,245.6L129.3,243.8L125.2,244.8Z" fill="#11fa0c"/>
<path d="M137.5,247.3L141.7,246.2L137.6,244.5L133.4,245.6Z" fill="#0cfc14"/>
<path d="M92.0,242.1L96.2,241.4L92.0,238.7L87.8,239.3Z" fill="#74f20b"/>
<path d="M100.3,243.9L104.5,243.1L100.3,240.6L96.2,241.4Z" fill="#56f40c"/>
<path d="M116.9,246.8L121.0,245.8L116.9,243.7L112.8,244.6Z" fill="#26f80c"/>
<path d="M133.4,248.5L137.5,247.3L133.4,245.6L129.3,246.7Z" fill="#0cfb13"/>
<path d="M141.7,249.0L145.8,247.7L141.7,246.2L137.5,247.3Z" fill="#0cfd1d"/>
<path d="M108.6,245.5L112.8,244.6L108.6,242.3L104.5,243.1Z" fill="#3cf60c"/>
<path d="M125.1,247.8L129.3,246.7L125.2,244.8L121.0,245.8Z" fill="#13fa0c"/>
<path d="M96.2,244.7L100.3,243.9L96.2,241.4L92.0,242.1Z" fill="#5cf30b"/>
<path d="M137.5,250.2L141.7,249.0L137.5,247.3L133.4,248.5Z" fill="#0cfc1d"/>
<path d="M87.8,242.8L92.0,242.1L87.8,239.3L83.7,240.0Z" fill="#7bf10b"/>
<path d="M104.4,246.4L108.6,245.5L104.5,243.1L100.3,243.9Z" fill="#41f50c"/>
<path d="M112.7,247.7L116.9,246.8L112.8,244.6L108.6,245.5Z" fill="#29f70c"/>
<path d="M121.0,248.8L125.1,247.8L121.0,245.8L116.9,246.8Z" fill="#16f90c"/>
<path d="M129.3,249.6L133.4,248.5L129.3,246.7L125.1,247.8Z" fill="#0cfb12"/>
<path d="M145.8,250.4L149.9,249.1L145.8,247.7L141.7,249.0Z" fill="#0cfd25"/>
<path d="M83.7,243.5L87.8,242.8L83.7,240.0L79.5,240.6Z" fill="#82f10b"/>
<path d="M92.0,245.5L96.2,244.7L92.0,242.1L87.8,242.8Z" fill="#62f30b"/>
<path d="M100.3,247.2L104.4,246.4L100.3,243.9L96.2,244.7Z" fill="#46f50c"/>
<path d="M108.6,248.7L112.7,247.7L108.6,245.5L104.4,246.4Z" fill="#2df70c"/>
<path d="M116.9,249.9L121.0,248.8L116.9,246.8L112.7,247.7Z" fill="#18f90c"/>
<path d="M125.1,250.8L129.3,249.6L125.1,247.8L121.0,248.8Z" fill="#0cfb10"/>
<path d="M133.4,251.4L137.5,250.2L133.4,248.5L129.3,249.6Z" fill="#0cfc1d"/>
<path d="M141.6,251.7L145.8,250.4L141.7,249.0L137.5,250.2Z" fill="#0cfd25"/>
<path d="M149.9,251.8L154.0,250.4L149.9,249.1L145.8,250.4Z" fill="#0cfe2a"/>
<path d="M79.5,244.1L83.7,243.5L79.5,240.6L75.3,241.2Z" fill="#89f00b"/>
<path d="M87.8,246.2L92.0,245.5L87.8,242.8L83.7,243.5Z" fill="#68f20b"/>
<path d="M96.1,248.1L100.3,247.2L96.2,244.7L92.0,245.5Z" fill="#4bf40c"/>
<path d="M104.4,249.6L108.6,248.7L104.4,246.4L100.3,247.2Z" fill="#31f60c"/>
<path d="M112.7,250.9L116.9,249.9L112.7,247.7L108.6,248.7Z" fill="#1bf80c"/>
<path d="M121.0,251.9L125.1,250.8L121.0,248.8L116.9,249.9Z" fill="#0cfa0e"/>
<path d="M129.2,252.6L133.4,251.4L129.3,249.6L125.1,250.8Z" fill="#0cfc1c"/>
<path d="M137.5,253.0L141.6,251.7L137.5,250.2L133.4,251.4Z" fill="#0cfd26"/>
<path d="M145.7,253.2L149.9,251.8L145.8,250.4L141.6,251.7Z" fill="#0cfe2b"/>
<path d="M154.0,253.0L158.1,251.6L154.0,250.4L149.9,251.8Z" fill="#0cfe2c"/>
<path d="M75.3,244.8L79.5,244.1L75.3,241.2L71.1,241.7Z" fill="#90f00b"/>
<path d="M83.7,247.0L87.8,246.2L83.7,243.5L79.5,244.1Z" fill="#6ef20b"/>
<path d="M92.0,248.9L96.1,248.1L92.0,245.5L87.8,246.2Z" fill="#50f40c"/>
<path d="M100.3,250.5L104.4,249.6L100.3,247.2L96.1,248.1Z" fill="#35f60c"/>
<path d="M108.6,251.9L112.7,250.9L108.6,248.7L104.4,249.6Z" fill="#1ff80c"/>
<path d="M116.8,253.0L121.0,251.9L116.9,249.9L112.7,250.9Z" fill="#0cfa0c"/>
<path d="M125.1,253.8L129.2,252.6L125.1,250.8L121.0,251.9Z" fill="#0cfb1b"/>
<path d="M133.3,254.3L137.5,253.0L133.4,251.4L129.2,252.6Z" fill="#0cfd26"/>
<path d="M141.6,254.5L145.7,253.2L141.6,251.7L137.5,253.0Z" fill="#0cfe2c"/>
<path d="M149.8,254.5L154.0,253.0L149.9,251.8L145.7,253.2Z" fill="#0cfe2f"/>
<path d="M158.1,254.1L162.2,252.6L158.1,251.6L154.0,253.0Z" fill="#0cfe2c"/>
<path d="M71.1,245.4L75.3,244.8L71.1,241.7L67.0,242.3Z" fill="#98ef0b"/>
<path d="M79.5,247.7L83.7,247.0L79.5,244.1L75.3,244.8Z" fill="#75f10b"/>
<path d="M87.8,249.7L92.0,248.9L87.8,246.2L83.7,247.0Z" fill="#56f30b"/>
<path d="M96.1,251.4L100.3,250.5L96.1,248.1L92.0,248.9Z" fill="#3af50c"/>
<path d="M104.4,252.9L108.6,251.9L104.4,249.6L100.3,250.5Z" fill="#22f70c"/>
<path d="M112.7,254.0L116.8,253.0L112.7,250.9L108.6,251.9Z" fill="#0ef90c"/>
<path d="M120.9,254.9L125.1,253.8L121.0,251.9L116.8,253.0Z" fill="#0cfb19"/>
<path d="M129.2,255.5L133.3,254.3L129.2,252.6L125.1,253.8Z" fill="#0cfc25"/>
<path d="M137.5,255.8L141.6,254.5L137.5,253.0L133.3,254.3Z" fill="#0cfd2d"/>
<path d="M145.7,255.9L149.8,254.5L145.7,253.2L141.6,254.5Z" fill="#0cfe31"/>
<path d="M154.0,255.6L158.1,254.1L154.0,253.0L149.8,254.5Z" fill="#0cfe30"/>
<path d="M162.2,255.1L166.3,253.5L162.2,252.6L158.1,254.1Z" fill="#0cfe2b"/>
<path d="M67.0,246.0L71.1,245.4L67.0,242.3L62.8,242.8Z" fill="#9fef0b"/>
<path d="M75.3,248.4L79.5,247.7L75.3,244.8L71.1,245.4Z" fill="#7cf10b"/>
<path d="M83.7,250.5L87.8,249.7L83.7,247.0L79.5,247.7Z" fill="#5bf30b"/>
<path d="M92.0,252.3L96.1,251.4L92.0,248.9L87.8,249.7Z" fill="#3ff50c"/>
<path d="M100.3,253.8L104.4,252.9L100.3,250.5L96.1,251.4Z" fill="#26f70c"/>
<path d="M108.5,255.1L112.7,254.0L108.6,251.9L104.4,252.9Z" fill="#11f90c"/>
<path d="M116.8,256.1L120.9,254.9L116.8,253.0L112.7,254.0Z" fill="#0cfa18"/>
<path d="M125.1,256.8L129.2,255.5L125.1,253.8L120.9,254.9Z" fill="#0cfc25"/>
<path d="M133.3,257.2L137.5,255.8L133.3,254.3L129.2,255.5Z" fill="#0cfd2e"/>
<path d="M141.6,257.3L145.7,255.9L141.6,254.5L137.5,255.8Z" fill="#0cfe33"/>
<path d="M149.8,257.1L154.0,255.6L149.8,254.5L145.7,255.9Z" fill="#0cfe33"/>
<path d="M158.1,256.7L162.2,255.1L158.1,254.1L154.0,255.6Z" fill="#0cfe2f"/>
<path d="M166.3,256.0L170.5,254.3L166.3,253.5L162.2,255.1Z" fill="#0cfd26"/>
<path d="M62.8,246.6L67.0,246.0L62.8,242.8L58.6,243.3Z" fill="#a7ee0b"/>
<path d="M71.2,249.0L75.3,248.4L71.1,245.4L67.0,246.0Z" fill="#83f00b"/>
<path d="M79.5,251.2L83.7,250.5L79.5,247.7L75.3,248.4Z" fill="#61f20b"/>
<path d="M87.8,253.2L92.0,252.3L87.8,249.7L83.7,250.5Z" fill="#44f40c"/>
<path d="M104.4,256.1L108.5,255.1L104.4,252.9L100.3,253.8Z" fill="#14f80c"/>
<path d="M112.7,257.2L116.8,256.1L112.7,254.0L108.5,255.1Z" fill="#0cfa16"/>
<path d="M120.9,258.0L125.1,256.8L120.9,254.9L116.8,256.1Z" fill="#0cfb24"/>
<path d="M129.2,258.5L133.3,257.2L129.2,255.5L125.1,256.8Z" fill="#0cfd2e"/>
<path d="M145.7,258.6L149.8,257.1L145.7,255.9L141.6,257.3Z" fill="#0cfe36"/>
<path d="M153.9,258.2L158.1,256.7L154.0,255.6L149.8,257.1Z" fill="#0cfe33"/>
<path d="M162.2,257.6L166.3,256.0L162.2,255.1L158.1,256.7Z" fill="#0cfd2b"/>
<path d="M170.5,256.7L174.6,255.0L170.5,254.3L166.3,256.0Z" fill="#0cfc20"/>
<path d="M96.1,254.8L100.3,253.8L96.1,251.4L92.0,252.3Z" fill="#2af60c"/>
<path d="M137.4,258.7L141.6,257.3L137.5,255.8L133.3,257.2Z" fill="#0cfe34"/>
<path d="M58.6,247.1L62.8,246.6L58.6,243.3L54.4,243.8Z" fill="#b0ee0b"/>
<path d="M67.0,249.7L71.2,249.0L67.0,246.0L62.8,246.6Z" fill="#8af00b"/>
<path d="M83.7,254.0L87.8,253.2L83.7,250.5L79.5,251.2Z" fill="#49f40b"/>
<path d="M108.5,258.3L112.7,257.2L108.5,255.1L104.4,256.1Z" fill="#0cf914"/>
<path d="M125.0,259.7L129.2,258.5L125.1,256.8L120.9,258.0Z" fill="#0cfc2e"/>
<path d="M149.8,259.8L153.9,258.2L149.8,257.1L145.7,258.6Z" fill="#0cfe36"/>
<path d="M166.3,258.4L170.5,256.7L166.3,256.0L162.2,257.6Z" fill="#0cfc26"/>
<path d="M174.6,257.3L178.7,255.5L174.6,255.0L170.5,256.7Z" fill="#0cfb17"/>
<path d="M75.3,252.0L79.5,251.2L75.3,248.4L71.2,249.0Z" fill="#68f20b"/>
<path d="M92.0,255.7L96.1,254.8L92.0,252.3L87.8,253.2Z" fill="#2ef60c"/>
<path d="M100.3,257.1L104.4,256.1L100.3,253.8L96.1,254.8Z" fill="#17f70c"/>
<path d="M116.8,259.2L120.9,258.0L116.8,256.1L112.7,257.2Z" fill="#0cfb23"/>
<path d="M133.3,260.0L137.4,258.7L133.3,257.2L129.2,258.5Z" fill="#0cfd36"/>
<path d="M141.5,260.1L145.7,258.6L141.6,257.3L137.4,258.7Z" fill="#0cfe38"/>
<path d="M158.0,259.2L162.2,257.6L158.1,256.7L153.9,258.2Z" fill="#0cfd30"/>
<path d="M62.8,250.3L67.0,249.7L62.8,246.6L58.6,247.1Z" fill="#91ef0b"/>
<path d="M170.4,259.0L174.6,257.3L170.5,256.7L166.3,258.4Z" fill="#0cfc1e"/>
<path d="M54.4,247.7L58.6,247.1L54.4,243.8L50.2,244.3Z" fill="#b8ed0b"/>
<path d="M71.2,252.7L75.3,252.0L71.2,249.0L67.0,249.7Z" fill="#6ef10b"/>
<path d="M79.5,254.8L83.7,254.0L79.5,251.2L75.3,252.0Z" fill="#4ff30b"/>
<path d="M87.8,256.6L92.0,255.7L87.8,253.2L83.7,254.0Z" fill="#33f50c"/>
<path d="M96.1,258.1L100.3,257.1L96.1,254.8L92.0,255.7Z" fill="#1bf70c"/>
<path d="M104.4,259.4L108.5,258.3L104.4,256.1L100.3,257.1Z" fill="#0cf911"/>
<path d="M112.6,260.3L116.8,259.2L112.7,257.2L108.5,258.3Z" fill="#0cfb22"/>
<path d="M120.9,261.0L125.0,259.7L120.9,258.0L116.8,259.2Z" fill="#0cfc2e"/>
<path d="M129.2,261.4L133.3,260.0L129.2,258.5L125.0,259.7Z" fill="#0cfd37"/>
<path d="M137.4,261.5L141.5,260.1L137.4,258.7L133.3,260.0Z" fill="#0cfe3a"/>
<path d="M145.7,261.3L149.8,259.8L145.7,258.6L141.5,260.1Z" fill="#0cfe3a"/>
<path d="M153.9,260.8L158.0,259.2L153.9,258.2L149.8,259.8Z" fill="#0cfe35"/>
<path d="M162.2,260.1L166.3,258.4L162.2,257.6L158.0,259.2Z" fill="#0cfd2c"/>
<path d="M178.7,257.7L182.9,255.8L178.7,255.5L174.6,257.3Z" fill="#0cfa0c"/>
<path d="M50.2,248.2L54.4,247.7L50.2,244.3L46.0,244.7Z" fill="#c1ed0b"/>
<path d="M58.6,251.0L62.8,250.3L58.6,247.1L54.4,247.7Z" fill="#99ef0b"/>
<path d="M67.0,253.4L71.2,252.7L67.0,249.7L62.8,250.3Z" fill="#75f00b"/>
<path d="M75.3,255.6L79.5,254.8L75.3,252.0L71.2,252.7Z" fill="#54f20b"/>
<path d="M83.7,257.5L87.8,256.6L83.7,254.0L79.5,254.8Z" fill="#38f40c"/>
<path d="M92.0,259.1L96.1,258.1L92.0,255.7L87.8,256.6Z" fill="#1ef60c"/>
<path d="M100.2,260.5L104.4,259.4L100.3,257.1L96.1,258.1Z" fill="#0cf80f"/>
<path d="M116.8,262.3L120.9,261.0L116.8,259.2L112.6,260.3Z" fill="#0cfc2e"/>
<path d="M133.3,262.9L137.4,261.5L133.3,260.0L129.2,261.4Z" fill="#0cfe3c"/>
<path d="M141.5,262.8L145.7,261.3L141.5,260.1L137.4,261.5Z" fill="#0cfe3d"/>
<path d="M149.8,262.4L153.9,260.8L149.8,259.8L145.7,261.3Z" fill="#0cfe39"/>
<path d="M158.0,261.7L162.2,260.1L158.0,259.2L153.9,260.8Z" fill="#0cfd31"/>
<path d="M166.3,260.8L170.4,259.0L166.3,258.4L162.2,260.1Z" fill="#0cfc25"/>
<path d="M174.6,259.5L178.7,257.7L174.6,257.3L170.4,259.0Z" fill="#0cfa14"/>
<path d="M182.9,258.0L187.0,256.1L182.9,255.8L178.7,257.7Z" fill="#18f90c"/>
<path d="M108.5,261.5L112.6,260.3L108.5,258.3L104.4,259.4Z" fill="#0cfa20"/>
<path d="M125.0,262.7L129.2,261.4L125.0,259.7L120.9,261.0Z" fill="#0cfd37"/>
<path d="M46.0,248.7L50.2,248.2L46.0,244.7L41.8,245.2Z" fill="#caec0b"/>
<path d="M54.4,251.5L58.6,251.0L54.4,247.7L50.2,248.2Z" fill="#a1ee0b"/>
<path d="M71.2,256.4L75.3,255.6L71.2,252.7L67.0,253.4Z" fill="#5af20b"/>
<path d="M87.8,260.1L92.0,259.1L87.8,256.6L83.7,257.5Z" fill="#22f60c"/>
<path d="M96.1,261.5L100.2,260.5L96.1,258.1L92.0,259.1Z" fill="#0cf80c"/>
<path d="M137.4,264.3L141.5,262.8L137.4,261.5L133.3,262.9Z" fill="#0cfe40"/>
<path d="M145.6,264.0L149.8,262.4L145.7,261.3L141.5,262.8Z" fill="#0cfe3d"/>
<path d="M162.1,262.5L166.3,260.8L162.2,260.1L158.0,261.7Z" fill="#0cfc2b"/>
<path d="M178.7,259.9L182.9,258.0L178.7,257.7L174.6,259.5Z" fill="#10f90c"/>
<path d="M187.0,258.2L191.2,256.2L187.0,256.1L182.9,258.0Z" fill="#27f70c"/>
<path d="M62.8,254.1L67.0,253.4L62.8,250.3L58.6,251.0Z" fill="#7cf00b"/>
<path d="M79.5,258.4L83.7,257.5L79.5,254.8L75.3,255.6Z" fill="#3cf40c"/>
<path d="M104.4,262.7L108.5,261.5L104.4,259.4L100.2,260.5Z" fill="#0cfa1e"/>
<path d="M112.6,263.5L116.8,262.3L112.6,260.3L108.5,261.5Z" fill="#0cfb2d"/>
<path d="M120.9,264.1L125.0,262.7L120.9,261.0L116.8,262.3Z" fill="#0cfd38"/>
<path d="M129.1,264.3L133.3,262.9L129.2,261.4L125.0,262.7Z" fill="#0cfd3e"/>
<path d="M153.9,263.4L158.0,261.7L153.9,260.8L149.8,262.4Z" fill="#0cfd36"/>
<path d="M170.4,261.4L174.6,259.5L170.4,259.0L166.3,260.8Z" fill="#0cfb1b"/>
<path d="M41.8,249.2L46.0,248.7L41.8,245.2L37.6,245.6Z" fill="#d3ec0b"/>
<path d="M50.3,252.1L54.4,251.5L50.2,248.2L46.0,248.7Z" fill="#a9ee0b"/>
<path d="M92.0,262.6L96.1,261.5L92.0,259.1L87.8,260.1Z" fill="#0ff70c"/>
<path d="M141.5,265.6L145.6,264.0L141.5,262.8L137.4,264.3Z" fill="#0cfe41"/>
<path d="M182.9,260.1L187.0,258.2L182.9,258.0L178.7,259.9Z" fill="#1ef80c"/>
<path d="M191.2,258.2L195.3,256.1L191.2,256.2L187.0,258.2Z" fill="#38f60c"/>
<path d="M58.6,254.8L62.8,254.1L58.6,251.0L54.4,251.5Z" fill="#83ef0b"/>
<path d="M67.0,257.2L71.2,256.4L67.0,253.4L62.8,254.1Z" fill="#61f10b"/>
<path d="M75.3,259.2L79.5,258.4L75.3,255.6L71.2,256.4Z" fill="#42f30b"/>
<path d="M83.7,261.0L87.8,260.1L83.7,257.5L79.5,258.4Z" fill="#26f50c"/>
<path d="M100.2,263.8L104.4,262.7L100.2,260.5L96.1,261.5Z" fill="#0cf91c"/>
<path d="M108.5,264.7L112.6,263.5L108.5,261.5L104.4,262.7Z" fill="#0cfb2c"/>
<path d="M116.8,265.4L120.9,264.1L116.8,262.3L112.6,263.5Z" fill="#0cfc38"/>
<path d="M125.0,265.7L129.1,264.3L125.0,262.7L120.9,264.1Z" fill="#0cfd3f"/>
<path d="M133.3,265.8L137.4,264.3L133.3,262.9L129.1,264.3Z" fill="#0cfe42"/>
<path d="M149.8,265.1L153.9,263.4L149.8,262.4L145.6,264.0Z" fill="#0cfd3b"/>
<path d="M158.0,264.3L162.1,262.5L158.0,261.7L153.9,263.4Z" fill="#0cfd31"/>
<path d="M166.3,263.2L170.4,261.4L166.3,260.8L162.1,262.5Z" fill="#0cfb23"/>
<path d="M174.6,261.8L178.7,259.9L174.6,259.5L170.4,261.4Z" fill="#0cfa10"/>
<path d="M46.1,252.7L50.3,252.1L46.0,248.7L41.8,249.2Z" fill="#b2ed0b"/>
<path d="M187.0,260.2L191.2,258.2L187.0,258.2L182.9,260.1Z" fill="#2ef60c"/>
<path d="M37.6,249.6L41.8,249.2L37.6,245.6L33.4,246.0Z" fill="#dcec0b"/>
<path d="M54.5,255.4L58.6,254.8L54.4,251.5L50.3,252.1Z" fill="#8bef0b"/>
<path d="M62.8,257.9L67.0,257.2L62.8,254.1L58.6,254.8Z" fill="#67f10b"/>
<path d="M71.2,260.1L75.3,259.2L71.2,256.4L67.0,257.2Z" fill="#47f30b"/>
<path d="M79.5,262.0L83.7,261.0L79.5,258.4L75.3,259.2Z" fill="#2bf50c"/>
<path d="M87.8,263.6L92.0,262.6L87.8,260.1L83.7,261.0Z" fill="#12f70c"/>
<path d="M96.1,264.9L100.2,263.8L96.1,261.5L92.0,262.6Z" fill="#0cf91a"/>
<path d="M104.4,265.9L108.5,264.7L104.4,262.7L100.2,263.8Z" fill="#0cfa2b"/>
<path d="M112.6,266.7L116.8,265.4L112.6,263.5L108.5,264.7Z" fill="#0cfc38"/>
<path d="M120.9,267.1L125.0,265.7L120.9,264.1L116.8,265.4Z" fill="#0cfd40"/>
<path d="M129.1,267.3L133.3,265.8L129.1,264.3L125.0,265.7Z" fill="#0cfe45"/>
<path d="M137.4,267.1L141.5,265.6L137.4,264.3L133.3,265.8Z" fill="#0cfe45"/>
<path d="M145.6,266.7L149.8,265.1L145.6,264.0L141.5,265.6Z" fill="#0cfe40"/>
<path d="M153.9,266.0L158.0,264.3L153.9,263.4L149.8,265.1Z" fill="#0cfd37"/>
<path d="M162.1,265.0L166.3,263.2L162.1,262.5L158.0,264.3Z" fill="#0cfc2a"/>
<path d="M170.4,263.7L174.6,261.8L170.4,261.4L166.3,263.2Z" fill="#0cfa18"/>
<path d="M178.7,262.1L182.9,260.1L178.7,259.9L174.6,261.8Z" fill="#15f80c"/>
<path d="M195.3,258.0L199.5,255.9L195.3,256.1L191.2,258.2Z" fill="#4bf40c"/>
<path d="M33.4,250.1L37.6,249.6L33.4,246.0L29.2,246.3Z" fill="#e6eb0b"/>
<path d="M41.9,253.2L46.1,252.7L41.8,249.2L37.6,249.6Z" fill="#baed0b"/>
<path d="M50.3,256.1L54.5,255.4L50.3,252.1L46.1,252.7Z" fill="#92ee0b"/>
<path d="M58.7,258.6L62.8,257.9L58.6,254.8L54.5,255.4Z" fill="#6ef00b"/>
<path d="M67.0,260.9L71.2,260.1L67.0,257.2L62.8,257.9Z" fill="#4df20b"/>
<path d="M75.4,262.9L79.5,262.0L75.3,259.2L71.2,260.1Z" fill="#30f40c"/>
<path d="M83.7,264.6L87.8,263.6L83.7,261.0L79.5,262.0Z" fill="#16f60c"/>
<path d="M91.9,266.0L96.1,264.9L92.0,262.6L87.8,263.6Z" fill="#0cf817"/>
<path d="M100.2,267.1L104.4,265.9L100.2,263.8L96.1,264.9Z" fill="#0cfa29"/>
<path d="M108.5,267.9L112.6,266.7L108.5,264.7L104.4,265.9Z" fill="#0cfb37"/>
<path d="M116.7,268.5L120.9,267.1L116.8,265.4L112.6,266.7Z" fill="#0cfd41"/>
<path d="M125.0,268.7L129.1,267.3L125.0,265.7L120.9,267.1Z" fill="#0cfe47"/>
<path d="M133.2,268.7L137.4,267.1L133.3,265.8L129.1,267.3Z" fill="#0cfe48"/>
<path d="M141.5,268.3L145.6,266.7L141.5,265.6L137.4,267.1Z" fill="#0cfe44"/>
<path d="M149.7,267.7L153.9,266.0L149.8,265.1L145.6,266.7Z" fill="#0cfd3c"/>
<path d="M158.0,266.8L162.1,265.0L158.0,264.3L153.9,266.0Z" fill="#0cfc30"/>
<path d="M166.3,265.5L170.4,263.7L166.3,263.2L162.1,265.0Z" fill="#0cfb20"/>
<path d="M174.6,264.0L178.7,262.1L174.6,261.8L170.4,263.7Z" fill="#0cf90c"/>
<path d="M182.9,262.2L187.0,260.2L182.9,260.1L178.7,262.1Z" fill="#24f70c"/>
<path d="M191.2,260.2L195.3,258.0L191.2,258.2L187.0,260.2Z" fill="#40f50c"/>
<path d="M199.5,257.8L203.7,255.6L199.5,255.9L195.3,258.0Z" fill="#60f30b"/>
<path d="M29.2,250.5L33.4,250.1L29.2,246.3L25.0,246.7Z" fill="#ebe60b"/>
<path d="M37.7,253.7L41.9,253.2L37.6,249.6L33.4,250.1Z" fill="#c3ec0b"/>
<path d="M46.1,256.7L50.3,256.1L46.1,252.7L41.9,253.2Z" fill="#9aee0b"/>
<path d="M54.5,259.3L58.7,258.6L54.5,255.4L50.3,256.1Z" fill="#75f00b"/>
<path d="M62.9,261.7L67.0,260.9L62.8,257.9L58.7,258.6Z" fill="#53f20b"/>
<path d="M71.2,263.8L75.4,262.9L71.2,260.1L67.0,260.9Z" fill="#35f40b"/>
<path d="M79.5,265.6L83.7,264.6L79.5,262.0L75.4,262.9Z" fill="#1af60c"/>
<path d="M87.8,267.1L91.9,266.0L87.8,263.6L83.7,264.6Z" fill="#0cf814"/>
<path d="M96.1,268.3L100.2,267.1L96.1,264.9L91.9,266.0Z" fill="#0cf928"/>
<path d="M104.3,269.2L108.5,267.9L104.4,265.9L100.2,267.1Z" fill="#0cfb37"/>
<path d="M112.6,269.8L116.7,268.5L112.6,266.7L108.5,267.9Z" fill="#0cfc42"/>
<path d="M120.9,270.2L125.0,268.7L120.9,267.1L116.7,268.5Z" fill="#0cfd48"/>
<path d="M129.1,270.2L133.2,268.7L129.1,267.3L125.0,268.7Z" fill="#0cfe4b"/>
<path d="M137.4,269.9L141.5,268.3L137.4,267.1L133.2,268.7Z" fill="#0cfe48"/>
<path d="M145.6,269.4L149.7,267.7L145.6,266.7L141.5,268.3Z" fill="#0cfd42"/>
<path d="M153.9,268.5L158.0,266.8L153.9,266.0L149.7,267.7Z" fill="#0cfc37"/>
<path d="M162.1,267.4L166.3,265.5L162.1,265.0L158.0,266.8Z" fill="#0cfb28"/>
<path d="M170.4,266.0L174.6,264.0L170.4,263.7L166.3,265.5Z" fill="#0cf914"/>
<path d="M178.7,264.3L182.9,262.2L178.7,262.1L174.6,264.0Z" fill="#1af70c"/>
<path d="M187.0,262.2L191.2,260.2L187.0,260.2L182.9,262.2Z" fill="#35f50c"/>
<path d="M195.4,259.9L199.5,257.8L195.3,258.0L191.2,260.2Z" fill="#54f40b"/>
<path d="M203.7,257.4L207.9,255.1L203.7,255.6L199.5,257.8Z" fill="#76f20b"/>
<path d="M33.5,254.2L37.7,253.7L33.4,250.1L29.2,250.5Z" fill="#ccec0b"/>
<path d="M41.9,257.2L46.1,256.7L41.9,253.2L37.7,253.7Z" fill="#a2ed0b"/>
<path d="M50.3,260.0L54.5,259.3L50.3,256.1L46.1,256.7Z" fill="#7cef0b"/>
<path d="M67.0,264.7L71.2,263.8L67.0,260.9L62.9,261.7Z" fill="#3af30b"/>
<path d="M75.4,266.5L79.5,265.6L75.4,262.9L71.2,263.8Z" fill="#1ef50c"/>
<path d="M91.9,269.4L96.1,268.3L91.9,266.0L87.8,267.1Z" fill="#0cf925"/>
<path d="M108.5,271.2L112.6,269.8L108.5,267.9L104.3,269.2Z" fill="#0cfc42"/>
<path d="M116.7,271.6L120.9,270.2L116.7,268.5L112.6,269.8Z" fill="#0cfd4a"/>
<path d="M125.0,271.7L129.1,270.2L125.0,268.7L120.9,270.2Z" fill="#0cfe4d"/>
<path d="M141.5,271.1L145.6,269.4L141.5,268.3L137.4,269.9Z" fill="#0cfe47"/>
<path d="M158.0,269.2L162.1,267.4L158.0,266.8L153.9,268.5Z" fill="#0cfb2f"/>
<path d="M166.3,267.9L170.4,266.0L166.3,265.5L162.1,267.4Z" fill="#0cfa1d"/>
<path d="M182.9,264.3L187.0,262.2L182.9,262.2L178.7,264.3Z" fill="#2bf60c"/>
<path d="M191.2,262.1L195.4,259.9L191.2,260.2L187.0,262.2Z" fill="#49f40c"/>
<path d="M199.5,259.6L203.7,257.4L199.5,257.8L195.4,259.9Z" fill="#6af20b"/>
<path d="M58.7,262.5L62.9,261.7L58.7,258.6L54.5,259.3Z" fill="#59f10b"/>
<path d="M83.7,268.1L87.8,267.1L83.7,264.6L79.5,265.6Z" fill="#0cf711"/>
<path d="M100.2,270.4L104.3,269.2L100.2,267.1L96.1,268.3Z" fill="#0cfb36"/>
<path d="M133.2,271.5L137.4,269.9L133.2,268.7L129.1,270.2Z" fill="#0cfe4c"/>
<path d="M149.7,270.3L153.9,268.5L149.7,267.7L145.6,269.4Z" fill="#0cfd3d"/>
<path d="M174.6,266.3L178.7,264.3L174.6,264.0L170.4,266.0Z" fill="#11f80c"/>
<path d="M46.2,260.7L50.3,260.0L46.1,256.7L41.9,257.2Z" fill="#83ef0b"/>
<path d="M71.2,267.5L75.4,266.5L71.2,263.8L67.0,264.7Z" fill="#22f40c"/>
<path d="M112.6,273.0L116.7,271.6L112.6,269.8L108.5,271.2Z" fill="#0cfd4b"/>
<path d="M120.8,273.2L125.0,271.7L120.9,270.2L116.7,271.6Z" fill="#0cfe50"/>
<path d="M162.1,269.8L166.3,267.9L162.1,267.4L158.0,269.2Z" fill="#0cfa25"/>
<path d="M187.0,264.3L191.2,262.1L187.0,262.2L182.9,264.3Z" fill="#3ef50c"/>
<path d="M37.7,257.8L41.9,257.2L37.7,253.7L33.5,254.2Z" fill="#abed0b"/>
<path d="M54.5,263.2L58.7,262.5L54.5,259.3L50.3,260.0Z" fill="#5ff10b"/>
<path d="M62.9,265.5L67.0,264.7L62.9,261.7L58.7,262.5Z" fill="#3ff20b"/>
<path d="M79.5,269.2L83.7,268.1L79.5,265.6L75.4,266.5Z" fill="#0cf60e"/>
<path d="M87.8,270.6L91.9,269.4L87.8,267.1L83.7,268.1Z" fill="#0cf823"/>
<path d="M96.1,271.7L100.2,270.4L96.1,268.3L91.9,269.4Z" fill="#0cfa34"/>
<path d="M104.3,272.5L108.5,271.2L104.3,269.2L100.2,270.4Z" fill="#0cfc42"/>
<path d="M129.1,273.1L133.2,271.5L129.1,270.2L125.0,271.7Z" fill="#0cfe50"/>
<path d="M137.3,272.7L141.5,271.1L137.4,269.9L133.2,271.5Z" fill="#0cfe4c"/>
<path d="M145.6,272.1L149.7,270.3L145.6,269.4L141.5,271.1Z" fill="#0cfd43"/>
<path d="M153.8,271.1L158.0,269.2L153.9,268.5L149.7,270.3Z" fill="#0cfc36"/>
<path d="M170.4,268.3L174.6,266.3L170.4,266.0L166.3,267.9Z" fill="#0cf80f"/>
<path d="M178.7,266.4L182.9,264.3L178.7,264.3L174.6,266.3Z" fill="#21f70c"/>
<path d="M195.4,261.8L199.5,259.6L195.4,259.9L191.2,262.1Z" fill="#5ef30b"/>
<path d="M42.0,261.3L46.2,260.7L41.9,257.2L37.7,257.8Z" fill="#8bee0b"/>
<path d="M58.7,266.3L62.9,265.5L58.7,262.5L54.5,263.2Z" fill="#45f20b"/>
<path d="M67.1,268.4L71.2,267.5L67.0,264.7L62.9,265.5Z" fill="#27f40c"/>
<path d="M83.7,271.7L87.8,270.6L83.7,268.1L79.5,269.2Z" fill="#0cf821"/>
<path d="M100.2,273.8L104.3,272.5L100.2,270.4L96.1,271.7Z" fill="#0cfb41"/>
<path d="M108.5,274.4L112.6,273.0L108.5,271.2L104.3,272.5Z" fill="#0cfd4c"/>
<path d="M116.7,274.7L120.8,273.2L116.7,271.6L112.6,273.0Z" fill="#0cfd52"/>
<path d="M125.0,274.7L129.1,273.1L125.0,271.7L120.8,273.2Z" fill="#0cfe53"/>
<path d="M133.2,274.4L137.3,272.7L133.2,271.5L129.1,273.1Z" fill="#0cfe50"/>
<path d="M149.7,272.9L153.8,271.1L149.7,270.3L145.6,272.1Z" fill="#0cfc3d"/>
<path d="M166.3,270.2L170.4,268.3L166.3,267.9L162.1,269.8Z" fill="#0cf918"/>
<path d="M174.6,268.5L178.7,266.4L174.6,266.3L170.4,268.3Z" fill="#17f70c"/>
<path d="M191.2,264.0L195.4,261.8L191.2,262.1L187.0,264.3Z" fill="#52f30b"/>
<path d="M50.4,264.0L54.5,263.2L50.3,260.0L46.2,260.7Z" fill="#66f00b"/>
<path d="M75.4,270.2L79.5,269.2L75.4,266.5L71.2,267.5Z" fill="#0df60c"/>
<path d="M91.9,272.9L96.1,271.7L91.9,269.4L87.8,270.6Z" fill="#0cfa33"/>
<path d="M141.5,273.8L145.6,272.1L141.5,271.1L137.3,272.7Z" fill="#0cfd49"/>
<path d="M158.0,271.7L162.1,269.8L158.0,269.2L153.8,271.1Z" fill="#0cfb2d"/>
<path d="M182.9,266.4L187.0,264.3L182.9,264.3L178.7,266.4Z" fill="#33f50c"/>
<path d="M62.9,269.3L67.1,268.4L62.9,265.5L58.7,266.3Z" fill="#2cf30b"/>
<path d="M104.3,275.7L108.5,274.4L104.3,272.5L100.2,273.8Z" fill="#0cfc4c"/>
<path d="M129.1,276.0L133.2,274.4L129.1,273.1L125.0,274.7Z" fill="#0cfe54"/>
<path d="M170.4,270.5L174.6,268.5L170.4,268.3L166.3,270.2Z" fill="#0df80c"/>
<path d="M46.2,264.7L50.4,264.0L46.2,260.7L42.0,261.3Z" fill="#6df00b"/>
<path d="M54.6,267.1L58.7,266.3L54.5,263.2L50.4,264.0Z" fill="#4bf10b"/>
<path d="M71.2,271.2L75.4,270.2L71.2,267.5L67.1,268.4Z" fill="#11f50c"/>
<path d="M79.5,272.8L83.7,271.7L79.5,269.2L75.4,270.2Z" fill="#0cf71e"/>
<path d="M87.8,274.1L91.9,272.9L87.8,270.6L83.7,271.7Z" fill="#0cf931"/>
<path d="M96.1,275.1L100.2,273.8L96.1,271.7L91.9,272.9Z" fill="#0cfb41"/>
<path d="M112.6,276.1L116.7,274.7L112.6,273.0L108.5,274.4Z" fill="#0cfd53"/>
<path d="M120.8,276.2L125.0,274.7L120.8,273.2L116.7,274.7Z" fill="#0cfe56"/>
<path d="M137.3,275.5L141.5,273.8L137.3,272.7L133.2,274.4Z" fill="#0cfd4e"/>
<path d="M145.6,274.7L149.7,272.9L145.6,272.1L141.5,273.8Z" fill="#0cfc43"/>
<path d="M153.8,273.6L158.0,271.7L153.8,271.1L149.7,272.9Z" fill="#0cfb34"/>
<path d="M162.1,272.2L166.3,270.2L162.1,269.8L158.0,271.7Z" fill="#0cf921"/>
<path d="M178.7,268.5L182.9,266.4L178.7,266.4L174.6,268.5Z" fill="#28f60c"/>
<path d="M187.0,266.2L191.2,264.0L187.0,264.3L182.9,266.4Z" fill="#46f40c"/>
<path d="M50.4,267.9L54.6,267.1L50.4,264.0L46.2,264.7Z" fill="#51f10b"/>
<path d="M58.8,270.2L62.9,269.3L58.7,266.3L54.6,267.1Z" fill="#31f30b"/>
<path d="M67.1,272.2L71.2,271.2L67.1,268.4L62.9,269.3Z" fill="#15f50c"/>
<path d="M75.4,273.9L79.5,272.8L75.4,270.2L71.2,271.2Z" fill="#0cf71b"/>
<path d="M83.7,275.2L87.8,274.1L83.7,271.7L79.5,272.8Z" fill="#0cf92f"/>
<path d="M91.9,276.3L96.1,275.1L91.9,272.9L87.8,274.1Z" fill="#0cfa40"/>
<path d="M100.2,277.1L104.3,275.7L100.2,273.8L96.1,275.1Z" fill="#0cfc4c"/>
<path d="M108.5,277.6L112.6,276.1L108.5,274.4L104.3,275.7Z" fill="#0cfd55"/>
<path d="M116.7,277.8L120.8,276.2L116.7,274.7L112.6,276.1Z" fill="#0cfe59"/>
<path d="M125.0,277.6L129.1,276.0L125.0,274.7L120.8,276.2Z" fill="#0cfe58"/>
<path d="M133.2,277.2L137.3,275.5L133.2,274.4L129.1,276.0Z" fill="#0cfe53"/>
<path d="M141.4,276.5L145.6,274.7L141.5,273.8L137.3,275.5Z" fill="#0cfd49"/>
<path d="M149.7,275.5L153.8,273.6L149.7,272.9L145.6,274.7Z" fill="#0cfc3c"/>
<path d="M158.0,274.2L162.1,272.2L158.0,271.7L153.8,273.6Z" fill="#0cfa2a"/>
<path d="M166.3,272.6L170.4,270.5L166.3,270.2L162.1,272.2Z" fill="#0cf814"/>
<path d="M174.6,270.7L178.7,268.5L174.6,268.5L170.4,270.5Z" fill="#1df60c"/>
<path d="M182.9,268.4L187.0,266.2L182.9,266.4L178.7,268.5Z" fill="#3bf40c"/>
<path d="M54.6,271.1L58.8,270.2L54.6,267.1L50.4,267.9Z" fill="#37f20b"/>
<path d="M62.9,273.1L67.1,272.2L62.9,269.3L58.8,270.2Z" fill="#19f40c"/>
<path d="M71.2,274.9L75.4,273.9L71.2,271.2L67.1,272.2Z" fill="#0cf617"/>
<path d="M87.8,277.6L91.9,276.3L87.8,274.1L83.7,275.2Z" fill="#0cfa3f"/>
<path d="M96.1,278.4L100.2,277.1L96.1,275.1L91.9,276.3Z" fill="#0cfb4c"/>
<path d="M104.3,279.0L108.5,277.6L104.3,275.7L100.2,277.1Z" fill="#0cfd56"/>
<path d="M112.6,279.3L116.7,277.8L112.6,276.1L108.5,277.6Z" fill="#0cfe5b"/>
<path d="M120.8,279.2L125.0,277.6L120.8,276.2L116.7,277.8Z" fill="#0cfe5c"/>
<path d="M129.1,278.9L133.2,277.2L129.1,276.0L125.0,277.6Z" fill="#0cfe58"/>
<path d="M137.3,278.3L141.4,276.5L137.3,275.5L133.2,277.2Z" fill="#0cfd4f"/>
<path d="M145.6,277.4L149.7,275.5L145.6,274.7L141.4,276.5Z" fill="#0cfc43"/>
<path d="M162.1,274.6L166.3,272.6L162.1,272.2L158.0,274.2Z" fill="#0cf91d"/>
<path d="M170.4,272.8L174.6,270.7L170.4,270.5L166.3,272.6Z" fill="#13f70c"/>
<path d="M178.7,270.6L182.9,268.4L178.7,268.5L174.6,270.7Z" fill="#30f50c"/>
<path d="M79.5,276.4L83.7,275.2L79.5,272.8L75.4,273.9Z" fill="#0cf82d"/>
<path d="M153.8,276.1L158.0,274.2L153.8,273.6L149.7,275.5Z" fill="#0cfa32"/>
<path d="M67.1,276.0L71.2,274.9L67.1,272.2L62.9,273.1Z" fill="#0cf614"/>
<path d="M91.9,279.8L96.1,278.4L91.9,276.3L87.8,277.6Z" fill="#0cfb4c"/>
<path d="M100.2,280.4L104.3,279.0L100.2,277.1L96.1,278.4Z" fill="#0cfc57"/>
<path d="M116.7,280.8L120.8,279.2L116.7,277.8L112.6,279.3Z" fill="#0cfe5f"/>
<path d="M133.2,280.1L137.3,278.3L133.2,277.2L129.1,278.9Z" fill="#0cfd55"/>
<path d="M141.4,279.2L145.6,277.4L141.4,276.5L137.3,278.3Z" fill="#0cfc4a"/>
<path d="M166.3,274.9L170.4,272.8L166.3,272.6L162.1,274.6Z" fill="#0cf70e"/>
<path d="M58.8,274.1L62.9,273.1L58.8,270.2L54.6,271.1Z" fill="#1ef40c"/>
<path d="M75.4,277.5L79.5,276.4L75.4,273.9L71.2,274.9Z" fill="#0cf82a"/>
<path d="M83.7,278.8L87.8,277.6L83.7,275.2L79.5,276.4Z" fill="#0cf93d"/>
<path d="M108.5,280.8L112.6,279.3L108.5,277.6L104.3,279.0Z" fill="#0cfd5d"/>
<path d="M124.9,280.6L129.1,278.9L125.0,277.6L120.8,279.2Z" fill="#0cfe5c"/>
<path d="M149.7,278.1L153.8,276.1L149.7,275.5L145.6,277.4Z" fill="#0cfb3a"/>
<path d="M158.0,276.6L162.1,274.6L158.0,274.2L153.8,276.1Z" fill="#0cf926"/>
<path d="M174.6,272.8L178.7,270.6L174.6,270.7L170.4,272.8Z" fill="#25f50c"/>
<path d="M63.0,277.0L67.1,276.0L62.9,273.1L58.8,274.1Z" fill="#0cf510"/>
<path d="M79.5,280.0L83.7,278.8L79.5,276.4L75.4,277.5Z" fill="#0cf93c"/>
<path d="M87.8,281.1L91.9,279.8L87.8,277.6L83.7,278.8Z" fill="#0cfb4c"/>
<path d="M96.1,281.8L100.2,280.4L96.1,278.4L91.9,279.8Z" fill="#0cfc57"/>
<path d="M104.3,282.3L108.5,280.8L104.3,279.0L100.2,280.4Z" fill="#0cfd5f"/>
<path d="M112.6,282.4L116.7,280.8L112.6,279.3L108.5,280.8Z" fill="#0cfe62"/>
<path d="M120.8,282.3L124.9,280.6L120.8,279.2L116.7,280.8Z" fill="#0cfe61"/>
<path d="M129.1,281.8L133.2,280.1L129.1,278.9L124.9,280.6Z" fill="#0cfd5b"/>
<path d="M137.3,281.1L141.4,279.2L137.3,278.3L133.2,280.1Z" fill="#0cfd50"/>
<path d="M145.6,280.0L149.7,278.1L145.6,277.4L141.4,279.2Z" fill="#0cfb42"/>
<path d="M153.8,278.6L158.0,276.6L153.8,276.1L149.7,278.1Z" fill="#0cfa2f"/>
<path d="M170.4,275.0L174.6,272.8L170.4,272.8L166.3,274.9Z" fill="#1af60c"/>
<path d="M71.3,278.6L75.4,277.5L71.2,274.9L67.1,276.0Z" fill="#0cf728"/>
<path d="M162.1,277.0L166.3,274.9L162.1,274.6L158.0,276.6Z" fill="#0cf818"/>
<path d="M83.7,282.3L87.8,281.1L83.7,278.8L79.5,280.0Z" fill="#0cfa4b"/>
<path d="M91.9,283.2L96.1,281.8L91.9,279.8L87.8,281.1Z" fill="#0cfc58"/>
<path d="M108.4,284.0L112.6,282.4L108.5,280.8L104.3,282.3Z" fill="#0cfe65"/>
<path d="M124.9,283.6L129.1,281.8L124.9,280.6L120.8,282.3Z" fill="#0cfe60"/>
<path d="M141.4,281.9L145.6,280.0L141.4,279.2L137.3,281.1Z" fill="#0cfc49"/>
<path d="M149.7,280.6L153.8,278.6L149.7,278.1L145.6,280.0Z" fill="#0cfa37"/>
<path d="M67.1,279.7L71.3,278.6L67.1,276.0L63.0,277.0Z" fill="#0cf624"/>
<path d="M75.4,281.2L79.5,280.0L75.4,277.5L71.3,278.6Z" fill="#0cf83a"/>
<path d="M100.2,283.7L104.3,282.3L100.2,280.4L96.1,281.8Z" fill="#0cfd60"/>
<path d="M116.7,283.9L120.8,282.3L116.7,280.8L112.6,282.4Z" fill="#0cfe64"/>
<path d="M133.2,282.9L137.3,281.1L133.2,280.1L129.1,281.8Z" fill="#0cfd57"/>
<path d="M158.0,279.0L162.1,277.0L158.0,276.6L153.8,278.6Z" fill="#0cf822"/>
<path d="M166.3,277.1L170.4,275.0L166.3,274.9L162.1,277.0Z" fill="#0ff60c"/>
<path d="M71.3,282.4L75.4,281.2L71.3,278.6L67.1,279.7Z" fill="#0cf837"/>
<path d="M79.6,283.6L83.7,282.3L79.5,280.0L75.4,281.2Z" fill="#0cfa4a"/>
<path d="M87.8,284.6L91.9,283.2L87.8,281.1L83.7,282.3Z" fill="#0cfb58"/>
<path d="M96.1,285.2L100.2,283.7L96.1,281.8L91.9,283.2Z" fill="#0cfd62"/>
<path d="M104.3,285.5L108.4,284.0L104.3,282.3L100.2,283.7Z" fill="#0cfd67"/>
<path d="M112.6,285.6L116.7,283.9L112.6,282.4L108.4,284.0Z" fill="#0cfe68"/>
<path d="M120.8,285.3L124.9,283.6L120.8,282.3L116.7,283.9Z" fill="#0cfe65"/>
<path d="M129.1,284.7L133.2,282.9L129.1,281.8L124.9,283.6Z" fill="#0cfd5d"/>
<path d="M137.3,283.8L141.4,281.9L137.3,281.1L133.2,282.9Z" fill="#0cfc50"/>
<path d="M145.6,282.6L149.7,280.6L145.6,280.0L141.4,281.9Z" fill="#0cfb40"/>
<path d="M153.8,281.1L158.0,279.0L153.8,278.6L149.7,280.6Z" fill="#0cf92b"/>
<path d="M162.1,279.3L166.3,277.1L162.1,277.0L158.0,279.0Z" fill="#0cf712"/>
<path d="M75.4,284.9L79.6,283.6L75.4,281.2L71.3,282.4Z" fill="#0cf948"/>
<path d="M83.7,285.9L87.8,284.6L83.7,282.3L79.6,283.6Z" fill="#0cfb57"/>
<path d="M92.0,286.6L96.1,285.2L91.9,283.2L87.8,284.6Z" fill="#0cfc62"/>
<path d="M100.2,287.1L104.3,285.5L100.2,283.7L96.1,285.2Z" fill="#0cfd69"/>
<path d="M116.7,287.0L120.8,285.3L116.7,283.9L112.6,285.6Z" fill="#0cfe69"/>
<path d="M133.2,285.7L137.3,283.8L133.2,282.9L129.1,284.7Z" fill="#0cfc57"/>
<path d="M141.4,284.6L145.6,282.6L141.4,281.9L137.3,283.8Z" fill="#0cfb48"/>
<path d="M149.7,283.2L153.8,281.1L149.7,280.6L145.6,282.6Z" fill="#0cf934"/>
<path d="M158.0,281.4L162.1,279.3L158.0,279.0L153.8,281.1Z" fill="#0cf71d"/>
<path d="M108.4,287.2L112.6,285.6L108.4,284.0L104.3,285.5Z" fill="#0cfe6b"/>
<path d="M124.9,286.5L129.1,284.7L124.9,283.6L120.8,285.3Z" fill="#0cfd62"/>
<path d="M96.1,288.6L100.2,287.1L96.1,285.2L92.0,286.6Z" fill="#0cfd6b"/>
<path d="M137.3,286.5L141.4,284.6L137.3,283.8L133.2,285.7Z" fill="#0cfb50"/>
<path d="M79.6,287.2L83.7,285.9L79.6,283.6L75.4,284.9Z" fill="#0cfa57"/>
<path d="M87.8,288.1L92.0,286.6L87.8,284.6L83.7,285.9Z" fill="#0cfc63"/>
<path d="M112.6,288.7L116.7,287.0L112.6,285.6L108.4,287.2Z" fill="#0cfe6d"/>
<path d="M120.8,288.3L124.9,286.5L120.8,285.3L116.7,287.0Z" fill="#0cfd68"/>
<path d="M145.6,285.2L149.7,283.2L145.6,282.6L141.4,284.6Z" fill="#0cfa3d"/>
<path d="M153.8,283.6L158.0,281.4L153.8,281.1L149.7,283.2Z" fill="#0cf826"/>
<path d="M104.3,288.8L108.4,287.2L104.3,285.5L100.2,287.1Z" fill="#0cfe6f"/>
<path d="M129.1,287.6L133.2,285.7L129.1,284.7L124.9,286.5Z" fill="#0cfd5e"/>
<path d="M92.0,290.1L96.1,288.6L92.0,286.6L87.8,288.1Z" fill="#0cfd6d"/>
<path d="M141.4,287.2L145.6,285.2L141.4,284.6L137.3,286.5Z" fill="#0cfa46"/>
<path d="M83.7,289.5L87.8,288.1L83.7,285.9L79.6,287.2Z" fill="#0cfb63"/>
<path d="M100.2,290.4L104.3,288.8L100.2,287.1L96.1,288.6Z" fill="#0cfe71"/>
<path d="M108.4,290.4L112.6,288.7L108.4,287.2L104.3,288.8Z" fill="#0cfe71"/>
<path d="M116.7,290.0L120.8,288.3L116.7,287.0L112.6,288.7Z" fill="#0cfe6d"/>
<path d="M124.9,289.4L129.1,287.6L124.9,286.5L120.8,288.3Z" fill="#0cfd64"/>
<path d="M133.2,288.5L137.3,286.5L133.2,285.7L129.1,287.6Z" fill="#0cfc57"/>
<path d="M149.7,285.7L153.8,283.6L149.7,283.2L145.6,285.2Z" fill="#0cf930"/>
<path d="M87.8,291.6L92.0,290.1L87.8,288.1L83.7,289.5Z" fill="#0cfc6e"/>
<path d="M104.3,292.0L108.4,290.4L104.3,288.8L100.2,290.4Z" fill="#0cfe75"/>
<path d="M112.6,291.8L116.7,290.0L112.6,288.7L108.4,290.4Z" fill="#0cfe72"/>
<path d="M120.8,291.3L124.9,289.4L120.8,288.3L116.7,290.0Z" fill="#0cfd6a"/>
<path d="M129.1,290.4L133.2,288.5L129.1,287.6L124.9,289.4Z" fill="#0cfc5e"/>
<path d="M145.6,287.8L149.7,285.7L145.6,285.2L141.4,287.2Z" fill="#0cf93a"/>
<path d="M96.1,292.0L100.2,290.4L96.1,288.6L92.0,290.1Z" fill="#0cfd74"/>
<path d="M137.3,289.3L141.4,287.2L137.3,286.5L133.2,288.5Z" fill="#0cfb4e"/>
<path d="M100.2,293.7L104.3,292.0L100.2,290.4L96.1,292.0Z" fill="#0cfe79"/>
<path d="M108.4,293.5L112.6,291.8L108.4,290.4L104.3,292.0Z" fill="#0cfe77"/>
<path d="M116.7,293.1L120.8,291.3L116.7,290.0L112.6,291.8Z" fill="#0cfd70"/>
<path d="M124.9,292.3L129.1,290.4L124.9,289.4L120.8,291.3Z" fill="#0cfc65"/>
<path d="M133.2,291.3L137.3,289.3L133.2,288.5L129.1,290.4Z" fill="#0cfb56"/>
<path d="M92.0,293.5L96.1,292.0L92.0,290.1L87.8,291.6Z" fill="#0cfd76"/>
<path d="M141.4,289.9L145.6,287.8L141.4,287.2L137.3,289.3Z" fill="#0cf943"/>
<path d="M96.1,295.3L100.2,293.7L96.1,292.0L92.0,293.5Z" fill="#0cfe7c"/>
<path d="M104.3,295.3L108.4,293.5L104.3,292.0L100.2,293.7Z" fill="#0cfe7b"/>
<path d="M112.6,294.9L116.7,293.1L112.6,291.8L108.4,293.5Z" fill="#0cfd76"/>
<path d="M120.8,294.2L124.9,292.3L120.8,291.3L116.7,293.1Z" fill="#0cfd6c"/>
<path d="M129.1,293.3L133.2,291.3L129.1,290.4L124.9,292.3Z" fill="#0cfc5e"/>
<path d="M137.3,292.0L141.4,289.9L137.3,289.3L133.2,291.3Z" fill="#0cfa4c"/>
<path d="M100.2,297.0L104.3,295.3L100.2,293.7L96.1,295.3Z" fill="#0cfe7f"/>
<path d="M108.5,296.7L112.6,294.9L108.4,293.5L104.3,295.3Z" fill="#0cfe7b"/>
<path d="M116.7,296.1L120.8,294.2L116.7,293.1L112.6,294.9Z" fill="#0cfd73"/>
<path d="M124.9,295.2L129.1,293.3L124.9,292.3L120.8,294.2Z" fill="#0cfc66"/>
<path d="M133.2,294.0L137.3,292.0L133.2,291.3L129.1,293.3Z" fill="#0cfa55"/>
<path d="M104.3,298.5L108.5,296.7L104.3,295.3L100.2,297.0Z" fill="#0cfe80"/>
<path d="M112.6,298.0L116.7,296.1L112.6,294.9L108.5,296.7Z" fill="#0cfd79"/>
<path d="M120.8,297.2L124.9,295.2L120.8,294.2L116.7,296.1Z" fill="#0cfc6d"/>
<path d="M129.1,296.1L133.2,294.0L129.1,293.3L124.9,295.2Z" fill="#0cfb5d"/>
<path d="M108.5,299.9L112.6,298.0L108.5,296.7L104.3,298.5Z" fill="#0cfd7f"/>
<path d="M116.7,299.2L120.8,297.2L116.7,296.1L112.6,298.0Z" fill="#0cfd74"/>
<path d="M124.9,298.1L129.1,296.1L124.9,295.2L120.8,297.2Z" fill="#0cfb65"/>
<path d="M112.6,301.1L116.7,299.2L112.6,298.0L108.5,299.9Z" fill="#0cfd7b"/>
<path d="M120.8,300.2L124.9,298.1L120.8,297.2L116.7,299.2Z" fill="#0cfc6d"/>
<path d="M116.7,302.2L120.8,300.2L116.7,299.2L112.6,301.1Z" fill="#0cfc75"/>
</g>
<rect x="115.24" y="261.07" width="3" height="6" fill="#8a1010" stroke="#3a0606" stroke-width="0.5"/>
<g fill="none" stroke="#141414" stroke-width="0.72">
<path d="M251.8,220.0L345.5,200.5L438.8,220.0"/>
<path d="M252.6,237.0L345.5,215.9L438.0,237.0"/>
<path d="M253.4,254.0L345.5,231.3L437.2,254.0"/>
<path d="M254.2,271.0L345.5,246.7L436.5,271.0"/>
<path d="M255.0,288.0L345.5,262.1L435.7,288.0"/>
<path d="M255.8,305.0L345.5,277.5L434.9,305.0"/>
<path d="M251.8,220.0L257.0,331.2"/>
<path d="M275.2,215.1L278.2,298.1"/>
<path d="M298.6,210.2L300.6,291.2"/>
<path d="M322.1,205.4L323.1,284.4"/>
<path d="M345.5,200.5L345.5,301.2"/>
<path d="M368.8,205.4L367.9,284.4"/>
<path d="M392.1,210.2L390.2,291.2"/>
<path d="M415.4,215.1L412.6,298.1"/>
<path d="M438.8,220.0L433.8,331.2"/>
</g>
<circle cx="251.75" cy="220.00" r="0.75" fill="#111"/>
<text x="247.95" y="218.60" font-size="7" font-family="Liberation Sans, sans-serif" fill="#262626" text-anchor="end">600</text>
<circle cx="252.55" cy="237.00" r="0.75" fill="#111"/>
<text x="248.75" y="235.60" font-size="7" font-family="Liberation Sans, sans-serif" fill="#262626" text-anchor="end">500</text>
<circle cx="253.35" cy="254.00" r="0.75" fill="#111"/>
<text x="249.55" y="252.60" font-size="7" font-family="Liberation Sans, sans-serif" fill="#262626" text-anchor="end">400</text>
<circle cx="254.16" cy="271.00" r="0.75" fill="#111"/>
<text x="250.36" y="269.60" font-size="7" font-family="Liberation Sans, sans-serif" fill="#262626" text-anchor="end">300</text>
<circle cx="254.96" cy="288.00" r="0.75" fill="#111"/>
<text x="251.16" y="286.60" font-size="7" font-family="Liberation Sans, sans-serif" fill="#262626" text-anchor="end">200</text>
<circle cx="255.76" cy="305.00" r="0.75" fill="#111"/>
<text x="251.96" y="303.60" font-size="7" font-family="Liberation Sans, sans-serif" fill="#262626" text-anchor="end">100</text>
<path d="M257.0,331.2L345.5,301.2L433.8,331.2L345.5,371.3Z" fill="#555555" stroke="#222" stroke-width="0.7"/>
<g fill="none" stroke-width="1.45" stroke-linecap="round">
<path d="M284.1,322.1L282.6,323.2L281.5,324.1L280.3,324.9L279.1,325.8L277.3,327.1L276.1,327.9L274.8,328.7L272.9,330.0L271.6,330.8L270.3,331.6L268.3,332.8L266.9,333.6L264.9,334.8L264.9,334.8" stroke="#0ec8e4"/>
<path d="M307.0,314.3L306.2,315.2L305.4,316.1L304.5,317.1L303.5,318.1L302.5,319.1L301.4,320.1L300.3,321.1L299.3,322.0L298.2,322.9L297.1,323.8L296.0,324.7L294.4,325.9L293.1,326.9L291.9,327.8L290.6,328.6L288.7,329.9L287.5,330.7L286.0,331.7L284.2,332.8L282.8,333.6L280.7,334.8L279.3,335.6L277.2,336.8L275.7,337.6L273.5,338.7L273.5,338.7" stroke="#0ee4c7"/>
<path d="M423.0,336.1L424.1,335.0L425.3,334.0L426.4,332.9L427.6,331.9L429.4,330.5L430.0,330.0" stroke="#0ee48e"/>
<path d="M327.3,307.4L327.0,308.2L326.5,309.3L326.0,310.3L325.6,311.1L325.2,311.9L324.6,313.0L324.0,314.0L323.3,315.1L322.6,316.0L322.0,316.9L321.3,317.8L320.5,318.7L319.7,319.7L318.8,320.6L317.8,321.7L316.7,322.7L315.5,323.8L314.4,324.8L313.3,325.7L312.2,326.6L311.0,327.5L309.3,328.8L308.0,329.7L306.7,330.6L304.8,331.8L303.5,332.7L302.0,333.5L300.0,334.7L298.6,335.5L296.5,336.7L294.7,337.7L292.7,338.7L290.5,339.8L288.9,340.6L286.6,341.7L284.2,342.8L283.4,343.2" stroke="#0ee48e"/>
<path d="M392.2,350.1L392.3,349.3L392.5,347.9L392.8,346.9L393.0,345.9L393.5,344.6L393.9,343.4L394.3,342.5L394.8,341.5L395.4,340.3L396.2,339.1L397.0,338.0L397.8,336.9L398.7,335.8L399.7,334.7L400.8,333.7L401.9,332.7L403.4,331.4L404.9,330.3L406.2,329.4L408.2,328.0L409.6,327.1L411.8,325.8L413.3,325.0L414.0,324.5" stroke="#0ee456"/>
<path d="M345.6,301.3L345.8,302.4L345.9,303.2L346.0,304.1L346.1,305.1L346.2,305.9L346.2,307.0L346.2,307.7L346.2,308.9L346.2,309.6L346.2,310.7L346.1,311.5L346.0,312.6L345.8,313.5L345.6,314.4L345.4,315.5L345.1,316.4L344.8,317.3L344.4,318.4L343.9,319.4L343.5,320.2L342.9,321.2L342.2,322.3L341.5,323.3L340.7,324.3L339.8,325.3L338.8,326.3L337.8,327.3L336.7,328.2L335.3,329.4L333.8,330.5L332.5,331.4L330.8,332.5L329.1,333.5L327.4,334.5L325.5,335.6L323.2,336.7L321.7,337.5L319.3,338.7L316.9,339.8L314.4,340.9L312.0,341.9L310.2,342.7L307.6,343.7L304.9,344.8L302.3,345.8L299.6,346.8L296.9,347.8L295.1,348.5" stroke="#0ee456"/>
<path d="M367.1,361.5L366.1,360.4L365.0,359.4L363.1,357.9L361.8,356.9L360.2,355.9L358.2,354.7L355.6,353.6L352.6,352.6L350.3,352.1L347.8,351.7L344.9,351.4L342.2,351.3L339.9,351.3L337.2,351.4L334.2,351.6L331.3,351.8L328.8,352.1L326.0,352.5L323.5,352.9L321.0,353.3L318.6,353.8L316.2,354.2L313.1,354.8L310.3,355.4L310.3,355.4" stroke="#0ee41d"/>
</g>
<circle cx="345.50" cy="371.30" r="0.75" fill="#111"/>
<text x="351.50" y="377.60" font-size="7" font-family="Liberation Sans, sans-serif" fill="#262626" text-anchor="middle">4</text>
<circle cx="367.56" cy="361.29" r="0.75" fill="#111"/>
<text x="373.56" y="367.59" font-size="7" font-family="Liberation Sans, sans-serif" fill="#262626" text-anchor="middle">5</text>
<circle cx="389.62" cy="351.27" r="0.75" fill="#111"/>
<text x="395.62" y="357.57" font-size="7" font-family="Liberation Sans, sans-serif" fill="#262626" text-anchor="middle">6</text>
<circle cx="411.69" cy="341.26" r="0.75" fill="#111"/>
<text x="417.69" y="347.56" font-size="7" font-family="Liberation Sans, sans-serif" fill="#262626" text-anchor="middle">7</text>
<circle cx="433.75" cy="331.25" r="0.75" fill="#111"/>
<text x="439.75" y="337.55" font-size="7" font-family="Liberation Sans, sans-serif" fill="#262626" text-anchor="middle">8</text>
<circle cx="345.50" cy="371.30" r="0.75" fill="#111"/>
<text x="338.50" y="377.80" font-size="7" font-family="Liberation Sans, sans-serif" fill="#262626" text-anchor="middle">10</text>
<circle cx="323.38" cy="361.29" r="0.75" fill="#111"/>
<text x="316.38" y="367.79" font-size="7" font-family="Liberation Sans, sans-serif" fill="#262626" text-anchor="middle">15</text>
<circle cx="301.25" cy="351.27" r="0.75" fill="#111"/>
<text x="294.25" y="357.77" font-size="7" font-family="Liberation Sans, sans-serif" fill="#262626" text-anchor="middle">20</text>
<circle cx="279.12" cy="341.26" r="0.75" fill="#111"/>
<text x="272.12" y="347.76" font-size="7" font-family="Liberation Sans, sans-serif" fill="#262626" text-anchor="middle">25</text>
<circle cx="257.00" cy="331.25" r="0.75" fill="#111"/>
<text x="250.00" y="337.75" font-size="7" font-family="Liberation Sans, sans-serif" fill="#262626" text-anchor="middle">30</text>
<text transform="translate(405.3,365.8) rotate(-25.5)" font-size="8.5" font-weight="bold" font-family="Liberation Serif, serif" fill="#222" text-anchor="middle">A: Total Lipid (%w/v)</text>
<text transform="translate(286,369.5) rotate(25)" font-size="8.2" font-weight="bold" font-family="Liberation Serif, serif" fill="#222" text-anchor="middle">C: Sonication Time min)</text>
<g stroke="#08240c" stroke-width="0.5" stroke-linejoin="round">
<path d="M345.5,246.6L349.6,244.8L345.5,244.4L341.3,246.3Z" fill="#0cf75c"/>
<path d="M341.3,248.5L345.5,246.6L341.3,246.3L337.2,248.2Z" fill="#0cf769"/>
<path d="M349.6,247.1L353.8,245.3L349.6,244.8L345.5,246.6Z" fill="#0cf850"/>
<path d="M337.2,250.3L341.3,248.5L337.2,248.2L333.0,250.0Z" fill="#0cf776"/>
<path d="M345.5,248.9L349.6,247.1L345.5,246.6L341.3,248.5Z" fill="#0cf85d"/>
<path d="M353.8,247.6L357.9,245.9L353.8,245.3L349.6,247.1Z" fill="#0cf946"/>
<path d="M333.0,252.2L337.2,250.3L333.0,250.0L328.9,251.9Z" fill="#0cf683"/>
<path d="M341.3,250.7L345.5,248.9L341.3,248.5L337.2,250.3Z" fill="#0cf869"/>
<path d="M349.6,249.4L353.8,247.6L349.6,247.1L345.5,248.9Z" fill="#0cf952"/>
<path d="M357.9,248.3L362.1,246.5L357.9,245.9L353.8,247.6Z" fill="#0cfa3e"/>
<path d="M337.2,252.5L341.3,250.7L337.2,250.3L333.0,252.2Z" fill="#0cf875"/>
<path d="M353.8,250.0L357.9,248.3L353.8,247.6L349.6,249.4Z" fill="#0cfa48"/>
<path d="M328.9,254.0L333.0,252.2L328.9,251.9L324.8,253.8Z" fill="#0cf68f"/>
<path d="M345.5,251.2L349.6,249.4L345.5,248.9L341.3,250.7Z" fill="#0cf95d"/>
<path d="M362.1,249.0L366.2,247.2L362.1,246.5L357.9,248.3Z" fill="#0cfb36"/>
<path d="M324.7,255.8L328.9,254.0L324.8,253.8L320.6,255.6Z" fill="#0cf69c"/>
<path d="M333.0,254.3L337.2,252.5L333.0,252.2L328.9,254.0Z" fill="#0cf781"/>
<path d="M341.3,252.9L345.5,251.2L341.3,250.7L337.2,252.5Z" fill="#0cf968"/>
<path d="M349.6,251.7L353.8,250.0L349.6,249.4L345.5,251.2Z" fill="#0cfa53"/>
<path d="M357.9,250.7L362.1,249.0L357.9,248.3L353.8,250.0Z" fill="#0cfb40"/>
<path d="M366.2,249.7L370.4,248.1L366.2,247.2L362.1,249.0Z" fill="#0cfc31"/>
<path d="M320.6,257.6L324.7,255.8L320.6,255.6L316.5,257.5Z" fill="#0cf5a8"/>
<path d="M328.9,256.1L333.0,254.3L328.9,254.0L324.7,255.8Z" fill="#0cf78c"/>
<path d="M345.4,253.4L349.6,251.7L345.5,251.2L341.3,252.9Z" fill="#0cfa5d"/>
<path d="M362.0,251.4L366.2,249.7L362.1,249.0L357.9,250.7Z" fill="#0cfc3a"/>
<path d="M370.4,250.6L374.5,249.0L370.4,248.1L366.2,249.7Z" fill="#0cfc2c"/>
<path d="M337.2,254.7L341.3,252.9L337.2,252.5L333.0,254.3Z" fill="#0cf873"/>
<path d="M353.7,252.3L357.9,250.7L353.8,250.0L349.6,251.7Z" fill="#0cfb4a"/>
<path d="M324.7,257.8L328.9,256.1L324.7,255.8L320.6,257.6Z" fill="#0cf697"/>
<path d="M366.2,252.2L370.4,250.6L366.2,249.7L362.0,251.4Z" fill="#0cfc34"/>
<path d="M316.5,259.4L320.6,257.6L316.5,257.5L312.4,259.3Z" fill="#0cf5b3"/>
<path d="M333.0,256.4L337.2,254.7L333.0,254.3L328.9,256.1Z" fill="#0cf87e"/>
<path d="M341.3,255.2L345.4,253.4L341.3,252.9L337.2,254.7Z" fill="#0cf967"/>
<path d="M349.6,254.0L353.7,252.3L349.6,251.7L345.4,253.4Z" fill="#0cfa53"/>
<path d="M357.9,253.1L362.0,251.4L357.9,250.7L353.7,252.3Z" fill="#0cfb42"/>
<path d="M374.5,251.6L378.7,249.9L374.5,249.0L370.4,250.6Z" fill="#0cfd2a"/>
<path d="M312.3,261.2L316.5,259.4L312.4,259.3L308.2,261.1Z" fill="#0cf5be"/>
<path d="M320.6,259.6L324.7,257.8L320.6,257.6L316.5,259.4Z" fill="#0cf6a2"/>
<path d="M328.9,258.2L333.0,256.4L328.9,256.1L324.7,257.8Z" fill="#0cf888"/>
<path d="M337.1,256.8L341.3,255.2L337.2,254.7L333.0,256.4Z" fill="#0cf971"/>
<path d="M345.4,255.7L349.6,254.0L345.4,253.4L341.3,255.2Z" fill="#0cfa5c"/>
<path d="M353.7,254.7L357.9,253.1L353.7,252.3L349.6,254.0Z" fill="#0cfb4b"/>
<path d="M362.0,253.8L366.2,252.2L362.0,251.4L357.9,253.1Z" fill="#0cfc3c"/>
<path d="M370.3,253.1L374.5,251.6L370.4,250.6L366.2,252.2Z" fill="#0cfd31"/>
<path d="M378.7,252.6L382.8,251.0L378.7,249.9L374.5,251.6Z" fill="#0cfd28"/>
<path d="M308.2,263.0L312.3,261.2L308.2,261.1L304.1,262.9Z" fill="#0cf4c9"/>
<path d="M316.5,261.3L320.6,259.6L316.5,259.4L312.3,261.2Z" fill="#0cf6ac"/>
<path d="M324.7,259.9L328.9,258.2L324.7,257.8L320.6,259.6Z" fill="#0cf792"/>
<path d="M333.0,258.5L337.1,256.8L333.0,256.4L328.9,258.2Z" fill="#0cf97a"/>
<path d="M341.3,257.4L345.4,255.7L341.3,255.2L337.1,256.8Z" fill="#0cfa65"/>
<path d="M349.6,256.3L353.7,254.7L349.6,254.0L345.4,255.7Z" fill="#0cfb53"/>
<path d="M357.9,255.4L362.0,253.8L357.9,253.1L353.7,254.7Z" fill="#0cfc44"/>
<path d="M366.2,254.7L370.3,253.1L366.2,252.2L362.0,253.8Z" fill="#0cfd38"/>
<path d="M374.5,254.1L378.7,252.6L374.5,251.6L370.3,253.1Z" fill="#0cfd2f"/>
<path d="M382.8,253.7L387.0,252.2L382.8,251.0L378.7,252.6Z" fill="#0cfe29"/>
<path d="M304.1,264.7L308.2,263.0L304.1,262.9L300.0,264.8Z" fill="#0cf4d4"/>
<path d="M312.3,263.1L316.5,261.3L312.3,261.2L308.2,263.0Z" fill="#0cf5b6"/>
<path d="M320.6,261.6L324.7,259.9L320.6,259.6L316.5,261.3Z" fill="#0cf79b"/>
<path d="M328.8,260.2L333.0,258.5L328.9,258.2L324.7,259.9Z" fill="#0cf883"/>
<path d="M337.1,259.0L341.3,257.4L337.1,256.8L333.0,258.5Z" fill="#0cfa6d"/>
<path d="M345.4,257.9L349.6,256.3L345.4,255.7L341.3,257.4Z" fill="#0cfb5b"/>
<path d="M353.7,257.0L357.9,255.4L353.7,254.7L349.6,256.3Z" fill="#0cfc4b"/>
<path d="M362.0,256.3L366.2,254.7L362.0,253.8L357.9,255.4Z" fill="#0cfd3e"/>
<path d="M370.3,255.7L374.5,254.1L370.3,253.1L366.2,254.7Z" fill="#0cfd34"/>
<path d="M378.6,255.2L382.8,253.7L378.7,252.6L374.5,254.1Z" fill="#0cfe2e"/>
<path d="M386.9,254.9L391.1,253.4L387.0,252.2L382.8,253.7Z" fill="#0cfe2a"/>
<path d="M299.9,266.5L304.1,264.7L300.0,264.8L295.9,266.6Z" fill="#0bf3de"/>
<path d="M308.2,264.8L312.3,263.1L308.2,263.0L304.1,264.7Z" fill="#0cf5c0"/>
<path d="M316.4,263.3L320.6,261.6L316.5,261.3L312.3,263.1Z" fill="#0cf6a4"/>
<path d="M324.7,261.9L328.8,260.2L324.7,259.9L320.6,261.6Z" fill="#0cf88b"/>
<path d="M333.0,260.6L337.1,259.0L333.0,258.5L328.8,260.2Z" fill="#0cf975"/>
<path d="M341.3,259.6L345.4,257.9L341.3,257.4L337.1,259.0Z" fill="#0cfa62"/>
<path d="M349.6,258.6L353.7,257.0L349.6,256.3L345.4,257.9Z" fill="#0cfc52"/>
<path d="M357.9,257.8L362.0,256.3L357.9,255.4L353.7,257.0Z" fill="#0cfd44"/>
<path d="M366.2,257.2L370.3,255.7L366.2,254.7L362.0,256.3Z" fill="#0cfd3a"/>
<path d="M374.5,256.7L378.6,255.2L374.5,254.1L370.3,255.7Z" fill="#0cfe33"/>
<path d="M382.8,256.4L386.9,254.9L382.8,253.7L378.6,255.2Z" fill="#0cfe2f"/>
<path d="M391.1,256.2L395.2,254.8L391.1,253.4L386.9,254.9Z" fill="#0cfe2e"/>
<path d="M295.8,268.2L299.9,266.5L295.9,266.6L291.7,268.3Z" fill="#0bf3e8"/>
<path d="M304.1,266.5L308.2,264.8L304.1,264.7L299.9,266.5Z" fill="#0cf4c9"/>
<path d="M312.3,265.0L316.4,263.3L312.3,263.1L308.2,264.8Z" fill="#0cf6ad"/>
<path d="M320.6,263.5L324.7,261.9L320.6,261.6L316.4,263.3Z" fill="#0cf794"/>
<path d="M328.8,262.3L333.0,260.6L328.8,260.2L324.7,261.9Z" fill="#0cf97d"/>
<path d="M337.1,261.1L341.3,259.6L337.1,259.0L333.0,260.6Z" fill="#0cfa69"/>
<path d="M345.4,260.2L349.6,258.6L345.4,257.9L341.3,259.6Z" fill="#0cfb58"/>
<path d="M353.7,259.4L357.9,257.8L353.7,257.0L349.6,258.6Z" fill="#0cfc4a"/>
<path d="M362.0,258.7L366.2,257.2L362.0,256.3L357.9,257.8Z" fill="#0cfd3f"/>
<path d="M370.3,258.2L374.5,256.7L370.3,255.7L366.2,257.2Z" fill="#0cfe37"/>
<path d="M378.6,257.9L382.8,256.4L378.6,255.2L374.5,256.7Z" fill="#0cfe33"/>
<path d="M386.9,257.7L391.1,256.2L386.9,254.9L382.8,256.4Z" fill="#0cfe31"/>
<path d="M395.2,257.6L399.4,256.2L395.2,254.8L391.1,256.2Z" fill="#0cfd32"/>
<path d="M291.7,270.0L295.8,268.2L291.7,268.3L287.6,270.1Z" fill="#0bf2f2"/>
<path d="M299.9,268.2L304.1,266.5L299.9,266.5L295.8,268.2Z" fill="#0cf4d3"/>
<path d="M308.2,266.6L312.3,265.0L308.2,264.8L304.1,266.5Z" fill="#0cf5b6"/>
<path d="M316.4,265.2L320.6,263.5L316.4,263.3L312.3,265.0Z" fill="#0cf79c"/>
<path d="M333.0,262.7L337.1,261.1L333.0,260.6L328.8,262.3Z" fill="#0cfa70"/>
<path d="M341.3,261.7L345.4,260.2L341.3,259.6L337.1,261.1Z" fill="#0cfb5f"/>
<path d="M349.6,260.9L353.7,259.4L349.6,258.6L345.4,260.2Z" fill="#0cfc50"/>
<path d="M357.9,260.2L362.0,258.7L357.9,257.8L353.7,259.4Z" fill="#0cfd44"/>
<path d="M374.5,259.3L378.6,257.9L374.5,256.7L370.3,258.2Z" fill="#0cfe36"/>
<path d="M382.8,259.1L386.9,257.7L382.8,256.4L378.6,257.9Z" fill="#0cfe34"/>
<path d="M391.1,259.0L395.2,257.6L391.1,256.2L386.9,257.7Z" fill="#0cfe35"/>
<path d="M399.4,259.1L403.5,257.7L399.4,256.2L395.2,257.6Z" fill="#0cfd39"/>
<path d="M324.7,263.9L328.8,262.3L324.7,261.9L320.6,263.5Z" fill="#0cf885"/>
<path d="M366.2,259.7L370.3,258.2L366.2,257.2L362.0,258.7Z" fill="#0cfe3c"/>
<path d="M287.6,271.7L291.7,270.0L287.6,270.1L283.5,271.9Z" fill="#0be8f2"/>
<path d="M295.8,269.9L299.9,268.2L295.8,268.2L291.7,270.0Z" fill="#0bf3db"/>
<path d="M312.3,266.8L316.4,265.2L312.3,265.0L308.2,266.6Z" fill="#0cf6a4"/>
<path d="M337.1,263.3L341.3,261.7L337.1,261.1L333.0,262.7Z" fill="#0cfb65"/>
<path d="M353.7,261.7L357.9,260.2L353.7,259.4L349.6,260.9Z" fill="#0cfd49"/>
<path d="M378.6,260.5L382.8,259.1L378.6,257.9L374.5,259.3Z" fill="#0cfe37"/>
<path d="M395.2,260.5L399.4,259.1L395.2,257.6L391.1,259.0Z" fill="#0cfd3a"/>
<path d="M403.5,260.7L407.6,259.4L403.5,257.7L399.4,259.1Z" fill="#0cfd40"/>
<path d="M304.0,268.3L308.2,266.6L304.1,266.5L299.9,268.2Z" fill="#0cf5be"/>
<path d="M320.5,265.5L324.7,263.9L320.6,263.5L316.4,265.2Z" fill="#0cf88c"/>
<path d="M328.8,264.3L333.0,262.7L328.8,262.3L324.7,263.9Z" fill="#0cf977"/>
<path d="M345.4,262.4L349.6,260.9L345.4,260.2L341.3,261.7Z" fill="#0cfc55"/>
<path d="M362.0,261.1L366.2,259.7L362.0,258.7L357.9,260.2Z" fill="#0cfe40"/>
<path d="M370.3,260.7L374.5,259.3L370.3,258.2L366.2,259.7Z" fill="#0cfe3a"/>
<path d="M386.9,260.4L391.1,259.0L386.9,257.7L382.8,259.1Z" fill="#0cfe37"/>
<path d="M291.7,271.6L295.8,269.9L291.7,270.0L287.6,271.7Z" fill="#0bf3e4"/>
<path d="M399.3,262.0L403.5,260.7L399.4,259.1L395.2,260.5Z" fill="#0cfd41"/>
<path d="M283.5,273.4L287.6,271.7L283.5,271.9L279.4,273.6Z" fill="#0bdef1"/>
<path d="M299.9,269.9L304.0,268.3L299.9,268.2L295.8,269.9Z" fill="#0cf4c6"/>
<path d="M308.1,268.4L312.3,266.8L308.2,266.6L304.0,268.3Z" fill="#0cf6ab"/>
<path d="M316.4,267.1L320.5,265.5L316.4,265.2L312.3,266.8Z" fill="#0cf893"/>
<path d="M324.7,265.9L328.8,264.3L324.7,263.9L320.5,265.5Z" fill="#0cf97d"/>
<path d="M333.0,264.8L337.1,263.3L333.0,262.7L328.8,264.3Z" fill="#0cfa6a"/>
<path d="M341.3,263.9L345.4,262.4L341.3,261.7L337.1,263.3Z" fill="#0cfc5b"/>
<path d="M349.6,263.2L353.7,261.7L349.6,260.9L345.4,262.4Z" fill="#0cfd4e"/>
<path d="M357.9,262.6L362.0,261.1L357.9,260.2L353.7,261.7Z" fill="#0cfd44"/>
<path d="M366.2,262.2L370.3,260.7L366.2,259.7L362.0,261.1Z" fill="#0cfe3d"/>
<path d="M374.5,261.9L378.6,260.5L374.5,259.3L370.3,260.7Z" fill="#0cfe39"/>
<path d="M382.8,261.8L386.9,260.4L382.8,259.1L378.6,260.5Z" fill="#0cfe39"/>
<path d="M391.1,261.8L395.2,260.5L391.1,259.0L386.9,260.4Z" fill="#0cfe3b"/>
<path d="M407.6,262.4L411.8,261.1L407.6,259.4L403.5,260.7Z" fill="#0cfc49"/>
<path d="M279.4,275.1L283.5,273.4L279.4,273.6L275.3,275.4Z" fill="#0bd5f1"/>
<path d="M287.6,273.3L291.7,271.6L287.6,271.7L283.5,273.4Z" fill="#0bf2ec"/>
<path d="M295.8,271.6L299.9,269.9L295.8,269.9L291.7,271.6Z" fill="#0cf4ce"/>
<path d="M304.0,270.0L308.1,268.4L304.0,268.3L299.9,269.9Z" fill="#0cf6b2"/>
<path d="M312.3,268.6L316.4,267.1L312.3,266.8L308.1,268.4Z" fill="#0cf799"/>
<path d="M320.5,267.4L324.7,265.9L320.5,265.5L316.4,267.1Z" fill="#0cf983"/>
<path d="M328.8,266.3L333.0,264.8L328.8,264.3L324.7,265.9Z" fill="#0cfa70"/>
<path d="M345.4,264.6L349.6,263.2L345.4,262.4L341.3,263.9Z" fill="#0cfc52"/>
<path d="M362.0,263.6L366.2,262.2L362.0,261.1L357.9,262.6Z" fill="#0cfe40"/>
<path d="M370.3,263.3L374.5,261.9L370.3,260.7L366.2,262.2Z" fill="#0cfe3b"/>
<path d="M378.6,263.1L382.8,261.8L378.6,260.5L374.5,261.9Z" fill="#0cfe3a"/>
<path d="M386.9,263.2L391.1,261.8L386.9,260.4L382.8,261.8Z" fill="#0cfe3c"/>
<path d="M395.2,263.3L399.3,262.0L395.2,260.5L391.1,261.8Z" fill="#0cfd41"/>
<path d="M403.5,263.7L407.6,262.4L403.5,260.7L399.3,262.0Z" fill="#0cfc49"/>
<path d="M411.7,264.2L415.9,262.9L411.8,261.1L407.6,262.4Z" fill="#0cfb54"/>
<path d="M337.1,265.4L341.3,263.9L337.1,263.3L333.0,264.8Z" fill="#0cfb5f"/>
<path d="M353.7,264.0L357.9,262.6L353.7,261.7L349.6,263.2Z" fill="#0cfd47"/>
<path d="M275.2,276.8L279.4,275.1L275.3,275.4L271.2,277.1Z" fill="#0bcbf0"/>
<path d="M283.4,274.9L287.6,273.3L283.5,273.4L279.4,275.1Z" fill="#0bf0f2"/>
<path d="M299.9,271.6L304.0,270.0L299.9,269.9L295.8,271.6Z" fill="#0cf5b9"/>
<path d="M316.4,268.9L320.5,267.4L316.4,267.1L312.3,268.6Z" fill="#0cf889"/>
<path d="M324.7,267.8L328.8,266.3L324.7,265.9L320.5,267.4Z" fill="#0cfa75"/>
<path d="M366.2,264.6L370.3,263.3L366.2,262.2L362.0,263.6Z" fill="#0cfe3d"/>
<path d="M374.5,264.5L378.6,263.1L374.5,261.9L370.3,263.3Z" fill="#0cfe3b"/>
<path d="M391.0,264.6L395.2,263.3L391.1,261.8L386.9,263.2Z" fill="#0cfd41"/>
<path d="M407.6,265.4L411.7,264.2L407.6,262.4L403.5,263.7Z" fill="#0cfc53"/>
<path d="M415.9,266.0L420.0,264.8L415.9,262.9L411.7,264.2Z" fill="#0cfa60"/>
<path d="M291.6,273.2L295.8,271.6L291.7,271.6L287.6,273.3Z" fill="#0bf3d5"/>
<path d="M308.1,270.2L312.3,268.6L308.1,268.4L304.0,270.0Z" fill="#0cf79f"/>
<path d="M333.0,266.9L337.1,265.4L333.0,264.8L328.8,266.3Z" fill="#0cfb64"/>
<path d="M341.3,266.1L345.4,264.6L341.3,263.9L337.1,265.4Z" fill="#0cfc56"/>
<path d="M349.6,265.4L353.7,264.0L349.6,263.2L345.4,264.6Z" fill="#0cfd4b"/>
<path d="M357.9,265.0L362.0,263.6L357.9,262.6L353.7,264.0Z" fill="#0cfe42"/>
<path d="M382.8,264.5L386.9,263.2L382.8,261.8L378.6,263.1Z" fill="#0cfe3d"/>
<path d="M399.3,264.9L403.5,263.7L399.3,262.0L395.2,263.3Z" fill="#0cfd48"/>
<path d="M271.1,278.5L275.2,276.8L271.2,277.1L267.1,278.8Z" fill="#0bc2f0"/>
<path d="M279.3,276.6L283.4,274.9L279.4,275.1L275.2,276.8Z" fill="#0be7f1"/>
<path d="M320.5,269.3L324.7,267.8L320.5,267.4L316.4,268.9Z" fill="#0cf97a"/>
<path d="M370.3,265.8L374.5,264.5L370.3,263.3L366.2,264.6Z" fill="#0cfe3c"/>
<path d="M411.7,267.2L415.9,266.0L411.7,264.2L407.6,265.4Z" fill="#0cfb5e"/>
<path d="M420.0,268.0L424.1,266.8L420.0,264.8L415.9,266.0Z" fill="#0cfa6d"/>
<path d="M287.5,274.8L291.6,273.2L287.6,273.3L283.4,274.9Z" fill="#0bf3dc"/>
<path d="M295.7,273.2L299.9,271.6L295.8,271.6L291.6,273.2Z" fill="#0cf5bf"/>
<path d="M304.0,271.7L308.1,270.2L304.0,270.0L299.9,271.6Z" fill="#0cf6a5"/>
<path d="M312.3,270.4L316.4,268.9L312.3,268.6L308.1,270.2Z" fill="#0cf88e"/>
<path d="M328.8,268.3L333.0,266.9L328.8,266.3L324.7,267.8Z" fill="#0cfa68"/>
<path d="M337.1,267.5L341.3,266.1L337.1,265.4L333.0,266.9Z" fill="#0cfc59"/>
<path d="M345.4,266.8L349.6,265.4L345.4,264.6L341.3,266.1Z" fill="#0cfd4d"/>
<path d="M353.7,266.3L357.9,265.0L353.7,264.0L349.6,265.4Z" fill="#0cfe45"/>
<path d="M362.0,266.0L366.2,264.6L362.0,263.6L357.9,265.0Z" fill="#0cfe3f"/>
<path d="M378.6,265.8L382.8,264.5L378.6,263.1L374.5,264.5Z" fill="#0cfe3d"/>
<path d="M386.9,265.9L391.0,264.6L386.9,263.2L382.8,264.5Z" fill="#0cfe41"/>
<path d="M395.2,266.2L399.3,264.9L395.2,263.3L391.0,264.6Z" fill="#0cfd47"/>
<path d="M403.5,266.6L407.6,265.4L403.5,263.7L399.3,264.9Z" fill="#0cfc51"/>
<path d="M275.2,278.2L279.3,276.6L275.2,276.8L271.1,278.5Z" fill="#0bdff1"/>
<path d="M415.8,269.2L420.0,268.0L415.9,266.0L411.7,267.2Z" fill="#0cfa6a"/>
<path d="M267.0,280.2L271.1,278.5L267.1,278.8L263.0,280.6Z" fill="#0bb9f0"/>
<path d="M283.4,276.4L287.5,274.8L283.4,274.9L279.3,276.6Z" fill="#0bf2e3"/>
<path d="M291.6,274.8L295.7,273.2L291.6,273.2L287.5,274.8Z" fill="#0cf4c6"/>
<path d="M299.9,273.3L304.0,271.7L299.9,271.6L295.7,273.2Z" fill="#0cf6ab"/>
<path d="M308.1,272.0L312.3,270.4L308.1,270.2L304.0,271.7Z" fill="#0cf793"/>
<path d="M316.4,270.8L320.5,269.3L316.4,268.9L312.3,270.4Z" fill="#0cf97e"/>
<path d="M324.7,269.8L328.8,268.3L324.7,267.8L320.5,269.3Z" fill="#0cfa6c"/>
<path d="M333.0,268.9L337.1,267.5L333.0,266.9L328.8,268.3Z" fill="#0cfb5c"/>
<path d="M341.3,268.2L345.4,266.8L341.3,266.1L337.1,267.5Z" fill="#0cfc50"/>
<path d="M349.6,267.7L353.7,266.3L349.6,265.4L345.4,266.8Z" fill="#0cfd47"/>
<path d="M357.9,267.3L362.0,266.0L357.9,265.0L353.7,266.3Z" fill="#0cfe40"/>
<path d="M366.2,267.1L370.3,265.8L366.2,264.6L362.0,266.0Z" fill="#0cfe3d"/>
<path d="M374.5,267.0L378.6,265.8L374.5,264.5L370.3,265.8Z" fill="#0cfe3d"/>
<path d="M382.8,267.2L386.9,265.9L382.8,264.5L378.6,265.8Z" fill="#0cfe40"/>
<path d="M391.0,267.4L395.2,266.2L391.0,264.6L386.9,265.9Z" fill="#0cfd46"/>
<path d="M399.3,267.8L403.5,266.6L399.3,264.9L395.2,266.2Z" fill="#0cfc4f"/>
<path d="M407.6,268.4L411.7,267.2L407.6,265.4L403.5,266.6Z" fill="#0cfb5b"/>
<path d="M424.1,270.1L428.2,268.9L424.1,266.8L420.0,268.0Z" fill="#0cf97c"/>
<path d="M262.9,281.8L267.0,280.2L263.0,280.6L258.9,282.3Z" fill="#0bb1ef"/>
<path d="M271.1,279.8L275.2,278.2L271.1,278.5L267.0,280.2Z" fill="#0bd7f0"/>
<path d="M279.3,278.0L283.4,276.4L279.3,276.6L275.2,278.2Z" fill="#0bf2ea"/>
<path d="M287.5,276.3L291.6,274.8L287.5,274.8L283.4,276.4Z" fill="#0bf4cc"/>
<path d="M295.7,274.8L299.9,273.3L295.7,273.2L291.6,274.8Z" fill="#0cf5b0"/>
<path d="M304.0,273.4L308.1,272.0L304.0,271.7L299.9,273.3Z" fill="#0cf798"/>
<path d="M312.2,272.2L316.4,270.8L312.3,270.4L308.1,272.0Z" fill="#0cf882"/>
<path d="M320.5,271.2L324.7,269.8L320.5,269.3L316.4,270.8Z" fill="#0cfa6f"/>
<path d="M328.8,270.3L333.0,268.9L328.8,268.3L324.7,269.8Z" fill="#0cfb5f"/>
<path d="M337.1,269.6L341.3,268.2L337.1,267.5L333.0,268.9Z" fill="#0cfc52"/>
<path d="M345.4,269.0L349.6,267.7L345.4,266.8L341.3,268.2Z" fill="#0cfd48"/>
<path d="M353.7,268.6L357.9,267.3L353.7,266.3L349.6,267.7Z" fill="#0cfe41"/>
<path d="M362.0,268.4L366.2,267.1L362.0,266.0L357.9,267.3Z" fill="#0cfe3d"/>
<path d="M370.3,268.3L374.5,267.0L370.3,265.8L366.2,267.1Z" fill="#0cfe3d"/>
<path d="M378.6,268.4L382.8,267.2L378.6,265.8L374.5,267.0Z" fill="#0cfe3f"/>
<path d="M386.9,268.6L391.0,267.4L386.9,265.9L382.8,267.2Z" fill="#0cfe44"/>
<path d="M395.2,269.0L399.3,267.8L395.2,266.2L391.0,267.4Z" fill="#0cfd4d"/>
<path d="M403.4,269.6L407.6,268.4L403.5,266.6L399.3,267.8Z" fill="#0cfc58"/>
<path d="M411.7,270.3L415.8,269.2L411.7,267.2L407.6,268.4Z" fill="#0cfa67"/>
<path d="M419.9,271.2L424.1,270.1L420.0,268.0L415.8,269.2Z" fill="#0cf978"/>
<path d="M428.2,272.2L432.3,271.1L428.2,268.9L424.1,270.1Z" fill="#0cf88c"/>
<path d="M258.8,283.5L262.9,281.8L258.9,282.3L254.8,283.9Z" fill="#0ba9ef"/>
<path d="M267.0,281.4L271.1,279.8L267.0,280.2L262.9,281.8Z" fill="#0bcff0"/>
<path d="M275.1,279.6L279.3,278.0L275.2,278.2L271.1,279.8Z" fill="#0bf1f0"/>
<path d="M283.4,277.9L287.5,276.3L283.4,276.4L279.3,278.0Z" fill="#0bf3d1"/>
<path d="M291.6,276.3L295.7,274.8L291.6,274.8L287.5,276.3Z" fill="#0cf5b5"/>
<path d="M299.8,274.9L304.0,273.4L299.9,273.3L295.7,274.8Z" fill="#0cf69c"/>
<path d="M308.1,273.7L312.2,272.2L308.1,272.0L304.0,273.4Z" fill="#0cf886"/>
<path d="M316.4,272.6L320.5,271.2L316.4,270.8L312.2,272.2Z" fill="#0cf973"/>
<path d="M324.7,271.7L328.8,270.3L324.7,269.8L320.5,271.2Z" fill="#0cfa62"/>
<path d="M332.9,270.9L337.1,269.6L333.0,268.9L328.8,270.3Z" fill="#0cfc54"/>
<path d="M341.3,270.4L345.4,269.0L341.3,268.2L337.1,269.6Z" fill="#0cfd4a"/>
<path d="M349.6,269.9L353.7,268.6L349.6,267.7L345.4,269.0Z" fill="#0cfe42"/>
<path d="M357.9,269.7L362.0,268.4L357.9,267.3L353.7,268.6Z" fill="#0cfe3e"/>
<path d="M366.2,269.6L370.3,268.3L366.2,267.1L362.0,268.4Z" fill="#0cfe3c"/>
<path d="M374.5,269.6L378.6,268.4L374.5,267.0L370.3,268.3Z" fill="#0cfe3e"/>
<path d="M382.8,269.8L386.9,268.6L382.8,267.2L378.6,268.4Z" fill="#0cfe42"/>
<path d="M391.0,270.2L395.2,269.0L391.0,267.4L386.9,268.6Z" fill="#0cfd4a"/>
<path d="M399.3,270.8L403.4,269.6L399.3,267.8L395.2,269.0Z" fill="#0cfc55"/>
<path d="M407.6,271.5L411.7,270.3L407.6,268.4L403.4,269.6Z" fill="#0cfb63"/>
<path d="M415.8,272.3L419.9,271.2L415.8,269.2L411.7,270.3Z" fill="#0cfa74"/>
<path d="M424.0,273.3L428.2,272.2L424.1,270.1L419.9,271.2Z" fill="#0cf887"/>
<path d="M432.2,274.5L436.3,273.4L432.3,271.1L428.2,272.2Z" fill="#0cf79e"/>
<path d="M262.8,283.0L267.0,281.4L262.9,281.8L258.8,283.5Z" fill="#0bc8f0"/>
<path d="M271.0,281.1L275.1,279.6L271.1,279.8L267.0,281.4Z" fill="#0becf1"/>
<path d="M279.2,279.4L283.4,277.9L279.3,278.0L275.1,279.6Z" fill="#0bf2d7"/>
<path d="M295.7,276.4L299.8,274.9L295.7,274.8L291.6,276.3Z" fill="#0cf6a1"/>
<path d="M304.0,275.1L308.1,273.7L304.0,273.4L299.8,274.9Z" fill="#0cf78a"/>
<path d="M320.5,273.1L324.7,271.7L320.5,271.2L316.4,272.6Z" fill="#0cfa65"/>
<path d="M337.1,271.7L341.3,270.4L337.1,269.6L332.9,270.9Z" fill="#0cfc4b"/>
<path d="M345.4,271.2L349.6,269.9L345.4,269.0L341.3,270.4Z" fill="#0cfd43"/>
<path d="M353.7,270.9L357.9,269.7L353.7,268.6L349.6,269.9Z" fill="#0cfe3d"/>
<path d="M370.3,270.8L374.5,269.6L370.3,268.3L366.2,269.6Z" fill="#0cfe3c"/>
<path d="M386.9,271.4L391.0,270.2L386.9,268.6L382.8,269.8Z" fill="#0cfd47"/>
<path d="M395.2,271.9L399.3,270.8L395.2,269.0L391.0,270.2Z" fill="#0cfc52"/>
<path d="M411.7,273.4L415.8,272.3L411.7,270.3L407.6,271.5Z" fill="#0cfa6f"/>
<path d="M419.9,274.4L424.0,273.3L419.9,271.2L415.8,272.3Z" fill="#0cf982"/>
<path d="M428.1,275.6L432.2,274.5L428.2,272.2L424.0,273.3Z" fill="#0cf798"/>
<path d="M287.4,277.8L291.6,276.3L287.5,276.3L283.4,277.9Z" fill="#0cf4ba"/>
<path d="M312.2,274.0L316.4,272.6L312.2,272.2L308.1,273.7Z" fill="#0cf976"/>
<path d="M328.8,272.3L332.9,270.9L328.8,270.3L324.7,271.7Z" fill="#0cfb56"/>
<path d="M362.0,270.8L366.2,269.6L362.0,268.4L357.9,269.7Z" fill="#0cfe3b"/>
<path d="M378.6,271.0L382.8,269.8L378.6,268.4L374.5,269.6Z" fill="#0cfe40"/>
<path d="M403.4,272.6L407.6,271.5L403.4,269.6L399.3,270.8Z" fill="#0cfb5f"/>
<path d="M275.1,280.9L279.2,279.4L275.1,279.6L271.0,281.1Z" fill="#0bf2dc"/>
<path d="M299.8,276.5L304.0,275.1L299.8,274.9L295.7,276.4Z" fill="#0cf78d"/>
<path d="M341.3,272.5L345.4,271.2L341.3,270.4L337.1,271.7Z" fill="#0cfd43"/>
<path d="M349.6,272.1L353.7,270.9L349.6,269.9L345.4,271.2Z" fill="#0cfe3d"/>
<path d="M391.0,273.0L395.2,271.9L391.0,270.2L386.9,271.4Z" fill="#0cfd4e"/>
<path d="M415.8,275.5L419.9,274.4L415.8,272.3L411.7,273.4Z" fill="#0cf97c"/>
<path d="M266.9,282.7L271.0,281.1L267.0,281.4L262.8,283.0Z" fill="#0be6f0"/>
<path d="M283.3,279.3L287.4,277.8L283.4,277.9L279.2,279.4Z" fill="#0bf3bf"/>
<path d="M291.6,277.8L295.7,276.4L291.6,276.3L287.4,277.8Z" fill="#0cf5a5"/>
<path d="M308.1,275.4L312.2,274.0L308.1,273.7L304.0,275.1Z" fill="#0cf878"/>
<path d="M316.4,274.4L320.5,273.1L316.4,272.6L312.2,274.0Z" fill="#0cfa67"/>
<path d="M324.6,273.6L328.8,272.3L324.7,271.7L320.5,273.1Z" fill="#0cfb58"/>
<path d="M332.9,273.0L337.1,271.7L332.9,270.9L328.8,272.3Z" fill="#0cfc4c"/>
<path d="M357.9,272.0L362.0,270.8L357.9,269.7L353.7,270.9Z" fill="#0cfe3a"/>
<path d="M366.2,272.0L370.3,270.8L366.2,269.6L362.0,270.8Z" fill="#0cfe3a"/>
<path d="M374.5,272.2L378.6,271.0L374.5,269.6L370.3,270.8Z" fill="#0cfe3e"/>
<path d="M382.8,272.5L386.9,271.4L382.8,269.8L378.6,271.0Z" fill="#0cfd44"/>
<path d="M399.3,273.7L403.4,272.6L399.3,270.8L395.2,271.9Z" fill="#0cfc5a"/>
<path d="M407.6,274.5L411.7,273.4L407.6,271.5L403.4,272.6Z" fill="#0cfa6a"/>
<path d="M424.0,276.6L428.1,275.6L424.0,273.3L419.9,274.4Z" fill="#0cf892"/>
<path d="M271.0,282.4L275.1,280.9L271.0,281.1L266.9,282.7Z" fill="#0bf1e0"/>
<path d="M287.4,279.3L291.6,277.8L287.4,277.8L283.3,279.3Z" fill="#0cf4a8"/>
<path d="M295.7,277.9L299.8,276.5L295.7,276.4L291.6,277.8Z" fill="#0cf690"/>
<path d="M312.2,275.7L316.4,274.4L312.2,274.0L308.1,275.4Z" fill="#0cf968"/>
<path d="M328.8,274.2L332.9,273.0L328.8,272.3L324.6,273.6Z" fill="#0cfc4c"/>
<path d="M337.1,273.7L341.3,272.5L337.1,271.7L332.9,273.0Z" fill="#0cfd43"/>
<path d="M345.4,273.4L349.6,272.1L345.4,271.2L341.3,272.5Z" fill="#0cfd3c"/>
<path d="M353.7,273.2L357.9,272.0L353.7,270.9L349.6,272.1Z" fill="#0cfe39"/>
<path d="M362.0,273.2L366.2,272.0L362.0,270.8L357.9,272.0Z" fill="#0cfe38"/>
<path d="M378.6,273.6L382.8,272.5L378.6,271.0L374.5,272.2Z" fill="#0cfe41"/>
<path d="M395.2,274.7L399.3,273.7L395.2,271.9L391.0,273.0Z" fill="#0cfc56"/>
<path d="M403.4,275.5L407.6,274.5L403.4,272.6L399.3,273.7Z" fill="#0cfb65"/>
<path d="M419.9,277.6L424.0,276.6L419.9,274.4L415.8,275.5Z" fill="#0cf88b"/>
<path d="M279.2,280.7L283.3,279.3L279.2,279.4L275.1,280.9Z" fill="#0bf3c3"/>
<path d="M303.9,276.8L308.1,275.4L304.0,275.1L299.8,276.5Z" fill="#0cf87b"/>
<path d="M320.5,274.9L324.6,273.6L320.5,273.1L316.4,274.4Z" fill="#0cfa59"/>
<path d="M370.3,273.3L374.5,272.2L370.3,270.8L366.2,272.0Z" fill="#0cfe3b"/>
<path d="M386.9,274.1L391.0,273.0L386.9,271.4L382.8,272.5Z" fill="#0cfd4a"/>
<path d="M411.7,276.5L415.8,275.5L411.7,273.4L407.6,274.5Z" fill="#0cf977"/>
<path d="M291.5,279.3L295.7,277.9L291.6,277.8L287.4,279.3Z" fill="#0cf593"/>
<path d="M332.9,274.9L337.1,273.7L332.9,273.0L328.8,274.2Z" fill="#0cfc42"/>
<path d="M357.9,274.3L362.0,273.2L357.9,272.0L353.7,273.2Z" fill="#0cfe36"/>
<path d="M399.3,276.6L403.4,275.5L399.3,273.7L395.2,274.7Z" fill="#0cfb5f"/>
<path d="M275.1,282.2L279.2,280.7L275.1,280.9L271.0,282.4Z" fill="#0bf2c7"/>
<path d="M283.3,280.7L287.4,279.3L283.3,279.3L279.2,280.7Z" fill="#0cf4ab"/>
<path d="M299.8,278.1L303.9,276.8L299.8,276.5L295.7,277.9Z" fill="#0cf77d"/>
<path d="M308.1,277.1L312.2,275.7L308.1,275.4L303.9,276.8Z" fill="#0cf86a"/>
<path d="M316.3,276.2L320.5,274.9L316.4,274.4L312.2,275.7Z" fill="#0cfa5a"/>
<path d="M324.6,275.5L328.8,274.2L324.6,273.6L320.5,274.9Z" fill="#0cfb4d"/>
<path d="M341.3,274.6L345.4,273.4L341.3,272.5L337.1,273.7Z" fill="#0cfd3b"/>
<path d="M349.6,274.4L353.7,273.2L349.6,272.1L345.4,273.4Z" fill="#0cfe37"/>
<path d="M366.2,274.4L370.3,273.3L366.2,272.0L362.0,273.2Z" fill="#0cfe38"/>
<path d="M374.5,274.7L378.6,273.6L374.5,272.2L370.3,273.3Z" fill="#0cfe3d"/>
<path d="M382.8,275.2L386.9,274.1L382.8,272.5L378.6,273.6Z" fill="#0cfd45"/>
<path d="M391.0,275.8L395.2,274.7L391.0,273.0L386.9,274.1Z" fill="#0cfc51"/>
<path d="M407.5,277.5L411.7,276.5L407.6,274.5L403.4,275.5Z" fill="#0cfa70"/>
<path d="M415.8,278.6L419.9,277.6L415.8,275.5L411.7,276.5Z" fill="#0cf885"/>
<path d="M279.1,282.1L283.3,280.7L279.2,280.7L275.1,282.2Z" fill="#0bf3af"/>
<path d="M287.4,280.7L291.5,279.3L287.4,279.3L283.3,280.7Z" fill="#0cf595"/>
<path d="M295.6,279.4L299.8,278.1L295.7,277.9L291.5,279.3Z" fill="#0cf67f"/>
<path d="M303.9,278.4L308.1,277.1L303.9,276.8L299.8,278.1Z" fill="#0cf86b"/>
<path d="M312.2,277.5L316.3,276.2L312.2,275.7L308.1,277.1Z" fill="#0cf95a"/>
<path d="M320.5,276.7L324.6,275.5L320.5,274.9L316.3,276.2Z" fill="#0cfb4d"/>
<path d="M328.8,276.1L332.9,274.9L328.8,274.2L324.6,275.5Z" fill="#0cfc42"/>
<path d="M337.1,275.7L341.3,274.6L337.1,273.7L332.9,274.9Z" fill="#0cfd3a"/>
<path d="M345.4,275.5L349.6,274.4L345.4,273.4L341.3,274.6Z" fill="#0cfd35"/>
<path d="M353.7,275.4L357.9,274.3L353.7,273.2L349.6,274.4Z" fill="#0cfe33"/>
<path d="M362.0,275.5L366.2,274.4L362.0,273.2L357.9,274.3Z" fill="#0cfe35"/>
<path d="M370.3,275.8L374.5,274.7L370.3,273.3L366.2,274.4Z" fill="#0cfe39"/>
<path d="M378.6,276.2L382.8,275.2L378.6,273.6L374.5,274.7Z" fill="#0cfd41"/>
<path d="M386.9,276.8L391.0,275.8L386.9,274.1L382.8,275.2Z" fill="#0cfc4c"/>
<path d="M395.2,277.6L399.3,276.6L395.2,274.7L391.0,275.8Z" fill="#0cfb59"/>
<path d="M403.4,278.5L407.5,277.5L403.4,275.5L399.3,276.6Z" fill="#0cfa6a"/>
<path d="M411.7,279.6L415.8,278.6L411.7,276.5L407.5,277.5Z" fill="#0cf97d"/>
<path d="M283.2,282.0L287.4,280.7L283.3,280.7L279.1,282.1Z" fill="#0cf497"/>
<path d="M291.5,280.8L295.6,279.4L291.5,279.3L287.4,280.7Z" fill="#0cf680"/>
<path d="M299.8,279.7L303.9,278.4L299.8,278.1L295.6,279.4Z" fill="#0cf76c"/>
<path d="M316.3,277.9L320.5,276.7L316.3,276.2L312.2,277.5Z" fill="#0cfa4c"/>
<path d="M324.6,277.3L328.8,276.1L324.6,275.5L320.5,276.7Z" fill="#0cfb41"/>
<path d="M332.9,276.9L337.1,275.7L332.9,274.9L328.8,276.1Z" fill="#0cfc38"/>
<path d="M341.3,276.6L345.4,275.5L341.3,274.6L337.1,275.7Z" fill="#0cfd33"/>
<path d="M349.6,276.5L353.7,275.4L349.6,274.4L345.4,275.5Z" fill="#0cfe30"/>
<path d="M357.9,276.6L362.0,275.5L357.9,274.3L353.7,275.4Z" fill="#0cfe31"/>
<path d="M366.2,276.8L370.3,275.8L366.2,274.4L362.0,275.5Z" fill="#0cfe35"/>
<path d="M374.5,277.2L378.6,276.2L374.5,274.7L370.3,275.8Z" fill="#0cfd3c"/>
<path d="M391.0,278.6L395.2,277.6L391.0,275.8L386.9,276.8Z" fill="#0cfc53"/>
<path d="M399.3,279.5L403.4,278.5L399.3,276.6L395.2,277.6Z" fill="#0cfb63"/>
<path d="M407.5,280.5L411.7,279.6L407.5,277.5L403.4,278.5Z" fill="#0cf976"/>
<path d="M308.0,278.7L312.2,277.5L308.1,277.1L303.9,278.4Z" fill="#0cf95b"/>
<path d="M382.8,277.8L386.9,276.8L382.8,275.2L378.6,276.2Z" fill="#0cfd46"/>
<path d="M295.6,280.9L299.8,279.7L295.6,279.4L291.5,280.8Z" fill="#0cf76d"/>
<path d="M320.5,278.5L324.6,277.3L320.5,276.7L316.3,277.9Z" fill="#0cfb3f"/>
<path d="M328.8,278.0L332.9,276.9L328.8,276.1L324.6,277.3Z" fill="#0cfc36"/>
<path d="M345.4,277.6L349.6,276.5L345.4,275.5L341.3,276.6Z" fill="#0cfd2d"/>
<path d="M362.0,277.9L366.2,276.8L362.0,275.5L357.9,276.6Z" fill="#0cfe30"/>
<path d="M370.3,278.3L374.5,277.2L370.3,275.8L366.2,276.8Z" fill="#0cfd37"/>
<path d="M395.2,280.4L399.3,279.5L395.2,277.6L391.0,278.6Z" fill="#0cfb5c"/>
<path d="M287.4,282.1L291.5,280.8L287.4,280.7L283.2,282.0Z" fill="#0cf582"/>
<path d="M303.9,280.0L308.0,278.7L303.9,278.4L299.8,279.7Z" fill="#0cf85b"/>
<path d="M312.2,279.1L316.3,277.9L312.2,277.5L308.0,278.7Z" fill="#0cfa4c"/>
<path d="M337.1,277.8L341.3,276.6L337.1,275.7L332.9,276.9Z" fill="#0cfd30"/>
<path d="M353.7,277.7L357.9,276.6L353.7,275.4L349.6,276.5Z" fill="#0cfe2d"/>
<path d="M378.6,278.8L382.8,277.8L378.6,276.2L374.5,277.2Z" fill="#0cfd40"/>
<path d="M386.9,279.5L391.0,278.6L386.9,276.8L382.8,277.8Z" fill="#0cfc4d"/>
<path d="M403.4,281.5L407.5,280.5L403.4,278.5L399.3,279.5Z" fill="#0cfa6e"/>
<path d="M291.5,282.2L295.6,280.9L291.5,280.8L287.4,282.1Z" fill="#0cf66d"/>
<path d="M308.0,280.3L312.2,279.1L308.0,278.7L303.9,280.0Z" fill="#0cf94b"/>
<path d="M316.3,279.7L320.5,278.5L316.3,277.9L312.2,279.1Z" fill="#0cfa3e"/>
<path d="M324.6,279.2L328.8,278.0L324.6,277.3L320.5,278.5Z" fill="#0cfc34"/>
<path d="M332.9,278.8L337.1,277.8L332.9,276.9L328.8,278.0Z" fill="#0cfc2d"/>
<path d="M341.3,278.7L345.4,277.6L341.3,276.6L337.1,277.8Z" fill="#0cfd2a"/>
<path d="M349.6,278.7L353.7,277.7L349.6,276.5L345.4,277.6Z" fill="#0cfe29"/>
<path d="M357.9,278.9L362.0,277.9L357.9,276.6L353.7,277.7Z" fill="#0cfe2c"/>
<path d="M366.2,279.2L370.3,278.3L366.2,276.8L362.0,277.9Z" fill="#0cfd31"/>
<path d="M374.5,279.8L378.6,278.8L374.5,277.2L370.3,278.3Z" fill="#0cfd3a"/>
<path d="M382.8,280.5L386.9,279.5L382.8,277.8L378.6,278.8Z" fill="#0cfc46"/>
<path d="M399.3,282.4L403.4,281.5L399.3,279.5L395.2,280.4Z" fill="#0cfa66"/>
<path d="M299.7,281.2L303.9,280.0L299.8,279.7L295.6,280.9Z" fill="#0cf85b"/>
<path d="M391.0,281.3L395.2,280.4L391.0,278.6L386.9,279.5Z" fill="#0cfb55"/>
<path d="M312.2,280.8L316.3,279.7L312.2,279.1L308.0,280.3Z" fill="#0cfa3c"/>
<path d="M320.5,280.3L324.6,279.2L320.5,278.5L316.3,279.7Z" fill="#0cfb32"/>
<path d="M337.1,279.7L341.3,278.7L337.1,277.8L332.9,278.8Z" fill="#0cfd26"/>
<path d="M353.7,279.9L357.9,278.9L353.7,277.7L349.6,278.7Z" fill="#0cfe26"/>
<path d="M370.3,280.7L374.5,279.8L370.3,278.3L366.2,279.2Z" fill="#0cfd33"/>
<path d="M378.6,281.4L382.8,280.5L378.6,278.8L374.5,279.8Z" fill="#0cfc3f"/>
<path d="M295.6,282.4L299.7,281.2L295.6,280.9L291.5,282.2Z" fill="#0cf75a"/>
<path d="M303.9,281.5L308.0,280.3L303.9,280.0L299.7,281.2Z" fill="#0cf94a"/>
<path d="M328.8,279.9L332.9,278.8L328.8,278.0L324.6,279.2Z" fill="#0cfc2a"/>
<path d="M345.4,279.7L349.6,278.7L345.4,277.6L341.3,278.7Z" fill="#0cfd25"/>
<path d="M362.0,280.2L366.2,279.2L362.0,277.9L357.9,278.9Z" fill="#0cfd2b"/>
<path d="M386.9,282.2L391.0,281.3L386.9,279.5L382.8,280.5Z" fill="#0cfb4d"/>
<path d="M395.2,283.2L399.3,282.4L395.2,280.4L391.0,281.3Z" fill="#0cfa5e"/>
<path d="M299.7,282.7L303.9,281.5L299.7,281.2L295.6,282.4Z" fill="#0cf848"/>
<path d="M308.0,281.9L312.2,280.8L308.0,280.3L303.9,281.5Z" fill="#0cf93a"/>
<path d="M316.3,281.4L320.5,280.3L316.3,279.7L312.2,280.8Z" fill="#0cfb2f"/>
<path d="M324.6,281.0L328.8,279.9L324.6,279.2L320.5,280.3Z" fill="#0cfc27"/>
<path d="M333.0,280.8L337.1,279.7L332.9,278.8L328.8,279.9Z" fill="#0cfc22"/>
<path d="M341.3,280.7L345.4,279.7L341.3,278.7L337.1,279.7Z" fill="#0cfd20"/>
<path d="M349.6,280.9L353.7,279.9L349.6,278.7L345.4,279.7Z" fill="#0cfd21"/>
<path d="M357.9,281.2L362.0,280.2L357.9,278.9L353.7,279.9Z" fill="#0cfd25"/>
<path d="M366.2,281.6L370.3,280.7L366.2,279.2L362.0,280.2Z" fill="#0cfd2d"/>
<path d="M374.5,282.3L378.6,281.4L374.5,279.8L370.3,280.7Z" fill="#0cfc37"/>
<path d="M382.8,283.1L386.9,282.2L382.8,280.5L378.6,281.4Z" fill="#0cfc45"/>
<path d="M391.0,284.1L395.2,283.2L391.0,281.3L386.9,282.2Z" fill="#0cfb55"/>
<path d="M303.9,283.0L308.0,281.9L303.9,281.5L299.7,282.7Z" fill="#0cf938"/>
<path d="M312.2,282.4L316.3,281.4L312.2,280.8L308.0,281.9Z" fill="#0cfa2c"/>
<path d="M320.5,282.0L324.6,281.0L320.5,280.3L316.3,281.4Z" fill="#0cfb23"/>
<path d="M328.8,281.8L333.0,280.8L328.8,279.9L324.6,281.0Z" fill="#0cfc1d"/>
<path d="M345.4,281.8L349.6,280.9L345.4,279.7L341.3,280.7Z" fill="#0cfd1b"/>
<path d="M362.1,282.5L366.2,281.6L362.0,280.2L357.9,281.2Z" fill="#0cfd26"/>
<path d="M370.4,283.2L374.5,282.3L370.3,280.7L366.2,281.6Z" fill="#0cfd30"/>
<path d="M378.6,284.0L382.8,283.1L378.6,281.4L374.5,282.3Z" fill="#0cfc3d"/>
<path d="M386.9,284.9L391.0,284.1L386.9,282.2L382.8,283.1Z" fill="#0cfb4c"/>
<path d="M337.1,281.7L341.3,280.7L337.1,279.7L333.0,280.8Z" fill="#0cfd1b"/>
<path d="M353.7,282.1L357.9,281.2L353.7,279.9L349.6,280.9Z" fill="#0cfd1f"/>
<path d="M324.6,282.8L328.8,281.8L324.6,281.0L320.5,282.0Z" fill="#0cfc19"/>
<path d="M366.2,284.0L370.4,283.2L366.2,281.6L362.1,282.5Z" fill="#0cfd28"/>
<path d="M308.0,283.5L312.2,282.4L308.0,281.9L303.9,283.0Z" fill="#0cfa29"/>
<path d="M316.3,283.0L320.5,282.0L316.3,281.4L312.2,282.4Z" fill="#0cfb1f"/>
<path d="M341.3,282.7L345.4,281.8L341.3,280.7L337.1,281.7Z" fill="#0cfd15"/>
<path d="M349.6,283.0L353.7,282.1L349.6,280.9L345.4,281.8Z" fill="#0cfd18"/>
<path d="M374.5,284.8L378.6,284.0L374.5,282.3L370.4,283.2Z" fill="#0cfc34"/>
<path d="M382.8,285.7L386.9,284.9L382.8,283.1L378.6,284.0Z" fill="#0cfb43"/>
<path d="M333.0,282.7L337.1,281.7L333.0,280.8L328.8,281.8Z" fill="#0cfc16"/>
<path d="M357.9,283.4L362.1,282.5L357.9,281.2L353.7,282.1Z" fill="#0cfd1e"/>
<path d="M320.5,283.7L324.6,282.8L320.5,282.0L316.3,283.0Z" fill="#0cfb14"/>
<path d="M370.4,285.6L374.5,284.8L370.4,283.2L366.2,284.0Z" fill="#0cfc2b"/>
<path d="M312.2,284.0L316.3,283.0L312.2,282.4L308.0,283.5Z" fill="#0cfa1b"/>
<path d="M328.8,283.6L333.0,282.7L328.8,281.8L324.6,282.8Z" fill="#0cfc10"/>
<path d="M337.1,283.6L341.3,282.7L337.1,281.7L333.0,282.7Z" fill="#0cfd0f"/>
<path d="M345.4,283.9L349.6,283.0L345.4,281.8L341.3,282.7Z" fill="#0cfd11"/>
<path d="M353.8,284.3L357.9,283.4L353.7,282.1L349.6,283.0Z" fill="#0cfd17"/>
<path d="M362.1,284.8L366.2,284.0L362.1,282.5L357.9,283.4Z" fill="#0cfd1f"/>
<path d="M378.7,286.5L382.8,285.7L378.6,284.0L374.5,284.8Z" fill="#0cfb3a"/>
<path d="M316.3,284.7L320.5,283.7L316.3,283.0L312.2,284.0Z" fill="#0cfb0f"/>
<path d="M333.0,284.5L337.1,283.6L333.0,282.7L328.8,283.6Z" fill="#0ffc0c"/>
<path d="M341.3,284.7L345.4,283.9L341.3,282.7L337.1,283.6Z" fill="#0efd0c"/>
<path d="M349.6,285.1L353.8,284.3L349.6,283.0L345.4,283.9Z" fill="#0cfd0f"/>
<path d="M357.9,285.6L362.1,284.8L357.9,283.4L353.8,284.3Z" fill="#0cfd17"/>
<path d="M374.5,287.3L378.7,286.5L374.5,284.8L370.4,285.6Z" fill="#0cfb30"/>
<path d="M324.6,284.5L328.8,283.6L324.6,282.8L320.5,283.7Z" fill="#0dfc0c"/>
<path d="M366.2,286.4L370.4,285.6L366.2,284.0L362.1,284.8Z" fill="#0cfc22"/>
<path d="M328.8,285.4L333.0,284.5L328.8,283.6L324.6,284.5Z" fill="#16fc0c"/>
<path d="M337.1,285.5L341.3,284.7L337.1,283.6L333.0,284.5Z" fill="#15fc0c"/>
<path d="M345.5,285.9L349.6,285.1L345.4,283.9L341.3,284.7Z" fill="#11fd0c"/>
<path d="M353.8,286.4L357.9,285.6L353.8,284.3L349.6,285.1Z" fill="#0cfc0e"/>
<path d="M362.1,287.1L366.2,286.4L362.1,284.8L357.9,285.6Z" fill="#0cfc18"/>
<path d="M320.5,285.4L324.6,284.5L320.5,283.7L316.3,284.7Z" fill="#13fb0c"/>
<path d="M370.4,288.0L374.5,287.3L370.4,285.6L366.2,286.4Z" fill="#0cfb26"/>
<path d="M324.6,286.2L328.8,285.4L324.6,284.5L320.5,285.4Z" fill="#1dfc0c"/>
<path d="M333.0,286.4L337.1,285.5L333.0,284.5L328.8,285.4Z" fill="#1dfc0c"/>
<path d="M341.3,286.7L345.5,285.9L341.3,284.7L337.1,285.5Z" fill="#19fc0c"/>
<path d="M349.6,287.2L353.8,286.4L349.6,285.1L345.5,285.9Z" fill="#13fc0c"/>
<path d="M357.9,287.8L362.1,287.1L357.9,285.6L353.8,286.4Z" fill="#0cfc0f"/>
<path d="M366.2,288.7L370.4,288.0L366.2,286.4L362.1,287.1Z" fill="#0cfb1b"/>
<path d="M328.8,287.1L333.0,286.4L328.8,285.4L324.6,286.2Z" fill="#25fc0c"/>
<path d="M337.1,287.4L341.3,286.7L337.1,285.5L333.0,286.4Z" fill="#22fc0c"/>
<path d="M345.5,287.9L349.6,287.2L345.5,285.9L341.3,286.7Z" fill="#1cfc0c"/>
<path d="M353.8,288.5L357.9,287.8L353.8,286.4L349.6,287.2Z" fill="#13fc0c"/>
<path d="M362.1,289.4L366.2,288.7L362.1,287.1L357.9,287.8Z" fill="#0cfb11"/>
<path d="M333.0,288.2L337.1,287.4L333.0,286.4L328.8,287.1Z" fill="#2bfc0c"/>
<path d="M341.3,288.6L345.5,287.9L341.3,286.7L337.1,287.4Z" fill="#26fc0c"/>
<path d="M349.6,289.2L353.8,288.5L349.6,287.2L345.5,287.9Z" fill="#1dfc0c"/>
<path d="M358.0,290.0L362.1,289.4L357.9,287.8L353.8,288.5Z" fill="#12fb0c"/>
<path d="M337.2,289.3L341.3,288.6L337.1,287.4L333.0,288.2Z" fill="#2ffc0c"/>
<path d="M345.5,289.9L349.6,289.2L345.5,287.9L341.3,288.6Z" fill="#28fc0c"/>
<path d="M353.8,290.6L358.0,290.0L353.8,288.5L349.6,289.2Z" fill="#1dfb0c"/>
<path d="M341.3,290.5L345.5,289.9L341.3,288.6L337.2,289.3Z" fill="#33fb0c"/>
<path d="M349.7,291.2L353.8,290.6L349.6,289.2L345.5,289.9Z" fill="#29fb0c"/>
<path d="M345.5,291.8L349.7,291.2L345.5,289.9L341.3,290.5Z" fill="#34fb0c"/>
</g>
<rect x="343.90" y="261.63" width="3" height="6" fill="#8a1010" stroke="#3a0606" stroke-width="0.5"/>
<g fill="none" stroke="#141414" stroke-width="0.72">
<path d="M474.5,223.0L567.0,203.0L658.8,222.5"/>
<path d="M475.3,240.2L566.9,218.5L657.8,239.8"/>
<path d="M476.2,257.3L566.8,234.0L656.9,257.1"/>
<path d="M477.0,274.4L566.8,249.6L656.0,274.3"/>
<path d="M477.8,291.6L566.7,265.1L655.1,291.6"/>
<path d="M478.7,308.8L566.6,280.6L654.2,308.9"/>
<path d="M474.5,223.0L480.0,336.2"/>
<path d="M493.0,219.0L496.3,303.1"/>
<path d="M511.5,215.0L513.8,297.5"/>
<path d="M530.0,211.0L531.4,291.9"/>
<path d="M548.5,207.0L549.0,286.2"/>
<path d="M567.0,203.0L566.5,305.5"/>
<path d="M589.9,207.9L588.5,287.7"/>
<path d="M612.9,212.8L610.4,294.8"/>
<path d="M635.8,217.6L632.3,301.8"/>
<path d="M658.8,222.5L652.8,336.6"/>
</g>
<circle cx="474.50" cy="223.00" r="0.75" fill="#111"/>
<text x="470.70" y="221.60" font-size="7" font-family="Liberation Sans, sans-serif" fill="#262626" text-anchor="end">600</text>
<circle cx="475.33" cy="240.15" r="0.75" fill="#111"/>
<text x="471.53" y="238.75" font-size="7" font-family="Liberation Sans, sans-serif" fill="#262626" text-anchor="end">500</text>
<circle cx="476.17" cy="257.30" r="0.75" fill="#111"/>
<text x="472.37" y="255.90" font-size="7" font-family="Liberation Sans, sans-serif" fill="#262626" text-anchor="end">400</text>
<circle cx="477.00" cy="274.45" r="0.75" fill="#111"/>
<text x="473.20" y="273.05" font-size="7" font-family="Liberation Sans, sans-serif" fill="#262626" text-anchor="end">300</text>
<circle cx="477.83" cy="291.60" r="0.75" fill="#111"/>
<text x="474.03" y="290.20" font-size="7" font-family="Liberation Sans, sans-serif" fill="#262626" text-anchor="end">200</text>
<circle cx="478.66" cy="308.75" r="0.75" fill="#111"/>
<text x="474.86" y="307.35" font-size="7" font-family="Liberation Sans, sans-serif" fill="#262626" text-anchor="end">100</text>
<path d="M480.0,336.2L566.5,305.5L652.8,336.6L565.5,376.8Z" fill="#555555" stroke="#222" stroke-width="0.7"/>
<g fill="none" stroke-width="1.45" stroke-linecap="round">
<path d="M527.5,319.3L527.1,320.5L526.7,321.6L526.2,322.5L525.7,323.3L525.1,324.3L524.3,325.4L523.4,326.3L522.4,327.3L521.2,328.4L519.6,329.5L518.3,330.4L516.3,331.5L514.8,332.3L512.4,333.4L509.9,334.3L507.2,335.3L504.3,336.1L502.3,336.6L499.3,337.4L497.2,337.8L493.9,338.5L491.7,338.9L489.4,339.3L487.1,339.6" stroke="#0ee4c6"/>
<path d="M540.7,314.7L541.0,315.5L541.2,316.4L541.5,317.6L541.7,318.4L541.8,319.5L542.0,320.5L542.0,321.4L542.1,322.6L542.1,323.4L542.0,324.6L541.8,325.5L541.6,326.5L541.3,327.7L541.0,328.5L540.5,329.5L539.9,330.6L539.1,331.7L538.2,332.7L537.2,333.6L536.1,334.6L534.2,335.9L532.8,336.7L530.5,337.8L527.9,338.8L525.2,339.8L522.2,340.6L520.1,341.1L517.1,341.8L514.7,342.3L512.4,342.7L510.0,343.1L507.0,343.5L504.1,343.9L501.5,344.2L498.9,344.5L497.6,344.6" stroke="#0ee484"/>
<path d="M596.2,362.7L596.2,361.2L596.3,360.3L596.6,359.1L597.2,357.8L598.1,356.6L599.3,355.6L601.6,354.3L604.5,353.2L606.7,352.6L610.1,351.8L612.6,351.3L615.2,350.8L617.8,350.4L620.5,350.0L622.8,349.7L625.1,349.4L625.1,349.4" stroke="#0ee443"/>
<path d="M550.8,311.1L551.6,312.1L552.3,313.1L553.0,314.1L553.7,315.2L554.4,316.2L554.9,317.1L555.5,318.0L556.1,318.9L556.7,319.9L557.4,321.0L558.1,322.1L558.7,323.1L559.3,324.1L559.8,325.0L560.3,325.9L560.9,327.0L561.5,328.1L562.1,329.3L562.5,330.2L562.9,331.1L563.4,332.2L563.9,333.4L564.2,334.4L564.4,335.3L564.7,336.6L564.9,337.5L564.9,338.6L564.9,339.7L564.6,340.9L564.3,341.7L563.6,342.7L562.2,344.0L560.5,345.1L557.8,346.1L555.4,346.8L552.4,347.5L550.0,347.9L547.5,348.3L544.9,348.6L542.2,348.9L539.5,349.1L536.7,349.4L534.5,349.5L532.3,349.7L529.5,349.8L526.6,350.0L523.8,350.1L521.7,350.2L519.3,350.3L516.3,350.4L513.4,350.5L511.4,350.6L510.3,350.6" stroke="#0ee443"/>
<path d="M575.4,372.2L573.3,370.9L571.8,370.0L569.4,368.7L566.9,367.5L564.3,366.3L561.5,365.3L559.5,364.6L556.4,363.6L554.2,363.0L551.9,362.5L548.7,361.8L546.0,361.2L543.5,360.8L540.9,360.4L538.3,360.0L536.0,359.7L533.8,359.4L531.1,359.1L528.2,358.8L527.5,358.8" stroke="#1ae40e"/>
<path d="M559.4,308.0L560.3,309.0L561.2,309.9L562.2,310.8L563.3,311.9L564.4,312.9L565.5,314.0L566.6,314.9L567.6,315.9L568.6,316.8L569.6,317.7L570.7,318.6L572.0,319.7L573.4,320.9L574.5,321.8L575.6,322.7L576.8,323.6L578.6,324.8L579.8,325.7L581.1,326.6L583.0,327.8L584.4,328.6L586.5,329.8L588.0,330.7L590.2,331.7L592.6,332.8L595.2,333.8L597.9,334.8L600.8,335.6L602.8,336.2L605.9,336.9L608.3,337.4L610.6,337.8L613.0,338.2L615.6,338.5L618.3,338.8L620.8,339.1L623.4,339.3L626.1,339.5L629.0,339.6L631.9,339.7L634.0,339.8L636.4,339.8L639.5,339.8L642.0,339.8L644.2,339.8L645.8,339.8" stroke="#1ae40e"/>
<path d="M567.5,305.9L569.0,307.0L570.2,307.9L571.3,308.8L572.4,309.6L573.9,310.7L575.3,311.7L576.5,312.5L577.8,313.4L579.6,314.6L580.8,315.4L582.5,316.4L584.1,317.4L585.4,318.2L587.5,319.3L589.2,320.2L591.1,321.2L593.4,322.3L595.2,323.1L597.3,324.1L599.8,325.1L602.4,326.0L605.1,326.9L607.0,327.5L609.9,328.4L612.9,329.2L614.9,329.7L618.1,330.4L620.3,330.8L622.6,331.2L625.8,331.7L628.5,332.1L630.9,332.4L633.4,332.7L636.0,333.0L638.6,333.2L641.3,333.4L644.0,333.6L644.5,333.6" stroke="#5be40e"/>
</g>
<circle cx="565.50" cy="376.80" r="0.75" fill="#111"/>
<text x="573.90" y="383.10" font-size="7" font-family="Liberation Sans, sans-serif" fill="#262626" text-anchor="middle">25</text>
<circle cx="582.96" cy="368.76" r="0.75" fill="#111"/>
<text x="591.36" y="375.06" font-size="7" font-family="Liberation Sans, sans-serif" fill="#262626" text-anchor="middle">30</text>
<circle cx="600.42" cy="360.72" r="0.75" fill="#111"/>
<text x="608.82" y="367.02" font-size="7" font-family="Liberation Sans, sans-serif" fill="#262626" text-anchor="middle">35</text>
<circle cx="617.88" cy="352.68" r="0.75" fill="#111"/>
<text x="626.28" y="358.98" font-size="7" font-family="Liberation Sans, sans-serif" fill="#262626" text-anchor="middle">40</text>
<circle cx="635.34" cy="344.64" r="0.75" fill="#111"/>
<text x="643.74" y="350.94" font-size="7" font-family="Liberation Sans, sans-serif" fill="#262626" text-anchor="middle">45</text>
<circle cx="652.80" cy="336.60" r="0.75" fill="#111"/>
<text x="661.20" y="342.90" font-size="7" font-family="Liberation Sans, sans-serif" fill="#262626" text-anchor="middle">50</text>
<circle cx="565.50" cy="376.80" r="0.75" fill="#111"/>
<text x="558.50" y="383.30" font-size="7" font-family="Liberation Sans, sans-serif" fill="#262626" text-anchor="middle">10</text>
<circle cx="544.12" cy="366.66" r="0.75" fill="#111"/>
<text x="537.12" y="373.16" font-size="7" font-family="Liberation Sans, sans-serif" fill="#262626" text-anchor="middle">15</text>
<circle cx="522.75" cy="356.52" r="0.75" fill="#111"/>
<text x="515.75" y="363.02" font-size="7" font-family="Liberation Sans, sans-serif" fill="#262626" text-anchor="middle">20</text>
<circle cx="501.38" cy="346.39" r="0.75" fill="#111"/>
<text x="494.38" y="352.89" font-size="7" font-family="Liberation Sans, sans-serif" fill="#262626" text-anchor="middle">25</text>
<circle cx="480.00" cy="336.25" r="0.75" fill="#111"/>
<text x="473.00" y="342.75" font-size="7" font-family="Liberation Sans, sans-serif" fill="#262626" text-anchor="middle">30</text>
<text transform="translate(619,377) rotate(-25.2)" font-size="8.3" font-weight="bold" font-family="Liberation Serif, serif" fill="#222" text-anchor="middle">B: Liquid lipid to Total Lipid (%w/v)</text>
<text transform="translate(503.5,372.3) rotate(23.8)" font-size="8.45" font-weight="bold" font-family="Liberation Serif, serif" fill="#222" text-anchor="middle">C: Sonication Time min)</text>
<g stroke="#08240c" stroke-width="0.5" stroke-linejoin="round">
<path d="M566.8,242.0L570.9,238.7L566.8,238.5L562.7,241.7Z" fill="#4deb0b"/>
<path d="M562.7,245.1L566.8,242.0L562.7,241.7L558.6,244.9Z" fill="#2aec0b"/>
<path d="M570.9,242.3L575.0,239.0L570.9,238.7L566.8,242.0Z" fill="#5aeb0b"/>
<path d="M558.6,248.2L562.7,245.1L558.6,244.9L554.5,248.0Z" fill="#0bec0d"/>
<path d="M566.8,245.4L570.9,242.3L566.8,242.0L562.7,245.1Z" fill="#38ec0b"/>
<path d="M575.0,242.7L579.1,239.4L575.0,239.0L570.9,242.3Z" fill="#66ec0b"/>
<path d="M554.5,251.1L558.6,248.2L554.5,248.0L550.4,250.9Z" fill="#0bed2d"/>
<path d="M562.6,248.4L566.8,245.4L562.7,245.1L558.6,248.2Z" fill="#18ed0b"/>
<path d="M570.8,245.8L575.0,242.7L570.9,242.3L566.8,245.4Z" fill="#45ed0b"/>
<path d="M579.1,243.1L583.2,239.9L579.1,239.4L575.0,242.7Z" fill="#71ec0b"/>
<path d="M558.5,251.3L562.6,248.4L558.6,248.2L554.5,251.1Z" fill="#0bee1d"/>
<path d="M574.9,246.2L579.1,243.1L575.0,242.7L570.8,245.8Z" fill="#50ed0b"/>
<path d="M550.4,253.9L554.5,251.1L550.4,250.9L546.4,253.8Z" fill="#0bee4a"/>
<path d="M566.7,248.8L570.8,245.8L566.8,245.4L562.6,248.4Z" fill="#25ee0b"/>
<path d="M583.2,243.7L587.3,240.5L583.2,239.9L579.1,243.1Z" fill="#7aed0b"/>
<path d="M546.3,256.7L550.4,253.9L546.4,253.8L542.3,256.5Z" fill="#0bef65"/>
<path d="M554.5,254.2L558.5,251.3L554.5,251.1L550.4,253.9Z" fill="#0bef3a"/>
<path d="M562.6,251.7L566.7,248.8L562.6,248.4L558.5,251.3Z" fill="#0bef0f"/>
<path d="M570.8,249.2L574.9,246.2L570.8,245.8L566.7,248.8Z" fill="#31ee0b"/>
<path d="M579.0,246.7L583.2,243.7L579.1,243.1L574.9,246.2Z" fill="#5aee0b"/>
<path d="M587.2,244.3L591.4,241.1L587.3,240.5L583.2,243.7Z" fill="#82ee0b"/>
<path d="M542.3,259.2L546.3,256.7L542.3,256.5L538.2,259.2Z" fill="#0bf07f"/>
<path d="M550.4,256.8L554.5,254.2L550.4,253.9L546.3,256.7Z" fill="#0bf055"/>
<path d="M566.7,252.1L570.8,249.2L566.7,248.8L562.6,251.7Z" fill="#14ef0b"/>
<path d="M583.1,247.3L587.2,244.3L583.2,243.7L579.0,246.7Z" fill="#63ef0b"/>
<path d="M591.3,245.0L595.5,241.9L591.4,241.1L587.2,244.3Z" fill="#89ee0b"/>
<path d="M558.5,254.4L562.6,251.7L558.5,251.3L554.5,254.2Z" fill="#0bf02b"/>
<path d="M574.9,249.7L579.0,246.7L574.9,246.2L570.8,249.2Z" fill="#3cef0b"/>
<path d="M546.3,259.4L550.4,256.8L546.3,256.7L542.3,259.2Z" fill="#0bf16e"/>
<path d="M587.2,248.0L591.3,245.0L587.2,244.3L583.1,247.3Z" fill="#6aef0b"/>
<path d="M538.2,261.7L542.3,259.2L538.2,259.2L534.2,261.7Z" fill="#0bf096"/>
<path d="M554.4,257.1L558.5,254.4L554.5,254.2L550.4,256.8Z" fill="#0bf145"/>
<path d="M562.6,254.8L566.7,252.1L562.6,251.7L558.5,254.4Z" fill="#0bf01e"/>
<path d="M570.8,252.5L574.9,249.7L570.8,249.2L566.7,252.1Z" fill="#1ff00b"/>
<path d="M579.0,250.3L583.1,247.3L579.0,246.7L574.9,249.7Z" fill="#45f00b"/>
<path d="M595.4,245.8L599.6,242.7L595.5,241.9L591.3,245.0Z" fill="#8eef0b"/>
<path d="M534.1,264.1L538.2,261.7L534.2,261.7L530.1,264.1Z" fill="#0bf1ac"/>
<path d="M542.2,261.9L546.3,259.4L542.3,259.2L538.2,261.7Z" fill="#0bf184"/>
<path d="M550.3,259.7L554.4,257.1L550.4,256.8L546.3,259.4Z" fill="#0bf15d"/>
<path d="M558.5,257.5L562.6,254.8L558.5,254.4L554.4,257.1Z" fill="#0bf137"/>
<path d="M566.6,255.3L570.8,252.5L566.7,252.1L562.6,254.8Z" fill="#0bf112"/>
<path d="M574.8,253.1L579.0,250.3L574.9,249.7L570.8,252.5Z" fill="#29f10b"/>
<path d="M583.0,251.0L587.2,248.0L583.1,247.3L579.0,250.3Z" fill="#4df00b"/>
<path d="M591.3,248.8L595.4,245.8L591.3,245.0L587.2,248.0Z" fill="#70f00b"/>
<path d="M599.5,246.7L603.7,243.6L599.6,242.7L595.4,245.8Z" fill="#91ef0b"/>
<path d="M530.1,266.3L534.1,264.1L530.1,264.1L526.1,266.3Z" fill="#0bf2bf"/>
<path d="M538.2,264.2L542.2,261.9L538.2,261.7L534.1,264.1Z" fill="#0bf299"/>
<path d="M546.3,262.1L550.3,259.7L546.3,259.4L542.2,261.9Z" fill="#0bf274"/>
<path d="M554.4,260.0L558.5,257.5L554.4,257.1L550.3,259.7Z" fill="#0bf24f"/>
<path d="M562.5,257.9L566.6,255.3L562.6,254.8L558.5,257.5Z" fill="#0bf22b"/>
<path d="M570.7,255.8L574.8,253.1L570.8,252.5L566.6,255.3Z" fill="#0ff20b"/>
<path d="M578.9,253.8L583.0,251.0L579.0,250.3L574.8,253.1Z" fill="#32f10b"/>
<path d="M587.1,251.7L591.3,248.8L587.2,248.0L583.0,251.0Z" fill="#53f10b"/>
<path d="M595.4,249.7L599.5,246.7L595.4,245.8L591.3,248.8Z" fill="#74f00b"/>
<path d="M603.6,247.7L607.8,244.6L603.7,243.6L599.5,246.7Z" fill="#94f00b"/>
<path d="M526.0,268.4L530.1,266.3L526.1,266.3L522.0,268.5Z" fill="#0bf2d0"/>
<path d="M534.1,266.4L538.2,264.2L534.1,264.1L530.1,266.3Z" fill="#0bf3ac"/>
<path d="M542.2,264.4L546.3,262.1L542.2,261.9L538.2,264.2Z" fill="#0bf388"/>
<path d="M550.3,262.4L554.4,260.0L550.3,259.7L546.3,262.1Z" fill="#0bf364"/>
<path d="M558.4,260.4L562.5,257.9L558.5,257.5L554.4,260.0Z" fill="#0bf341"/>
<path d="M566.6,258.4L570.7,255.8L566.6,255.3L562.5,257.9Z" fill="#0bf31f"/>
<path d="M574.8,256.4L578.9,253.8L574.8,253.1L570.7,255.8Z" fill="#19f30b"/>
<path d="M583.0,254.5L587.1,251.7L583.0,251.0L578.9,253.8Z" fill="#39f20b"/>
<path d="M591.2,252.6L595.4,249.7L591.3,248.8L587.1,251.7Z" fill="#58f20b"/>
<path d="M599.4,250.6L603.6,247.7L599.5,246.7L595.4,249.7Z" fill="#77f10b"/>
<path d="M607.7,248.7L611.9,245.7L607.8,244.6L603.6,247.7Z" fill="#94f00b"/>
<path d="M522.0,270.4L526.0,268.4L522.0,268.5L518.0,270.5Z" fill="#0bf2df"/>
<path d="M530.0,268.5L534.1,266.4L530.1,266.3L526.0,268.4Z" fill="#0bf3bc"/>
<path d="M538.1,266.6L542.2,264.4L538.2,264.2L534.1,266.4Z" fill="#0bf39a"/>
<path d="M546.2,264.7L550.3,262.4L546.3,262.1L542.2,264.4Z" fill="#0cf478"/>
<path d="M554.3,262.8L558.4,260.4L554.4,260.0L550.3,262.4Z" fill="#0cf456"/>
<path d="M562.5,260.9L566.6,258.4L562.5,257.9L558.4,260.4Z" fill="#0cf436"/>
<path d="M570.7,259.0L574.8,256.4L570.7,255.8L566.6,258.4Z" fill="#0cf416"/>
<path d="M578.8,257.1L583.0,254.5L578.9,253.8L574.8,256.4Z" fill="#21f30b"/>
<path d="M587.1,255.3L591.2,252.6L587.1,251.7L583.0,254.5Z" fill="#3ff30b"/>
<path d="M595.3,253.5L599.4,250.6L595.4,249.7L591.2,252.6Z" fill="#5cf20b"/>
<path d="M603.5,251.7L607.7,248.7L603.6,247.7L599.4,250.6Z" fill="#78f10b"/>
<path d="M611.8,249.9L616.0,246.8L611.9,245.7L607.7,248.7Z" fill="#94f00b"/>
<path d="M517.9,272.3L522.0,270.4L518.0,270.5L514.0,272.4Z" fill="#0bf3ec"/>
<path d="M526.0,270.5L530.0,268.5L526.0,268.4L522.0,270.4Z" fill="#0bf3cb"/>
<path d="M534.1,268.6L538.1,266.6L534.1,266.4L530.0,268.5Z" fill="#0cf4a9"/>
<path d="M542.1,266.8L546.2,264.7L542.2,264.4L538.1,266.6Z" fill="#0cf489"/>
<path d="M550.3,265.0L554.3,262.8L550.3,262.4L546.2,264.7Z" fill="#0cf569"/>
<path d="M558.4,263.2L562.5,260.9L558.4,260.4L554.3,262.8Z" fill="#0cf54a"/>
<path d="M566.5,261.4L570.7,259.0L566.6,258.4L562.5,260.9Z" fill="#0cf52b"/>
<path d="M574.7,259.7L578.8,257.1L574.8,256.4L570.7,259.0Z" fill="#0cf40d"/>
<path d="M582.9,257.9L587.1,255.3L583.0,254.5L578.8,257.1Z" fill="#27f40c"/>
<path d="M591.1,256.2L595.3,253.5L591.2,252.6L587.1,255.3Z" fill="#43f30b"/>
<path d="M599.4,254.5L603.5,251.7L599.4,250.6L595.3,253.5Z" fill="#5ef30b"/>
<path d="M607.6,252.8L611.8,249.9L607.7,248.7L603.5,251.7Z" fill="#78f20b"/>
<path d="M615.9,251.1L620.1,248.1L616.0,246.8L611.8,249.9Z" fill="#91f10b"/>
<path d="M513.9,274.0L517.9,272.3L514.0,272.4L509.9,274.2Z" fill="#0beff3"/>
<path d="M521.9,272.3L526.0,270.5L522.0,270.4L517.9,272.3Z" fill="#0cf4d7"/>
<path d="M530.0,270.6L534.1,268.6L530.0,268.5L526.0,270.5Z" fill="#0cf4b7"/>
<path d="M538.1,268.8L542.1,266.8L538.1,266.6L534.1,268.6Z" fill="#0cf598"/>
<path d="M554.3,265.4L558.4,263.2L554.3,262.8L550.3,265.0Z" fill="#0cf65c"/>
<path d="M562.4,263.8L566.5,261.4L562.5,260.9L558.4,263.2Z" fill="#0cf63e"/>
<path d="M570.6,262.1L574.7,259.7L570.7,259.0L566.5,261.4Z" fill="#0cf622"/>
<path d="M578.8,260.5L582.9,257.9L578.8,257.1L574.7,259.7Z" fill="#11f50c"/>
<path d="M595.2,257.2L599.4,254.5L595.3,253.5L591.1,256.2Z" fill="#46f40c"/>
<path d="M603.4,255.6L607.6,252.8L603.5,251.7L599.4,254.5Z" fill="#5ff30b"/>
<path d="M611.7,254.0L615.9,251.1L611.8,249.9L607.6,252.8Z" fill="#77f20b"/>
<path d="M620.0,252.5L624.2,249.5L620.1,248.1L615.9,251.1Z" fill="#8ef10b"/>
<path d="M546.2,267.1L550.3,265.0L546.2,264.7L542.1,266.8Z" fill="#0cf57a"/>
<path d="M587.0,258.8L591.1,256.2L587.1,255.3L582.9,257.9Z" fill="#2cf50c"/>
<path d="M509.8,275.7L513.9,274.0L509.9,274.2L505.9,275.8Z" fill="#0be7f3"/>
<path d="M517.9,274.0L521.9,272.3L517.9,272.3L513.9,274.0Z" fill="#0cf4e0"/>
<path d="M534.0,270.8L538.1,268.8L534.1,268.6L530.0,270.6Z" fill="#0cf5a5"/>
<path d="M558.3,266.0L562.4,263.8L558.4,263.2L554.3,265.4Z" fill="#0cf750"/>
<path d="M574.7,262.8L578.8,260.5L574.7,259.7L570.6,262.1Z" fill="#0cf61a"/>
<path d="M599.3,258.3L603.4,255.6L599.4,254.5L595.2,257.2Z" fill="#47f40c"/>
<path d="M615.8,255.4L620.0,252.5L615.9,251.1L611.7,254.0Z" fill="#74f20b"/>
<path d="M624.0,253.9L628.2,250.9L624.2,249.5L620.0,252.5Z" fill="#88f10b"/>
<path d="M525.9,272.4L530.0,270.6L526.0,270.5L521.9,272.3Z" fill="#0cf5c2"/>
<path d="M542.1,269.1L546.2,267.1L542.1,266.8L538.1,268.8Z" fill="#0cf688"/>
<path d="M550.2,267.5L554.3,265.4L550.3,265.0L546.2,267.1Z" fill="#0cf66c"/>
<path d="M566.5,264.4L570.6,262.1L566.5,261.4L562.4,263.8Z" fill="#0cf735"/>
<path d="M582.9,261.3L587.0,258.8L582.9,257.9L578.8,260.5Z" fill="#17f60c"/>
<path d="M591.1,259.8L595.2,257.2L591.1,256.2L587.0,258.8Z" fill="#2ff50c"/>
<path d="M607.5,256.8L611.7,254.0L607.6,252.8L603.4,255.6Z" fill="#5ef30b"/>
<path d="M513.8,275.6L517.9,274.0L513.9,274.0L509.8,275.7Z" fill="#0cf4e8"/>
<path d="M619.8,256.8L624.0,253.9L620.0,252.5L615.8,255.4Z" fill="#6ff30b"/>
<path d="M505.8,277.1L509.8,275.7L505.9,275.8L501.8,277.3Z" fill="#0be1f3"/>
<path d="M521.9,274.0L525.9,272.4L521.9,272.3L517.9,274.0Z" fill="#0cf5cc"/>
<path d="M529.9,272.5L534.0,270.8L530.0,270.6L525.9,272.4Z" fill="#0cf6b0"/>
<path d="M538.0,271.0L542.1,269.1L538.1,268.8L534.0,270.8Z" fill="#0cf694"/>
<path d="M546.1,269.5L550.2,267.5L546.2,267.1L542.1,269.1Z" fill="#0cf779"/>
<path d="M554.3,268.0L558.3,266.0L554.3,265.4L550.2,267.5Z" fill="#0cf75f"/>
<path d="M562.4,266.6L566.5,264.4L562.4,263.8L558.3,266.0Z" fill="#0cf745"/>
<path d="M570.6,265.1L574.7,262.8L570.6,262.1L566.5,264.4Z" fill="#0cf72c"/>
<path d="M578.7,263.7L582.9,261.3L578.8,260.5L574.7,262.8Z" fill="#0cf714"/>
<path d="M586.9,262.3L591.1,259.8L587.0,258.8L582.9,261.3Z" fill="#1bf60c"/>
<path d="M595.1,260.9L599.3,258.3L595.2,257.2L591.1,259.8Z" fill="#31f60c"/>
<path d="M603.4,259.5L607.5,256.8L603.4,255.6L599.3,258.3Z" fill="#47f50c"/>
<path d="M611.6,258.1L615.8,255.4L611.7,254.0L607.5,256.8Z" fill="#5bf40c"/>
<path d="M628.1,255.4L632.3,252.5L628.2,250.9L624.0,253.9Z" fill="#82f20b"/>
<path d="M501.7,278.5L505.8,277.1L501.8,277.3L497.8,278.7Z" fill="#0bdcf2"/>
<path d="M509.7,277.0L513.8,275.6L509.8,275.7L505.8,277.1Z" fill="#0bf4ed"/>
<path d="M517.8,275.6L521.9,274.0L517.9,274.0L513.8,275.6Z" fill="#0cf5d2"/>
<path d="M525.9,274.2L529.9,272.5L525.9,272.4L521.9,274.0Z" fill="#0cf6b8"/>
<path d="M533.9,272.8L538.0,271.0L534.0,270.8L529.9,272.5Z" fill="#0cf79e"/>
<path d="M542.0,271.4L546.1,269.5L542.1,269.1L538.0,271.0Z" fill="#0cf785"/>
<path d="M550.2,270.0L554.3,268.0L550.2,267.5L546.1,269.5Z" fill="#0cf86c"/>
<path d="M566.4,267.3L570.6,265.1L566.5,264.4L562.4,266.6Z" fill="#0cf83c"/>
<path d="M582.8,264.6L586.9,262.3L582.9,261.3L578.7,263.7Z" fill="#0cf80f"/>
<path d="M591.0,263.3L595.1,260.9L591.1,259.8L586.9,262.3Z" fill="#1ef70c"/>
<path d="M599.2,262.0L603.4,259.5L599.3,258.3L595.1,260.9Z" fill="#32f60c"/>
<path d="M607.4,260.8L611.6,258.1L607.5,256.8L603.4,259.5Z" fill="#45f50c"/>
<path d="M615.7,259.5L619.8,256.8L615.8,255.4L611.6,258.1Z" fill="#58f40c"/>
<path d="M623.9,258.3L628.1,255.4L624.0,253.9L619.8,256.8Z" fill="#69f30b"/>
<path d="M632.2,257.1L636.4,254.1L632.3,252.5L628.1,255.4Z" fill="#79f20b"/>
<path d="M558.3,268.6L562.4,266.6L558.3,266.0L554.3,268.0Z" fill="#0cf854"/>
<path d="M574.6,265.9L578.7,263.7L574.7,262.8L570.6,265.1Z" fill="#0cf825"/>
<path d="M497.7,279.7L501.7,278.5L497.8,278.7L493.7,279.9Z" fill="#0bdaf2"/>
<path d="M505.7,278.3L509.7,277.0L505.8,277.1L501.7,278.5Z" fill="#0bf3f0"/>
<path d="M521.8,275.7L525.9,274.2L521.9,274.0L517.8,275.6Z" fill="#0cf6be"/>
<path d="M538.0,273.1L542.0,271.4L538.0,271.0L533.9,272.8Z" fill="#0cf88e"/>
<path d="M546.1,271.8L550.2,270.0L546.1,269.5L542.0,271.4Z" fill="#0cf877"/>
<path d="M586.9,265.6L591.0,263.3L586.9,262.3L582.8,264.6Z" fill="#0cf80c"/>
<path d="M595.1,264.4L599.2,262.0L595.1,260.9L591.0,263.3Z" fill="#1ff80c"/>
<path d="M611.5,262.1L615.7,259.5L611.6,258.1L607.4,260.8Z" fill="#42f60c"/>
<path d="M628.0,259.9L632.2,257.1L628.1,255.4L623.9,258.3Z" fill="#61f30b"/>
<path d="M636.2,258.8L640.4,255.9L636.4,254.1L632.2,257.1Z" fill="#70f20b"/>
<path d="M513.7,277.0L517.8,275.6L513.8,275.6L509.7,277.0Z" fill="#0cf5d7"/>
<path d="M529.9,274.4L533.9,272.8L529.9,272.5L525.9,274.2Z" fill="#0cf7a6"/>
<path d="M554.2,270.5L558.3,268.6L554.3,268.0L550.2,270.0Z" fill="#0cf960"/>
<path d="M562.3,269.3L566.4,267.3L562.4,266.6L558.3,268.6Z" fill="#0cf94a"/>
<path d="M570.5,268.0L574.6,265.9L570.6,265.1L566.4,267.3Z" fill="#0cf934"/>
<path d="M578.7,266.8L582.8,264.6L578.7,263.7L574.6,265.9Z" fill="#0cf920"/>
<path d="M603.3,263.3L607.4,260.8L603.4,259.5L599.2,262.0Z" fill="#31f70c"/>
<path d="M619.7,261.0L623.9,258.3L619.8,256.8L615.7,259.5Z" fill="#52f40c"/>
<path d="M493.6,280.7L497.7,279.7L493.7,279.9L489.7,281.0Z" fill="#0bdaf2"/>
<path d="M501.6,279.5L505.7,278.3L501.7,278.5L497.7,279.7Z" fill="#0bf3f1"/>
<path d="M542.0,273.5L546.1,271.8L542.0,271.4L538.0,273.1Z" fill="#0cf97f"/>
<path d="M590.9,266.7L595.1,264.4L591.0,263.3L586.9,265.6Z" fill="#0ef90c"/>
<path d="M632.0,261.6L636.2,258.8L632.2,257.1L628.0,259.9Z" fill="#58f30b"/>
<path d="M640.3,260.6L644.5,257.7L640.4,255.9L636.2,258.8Z" fill="#65f20b"/>
<path d="M509.7,278.3L513.7,277.0L509.7,277.0L505.7,278.3Z" fill="#0cf4d9"/>
<path d="M517.7,277.0L521.8,275.7L517.8,275.6L513.7,277.0Z" fill="#0cf6c2"/>
<path d="M525.8,275.8L529.9,274.4L525.9,274.2L521.8,275.7Z" fill="#0cf7ab"/>
<path d="M533.9,274.6L538.0,273.1L533.9,272.8L529.9,274.4Z" fill="#0cf895"/>
<path d="M550.1,272.3L554.2,270.5L550.2,270.0L546.1,271.8Z" fill="#0cf96a"/>
<path d="M558.2,271.1L562.3,269.3L558.3,268.6L554.2,270.5Z" fill="#0cfa55"/>
<path d="M566.4,270.0L570.5,268.0L566.4,267.3L562.3,269.3Z" fill="#0cfa41"/>
<path d="M574.6,268.9L578.7,266.8L574.6,265.9L570.5,268.0Z" fill="#0cfa2e"/>
<path d="M582.7,267.8L586.9,265.6L582.8,264.6L578.7,266.8Z" fill="#0cf91b"/>
<path d="M599.1,265.7L603.3,263.3L599.2,262.0L595.1,264.4Z" fill="#1ff80c"/>
<path d="M607.3,264.6L611.5,262.1L607.4,260.8L603.3,263.3Z" fill="#2ef70c"/>
<path d="M615.6,263.6L619.7,261.0L615.7,259.5L611.5,262.1Z" fill="#3df60c"/>
<path d="M623.8,262.6L628.0,259.9L623.9,258.3L619.7,261.0Z" fill="#4bf40c"/>
<path d="M497.5,280.5L501.6,279.5L497.7,279.7L493.6,280.7Z" fill="#0bf2ef"/>
<path d="M636.1,263.4L640.3,260.6L636.2,258.8L632.0,261.6Z" fill="#4ef30b"/>
<path d="M489.5,281.7L493.6,280.7L489.7,281.0L485.6,282.0Z" fill="#0bdcf1"/>
<path d="M505.6,279.4L509.7,278.3L505.7,278.3L501.6,279.5Z" fill="#0cf4d9"/>
<path d="M513.6,278.3L517.7,277.0L513.7,277.0L509.7,278.3Z" fill="#0cf5c4"/>
<path d="M521.7,277.2L525.8,275.8L521.8,275.7L517.7,277.0Z" fill="#0cf7ae"/>
<path d="M529.8,276.1L533.9,274.6L529.9,274.4L525.8,275.8Z" fill="#0cf89a"/>
<path d="M537.9,275.0L542.0,273.5L538.0,273.1L533.9,274.6Z" fill="#0cf986"/>
<path d="M546.0,273.9L550.1,272.3L546.1,271.8L542.0,273.5Z" fill="#0cfa72"/>
<path d="M554.1,272.9L558.2,271.1L554.2,270.5L550.1,272.3Z" fill="#0cfa5f"/>
<path d="M562.3,271.9L566.4,270.0L562.3,269.3L558.2,271.1Z" fill="#0cfb4c"/>
<path d="M570.4,270.8L574.6,268.9L570.5,268.0L566.4,270.0Z" fill="#0cfb3a"/>
<path d="M578.6,269.9L582.7,267.8L578.7,266.8L574.6,268.9Z" fill="#0cfa29"/>
<path d="M586.8,268.9L590.9,266.7L586.9,265.6L582.7,267.8Z" fill="#0cfa19"/>
<path d="M595.0,267.9L599.1,265.7L595.1,264.4L590.9,266.7Z" fill="#0ef90c"/>
<path d="M603.2,267.0L607.3,264.6L603.3,263.3L599.1,265.7Z" fill="#1df80c"/>
<path d="M611.4,266.1L615.6,263.6L611.5,262.1L607.3,264.6Z" fill="#2af70c"/>
<path d="M619.6,265.2L623.8,262.6L619.7,261.0L615.6,263.6Z" fill="#37f60c"/>
<path d="M627.8,264.3L632.0,261.6L628.0,259.9L623.8,262.6Z" fill="#43f50c"/>
<path d="M644.3,262.6L648.5,259.7L644.5,257.7L640.3,260.6Z" fill="#58f20b"/>
<path d="M485.4,282.5L489.5,281.7L485.6,282.0L481.5,282.8Z" fill="#0be0f0"/>
<path d="M493.5,281.4L497.5,280.5L493.6,280.7L489.5,281.7Z" fill="#0bf2ec"/>
<path d="M501.5,280.4L505.6,279.4L501.6,279.5L497.5,280.5Z" fill="#0bf3d7"/>
<path d="M509.6,279.4L513.6,278.3L509.7,278.3L505.6,279.4Z" fill="#0cf5c3"/>
<path d="M517.6,278.4L521.7,277.2L517.7,277.0L513.6,278.3Z" fill="#0cf6af"/>
<path d="M525.7,277.4L529.8,276.1L525.8,275.8L521.7,277.2Z" fill="#0cf89c"/>
<path d="M533.8,276.4L537.9,275.0L533.9,274.6L529.8,276.1Z" fill="#0cf98a"/>
<path d="M541.9,275.4L546.0,273.9L542.0,273.5L537.9,275.0Z" fill="#0cfa77"/>
<path d="M550.0,274.5L554.1,272.9L550.1,272.3L546.0,273.9Z" fill="#0cfb66"/>
<path d="M558.2,273.6L562.3,271.9L558.2,271.1L554.1,272.9Z" fill="#0cfb55"/>
<path d="M566.3,272.7L570.4,270.8L566.4,270.0L562.3,271.9Z" fill="#0cfb45"/>
<path d="M574.5,271.8L578.6,269.9L574.6,268.9L570.4,270.8Z" fill="#0cfb35"/>
<path d="M582.7,270.9L586.8,268.9L582.7,267.8L578.6,269.9Z" fill="#0cfb26"/>
<path d="M590.9,270.0L595.0,267.9L590.9,266.7L586.8,268.9Z" fill="#0cfa18"/>
<path d="M599.0,269.2L603.2,267.0L599.1,265.7L595.0,267.9Z" fill="#0dfa0c"/>
<path d="M607.2,268.4L611.4,266.1L607.3,264.6L603.2,267.0Z" fill="#19f90c"/>
<path d="M615.5,267.6L619.6,265.2L615.6,263.6L611.4,266.1Z" fill="#25f70c"/>
<path d="M623.7,266.8L627.8,264.3L623.8,262.6L619.6,265.2Z" fill="#2ff60c"/>
<path d="M631.9,266.1L636.1,263.4L632.0,261.6L627.8,264.3Z" fill="#39f50c"/>
<path d="M640.1,265.3L644.3,262.6L640.3,260.6L636.1,263.4Z" fill="#42f30b"/>
<path d="M648.4,264.6L652.6,261.7L648.5,259.7L644.3,262.6Z" fill="#4af20b"/>
<path d="M481.4,283.1L485.4,282.5L481.5,282.8L477.4,283.5Z" fill="#0be6f0"/>
<path d="M489.4,282.2L493.5,281.4L489.5,281.7L485.4,282.5Z" fill="#0bf1e6"/>
<path d="M497.4,281.2L501.5,280.4L497.5,280.5L493.5,281.4Z" fill="#0bf3d2"/>
<path d="M505.5,280.3L509.6,279.4L505.6,279.4L501.5,280.4Z" fill="#0cf4c0"/>
<path d="M513.5,279.4L517.6,278.4L513.6,278.3L509.6,279.4Z" fill="#0cf6ae"/>
<path d="M521.6,278.5L525.7,277.4L521.7,277.2L517.6,278.4Z" fill="#0cf79c"/>
<path d="M529.7,277.7L533.8,276.4L529.8,276.1L525.7,277.4Z" fill="#0cf88b"/>
<path d="M537.8,276.8L541.9,275.4L537.9,275.0L533.8,276.4Z" fill="#0cfa7b"/>
<path d="M545.9,276.0L550.0,274.5L546.0,273.9L541.9,275.4Z" fill="#0cfb6b"/>
<path d="M554.1,275.2L558.2,273.6L554.1,272.9L550.0,274.5Z" fill="#0cfb5b"/>
<path d="M562.2,274.3L566.3,272.7L562.3,271.9L558.2,273.6Z" fill="#0cfc4c"/>
<path d="M570.4,273.6L574.5,271.8L570.4,270.8L566.3,272.7Z" fill="#0cfc3e"/>
<path d="M578.6,272.8L582.7,270.9L578.6,269.9L574.5,271.8Z" fill="#0cfc31"/>
<path d="M586.7,272.0L590.9,270.0L586.8,268.9L582.7,270.9Z" fill="#0cfb24"/>
<path d="M594.9,271.3L599.0,269.2L595.0,267.9L590.9,270.0Z" fill="#0cfb18"/>
<path d="M603.1,270.6L607.2,268.4L603.2,267.0L599.0,269.2Z" fill="#0cfa0d"/>
<path d="M611.3,269.9L615.5,267.6L611.4,266.1L607.2,268.4Z" fill="#15f90c"/>
<path d="M619.5,269.2L623.7,266.8L619.6,265.2L615.5,267.6Z" fill="#1ef70c"/>
<path d="M627.7,268.6L631.9,266.1L627.8,264.3L623.7,266.8Z" fill="#26f60c"/>
<path d="M635.9,268.0L640.1,265.3L636.1,263.4L631.9,266.1Z" fill="#2ef50c"/>
<path d="M644.2,267.3L648.4,264.6L644.3,262.6L640.1,265.3Z" fill="#34f30b"/>
<path d="M652.4,266.7L656.6,263.9L652.6,261.7L648.4,264.6Z" fill="#3af20b"/>
<path d="M485.3,282.8L489.4,282.2L485.4,282.5L481.4,283.1Z" fill="#0bf0dd"/>
<path d="M493.3,281.9L497.4,281.2L493.5,281.4L489.4,282.2Z" fill="#0bf2cc"/>
<path d="M501.4,281.1L505.5,280.3L501.5,280.4L497.4,281.2Z" fill="#0bf3bb"/>
<path d="M517.5,279.6L521.6,278.5L517.6,278.4L513.5,279.4Z" fill="#0cf79a"/>
<path d="M525.6,278.8L529.7,277.7L525.7,277.4L521.6,278.5Z" fill="#0cf88b"/>
<path d="M541.9,277.3L545.9,276.0L541.9,275.4L537.8,276.8Z" fill="#0cfa6d"/>
<path d="M558.1,275.9L562.2,274.3L558.2,273.6L554.1,275.2Z" fill="#0cfc52"/>
<path d="M566.3,275.2L570.4,273.6L566.3,272.7L562.2,274.3Z" fill="#0cfc45"/>
<path d="M574.4,274.6L578.6,272.8L574.5,271.8L570.4,273.6Z" fill="#0cfd39"/>
<path d="M590.8,273.3L594.9,271.3L590.9,270.0L586.7,272.0Z" fill="#0cfc24"/>
<path d="M607.2,272.1L611.3,269.9L607.2,268.4L603.1,270.6Z" fill="#0cfa11"/>
<path d="M615.4,271.5L619.5,269.2L615.5,267.6L611.3,269.9Z" fill="#0ef90c"/>
<path d="M631.8,270.5L635.9,268.0L631.9,266.1L627.7,268.6Z" fill="#1cf60c"/>
<path d="M640.0,269.9L644.2,267.3L640.1,265.3L635.9,268.0Z" fill="#21f40c"/>
<path d="M648.2,269.5L652.4,266.7L648.4,264.6L644.2,267.3Z" fill="#25f30b"/>
<path d="M509.4,280.3L513.5,279.4L509.6,279.4L505.5,280.3Z" fill="#0cf5aa"/>
<path d="M533.7,278.0L537.8,276.8L533.8,276.4L529.7,277.7Z" fill="#0cf97c"/>
<path d="M550.0,276.6L554.1,275.2L550.0,274.5L545.9,276.0Z" fill="#0cfb5f"/>
<path d="M582.6,273.9L586.7,272.0L582.7,270.9L578.6,272.8Z" fill="#0cfc2e"/>
<path d="M599.0,272.7L603.1,270.6L599.0,269.2L594.9,271.3Z" fill="#0cfb1a"/>
<path d="M623.6,271.0L627.7,268.6L623.7,266.8L619.5,269.2Z" fill="#15f70c"/>
<path d="M497.3,281.8L501.4,281.1L497.4,281.2L493.3,281.9Z" fill="#0bf3b3"/>
<path d="M521.5,279.8L525.6,278.8L521.6,278.5L517.5,279.6Z" fill="#0cf788"/>
<path d="M562.2,276.7L566.3,275.2L562.2,274.3L558.1,275.9Z" fill="#0cfd4a"/>
<path d="M570.3,276.2L574.4,274.6L570.4,273.6L566.3,275.2Z" fill="#0cfd40"/>
<path d="M611.2,273.7L615.4,271.5L611.3,269.9L607.2,272.1Z" fill="#0cfa17"/>
<path d="M635.8,272.4L640.0,269.9L635.9,268.0L631.8,270.5Z" fill="#0ff60c"/>
<path d="M489.2,282.5L493.3,281.9L489.4,282.2L485.3,282.8Z" fill="#0bf1c3"/>
<path d="M505.3,281.1L509.4,280.3L505.5,280.3L501.4,281.1Z" fill="#0cf4a4"/>
<path d="M513.4,280.4L517.5,279.6L513.5,279.4L509.4,280.3Z" fill="#0cf696"/>
<path d="M529.6,279.1L533.7,278.0L529.7,277.7L525.6,278.8Z" fill="#0cf97a"/>
<path d="M537.8,278.5L541.9,277.3L537.8,276.8L533.7,278.0Z" fill="#0cfa6d"/>
<path d="M545.9,277.9L550.0,276.6L545.9,276.0L541.9,277.3Z" fill="#0cfb61"/>
<path d="M554.0,277.3L558.1,275.9L554.1,275.2L550.0,276.6Z" fill="#0cfc55"/>
<path d="M578.5,275.6L582.6,273.9L578.6,272.8L574.4,274.6Z" fill="#0cfd36"/>
<path d="M586.7,275.1L590.8,273.3L586.7,272.0L582.6,273.9Z" fill="#0cfd2d"/>
<path d="M594.8,274.6L599.0,272.7L594.9,271.3L590.8,273.3Z" fill="#0cfc25"/>
<path d="M603.0,274.1L607.2,272.1L603.1,270.6L599.0,272.7Z" fill="#0cfb1d"/>
<path d="M619.4,273.2L623.6,271.0L619.5,269.2L615.4,271.5Z" fill="#0cf911"/>
<path d="M627.6,272.8L631.8,270.5L627.7,268.6L623.6,271.0Z" fill="#0cf70c"/>
<path d="M644.0,272.0L648.2,269.5L644.2,267.3L640.0,269.9Z" fill="#13f40c"/>
<path d="M493.2,282.3L497.3,281.8L493.3,281.9L489.2,282.5Z" fill="#0bf2aa"/>
<path d="M509.3,281.2L513.4,280.4L509.4,280.3L505.3,281.1Z" fill="#0cf58f"/>
<path d="M517.4,280.6L521.5,279.8L517.5,279.6L513.4,280.4Z" fill="#0cf782"/>
<path d="M533.6,279.5L537.8,278.5L533.7,278.0L529.6,279.1Z" fill="#0cfa6b"/>
<path d="M549.9,278.6L554.0,277.3L550.0,276.6L545.9,277.9Z" fill="#0cfc56"/>
<path d="M558.1,278.1L562.2,276.7L558.1,275.9L554.0,277.3Z" fill="#0cfd4d"/>
<path d="M566.2,277.6L570.3,276.2L566.3,275.2L562.2,276.7Z" fill="#0cfd44"/>
<path d="M574.4,277.2L578.5,275.6L574.4,274.6L570.3,276.2Z" fill="#0cfe3c"/>
<path d="M582.5,276.8L586.7,275.1L582.6,273.9L578.5,275.6Z" fill="#0cfd34"/>
<path d="M598.9,276.1L603.0,274.1L599.0,272.7L594.8,274.6Z" fill="#0cfc28"/>
<path d="M615.3,275.4L619.4,273.2L615.4,271.5L611.2,273.7Z" fill="#0cfa1e"/>
<path d="M623.4,275.1L627.6,272.8L623.6,271.0L619.4,273.2Z" fill="#0cf91a"/>
<path d="M639.8,274.5L644.0,272.0L640.0,269.9L635.8,272.4Z" fill="#0cf515"/>
<path d="M501.2,281.7L505.3,281.1L501.4,281.1L497.3,281.8Z" fill="#0bf39c"/>
<path d="M525.5,280.1L529.6,279.1L525.6,278.8L521.5,279.8Z" fill="#0cf877"/>
<path d="M541.8,279.0L545.9,277.9L541.9,277.3L537.8,278.5Z" fill="#0cfb61"/>
<path d="M590.7,276.4L594.8,274.6L590.8,273.3L586.7,275.1Z" fill="#0cfd2e"/>
<path d="M607.1,275.7L611.2,273.7L607.2,272.1L603.0,274.1Z" fill="#0cfb22"/>
<path d="M631.6,274.8L635.8,272.4L631.8,270.5L627.6,272.8Z" fill="#0cf717"/>
<path d="M513.3,281.3L517.4,280.6L513.4,280.4L509.3,281.2Z" fill="#0cf67b"/>
<path d="M554.0,279.3L558.1,278.1L554.0,277.3L549.9,278.6Z" fill="#0cfd4d"/>
<path d="M578.4,278.4L582.5,276.8L578.5,275.6L574.4,277.2Z" fill="#0cfe39"/>
<path d="M619.3,277.2L623.4,275.1L619.4,273.2L615.3,275.4Z" fill="#0cfa27"/>
<path d="M497.1,282.2L501.2,281.7L497.3,281.8L493.2,282.3Z" fill="#0bf292"/>
<path d="M505.2,281.7L509.3,281.2L505.3,281.1L501.2,281.7Z" fill="#0cf486"/>
<path d="M521.4,280.9L525.5,280.1L521.5,279.8L517.4,280.6Z" fill="#0cf771"/>
<path d="M529.5,280.4L533.6,279.5L529.6,279.1L525.5,280.1Z" fill="#0cf967"/>
<path d="M537.7,280.1L541.8,279.0L537.8,278.5L533.6,279.5Z" fill="#0cfa5e"/>
<path d="M545.8,279.7L549.9,278.6L545.9,277.9L541.8,279.0Z" fill="#0cfb55"/>
<path d="M562.1,279.0L566.2,277.6L562.2,276.7L558.1,278.1Z" fill="#0cfd46"/>
<path d="M570.3,278.7L574.4,277.2L570.3,276.2L566.2,277.6Z" fill="#0cfe3f"/>
<path d="M586.6,278.1L590.7,276.4L586.7,275.1L582.5,276.8Z" fill="#0cfe34"/>
<path d="M594.8,277.8L598.9,276.1L594.8,274.6L590.7,276.4Z" fill="#0cfd2f"/>
<path d="M602.9,277.6L607.1,275.7L603.0,274.1L598.9,276.1Z" fill="#0cfc2c"/>
<path d="M611.1,277.4L615.3,275.4L611.2,273.7L607.1,275.7Z" fill="#0cfb29"/>
<path d="M627.5,277.0L631.6,274.8L627.6,272.8L623.4,275.1Z" fill="#0cf825"/>
<path d="M635.7,276.8L639.8,274.5L635.8,272.4L631.6,274.8Z" fill="#0cf724"/>
<path d="M501.1,282.2L505.2,281.7L501.2,281.7L497.1,282.2Z" fill="#0bf37b"/>
<path d="M509.2,281.8L513.3,281.3L509.3,281.2L505.2,281.7Z" fill="#0cf572"/>
<path d="M517.3,281.5L521.4,280.9L517.4,280.6L513.3,281.3Z" fill="#0cf669"/>
<path d="M525.4,281.2L529.5,280.4L525.5,280.1L521.4,280.9Z" fill="#0cf860"/>
<path d="M533.6,280.9L537.7,280.1L533.6,279.5L529.5,280.4Z" fill="#0cf959"/>
<path d="M541.7,280.7L545.8,279.7L541.8,279.0L537.7,280.1Z" fill="#0cfb51"/>
<path d="M549.8,280.4L554.0,279.3L549.9,278.6L545.8,279.7Z" fill="#0cfc4b"/>
<path d="M558.0,280.2L562.1,279.0L558.1,278.1L554.0,279.3Z" fill="#0cfd45"/>
<path d="M566.1,280.0L570.3,278.7L566.2,277.6L562.1,279.0Z" fill="#0cfe40"/>
<path d="M574.3,279.8L578.4,278.4L574.4,277.2L570.3,278.7Z" fill="#0cfe3c"/>
<path d="M582.5,279.6L586.6,278.1L582.5,276.8L578.4,278.4Z" fill="#0cfe38"/>
<path d="M590.6,279.5L594.8,277.8L590.7,276.4L586.6,278.1Z" fill="#0cfe35"/>
<path d="M598.8,279.3L602.9,277.6L598.9,276.1L594.8,277.8Z" fill="#0cfd33"/>
<path d="M607.0,279.2L611.1,277.4L607.1,275.7L602.9,277.6Z" fill="#0cfc31"/>
<path d="M615.2,279.1L619.3,277.2L615.3,275.4L611.1,277.4Z" fill="#0cfb31"/>
<path d="M623.3,279.1L627.5,277.0L623.4,275.1L619.3,277.2Z" fill="#0cfa31"/>
<path d="M631.5,279.0L635.7,276.8L631.6,274.8L627.5,277.0Z" fill="#0cf831"/>
<path d="M505.1,282.2L509.2,281.8L505.2,281.7L501.1,282.2Z" fill="#0cf466"/>
<path d="M513.2,282.0L517.3,281.5L513.3,281.3L509.2,281.8Z" fill="#0cf55e"/>
<path d="M521.3,281.8L525.4,281.2L521.4,280.9L517.3,281.5Z" fill="#0cf757"/>
<path d="M537.6,281.5L541.7,280.7L537.7,280.1L533.6,280.9Z" fill="#0cfa4c"/>
<path d="M545.7,281.3L549.8,280.4L545.8,279.7L541.7,280.7Z" fill="#0cfb47"/>
<path d="M553.9,281.2L558.0,280.2L554.0,279.3L549.8,280.4Z" fill="#0cfc43"/>
<path d="M562.0,281.1L566.1,280.0L562.1,279.0L558.0,280.2Z" fill="#0cfd3f"/>
<path d="M570.2,281.0L574.3,279.8L570.3,278.7L566.1,280.0Z" fill="#0cfe3c"/>
<path d="M578.4,281.0L582.5,279.6L578.4,278.4L574.3,279.8Z" fill="#0cfe3a"/>
<path d="M586.5,281.0L590.6,279.5L586.6,278.1L582.5,279.6Z" fill="#0cfe39"/>
<path d="M594.7,280.9L598.8,279.3L594.8,277.8L590.6,279.5Z" fill="#0cfe38"/>
<path d="M611.0,281.0L615.2,279.1L611.1,277.4L607.0,279.2Z" fill="#0cfc39"/>
<path d="M619.2,281.0L623.3,279.1L619.3,277.2L615.2,279.1Z" fill="#0cfb3a"/>
<path d="M627.4,281.1L631.5,279.0L627.5,277.0L623.3,279.1Z" fill="#0cf93c"/>
<path d="M529.4,281.6L533.6,280.9L529.5,280.4L525.4,281.2Z" fill="#0cf951"/>
<path d="M602.9,280.9L607.0,279.2L602.9,277.6L598.8,279.3Z" fill="#0cfd38"/>
<path d="M517.2,282.3L521.3,281.8L517.3,281.5L513.2,282.0Z" fill="#0cf64d"/>
<path d="M541.6,282.1L545.7,281.3L541.7,280.7L537.6,281.5Z" fill="#0cfa40"/>
<path d="M549.8,282.1L553.9,281.2L549.8,280.4L545.7,281.3Z" fill="#0cfc3d"/>
<path d="M566.1,282.2L570.2,281.0L566.1,280.0L562.0,281.1Z" fill="#0cfe3a"/>
<path d="M582.4,282.3L586.5,281.0L582.5,279.6L578.4,281.0Z" fill="#0cfe3a"/>
<path d="M590.6,282.4L594.7,280.9L590.6,279.5L586.5,281.0Z" fill="#0cfe3a"/>
<path d="M615.1,282.8L619.2,281.0L615.2,279.1L611.0,281.0Z" fill="#0cfb41"/>
<path d="M509.1,282.4L513.2,282.0L509.2,281.8L505.1,282.2Z" fill="#0cf452"/>
<path d="M525.3,282.2L529.4,281.6L525.4,281.2L521.3,281.8Z" fill="#0cf748"/>
<path d="M533.5,282.2L537.6,281.5L533.6,280.9L529.4,281.6Z" fill="#0cf944"/>
<path d="M557.9,282.1L562.0,281.1L558.0,280.2L553.9,281.2Z" fill="#0cfd3b"/>
<path d="M574.2,282.2L578.4,281.0L574.3,279.8L570.2,281.0Z" fill="#0cfe3a"/>
<path d="M598.7,282.5L602.9,280.9L598.8,279.3L594.7,280.9Z" fill="#0cfd3c"/>
<path d="M606.9,282.6L611.0,281.0L607.0,279.2L602.9,280.9Z" fill="#0cfd3e"/>
<path d="M623.2,283.0L627.4,281.1L623.3,279.1L619.2,281.0Z" fill="#0cfa45"/>
<path d="M513.1,282.6L517.2,282.3L513.2,282.0L509.1,282.4Z" fill="#0cf53f"/>
<path d="M529.3,282.7L533.5,282.2L529.4,281.6L525.3,282.2Z" fill="#0cf839"/>
<path d="M537.5,282.8L541.6,282.1L537.6,281.5L533.5,282.2Z" fill="#0cf937"/>
<path d="M545.6,282.9L549.8,282.1L545.7,281.3L541.6,282.1Z" fill="#0cfb36"/>
<path d="M553.8,283.0L557.9,282.1L553.9,281.2L549.8,282.1Z" fill="#0cfc36"/>
<path d="M562.0,283.1L566.1,282.2L562.0,281.1L557.9,282.1Z" fill="#0cfd36"/>
<path d="M570.1,283.3L574.2,282.2L570.2,281.0L566.1,282.2Z" fill="#0cfe37"/>
<path d="M578.3,283.5L582.4,282.3L578.4,281.0L574.2,282.2Z" fill="#0cfe38"/>
<path d="M586.4,283.7L590.6,282.4L586.5,281.0L582.4,282.3Z" fill="#0cfe3b"/>
<path d="M594.6,283.9L598.7,282.5L594.7,280.9L590.6,282.4Z" fill="#0cfe3e"/>
<path d="M602.8,284.2L606.9,282.6L602.9,280.9L598.7,282.5Z" fill="#0cfd42"/>
<path d="M619.1,284.8L623.2,283.0L619.2,281.0L615.1,282.8Z" fill="#0cfb4b"/>
<path d="M521.2,282.6L525.3,282.2L521.3,281.8L517.2,282.3Z" fill="#0cf63c"/>
<path d="M610.9,284.5L615.1,282.8L611.0,281.0L606.9,282.6Z" fill="#0cfc46"/>
<path d="M533.4,283.2L537.5,282.8L533.5,282.2L529.3,282.7Z" fill="#0cf82c"/>
<path d="M541.5,283.5L545.6,282.9L541.6,282.1L537.5,282.8Z" fill="#0cfa2d"/>
<path d="M557.8,284.0L562.0,283.1L557.9,282.1L553.8,283.0Z" fill="#0cfc2f"/>
<path d="M574.2,284.5L578.3,283.5L574.2,282.2L570.1,283.3Z" fill="#0cfe35"/>
<path d="M590.5,285.2L594.6,283.9L590.6,282.4L586.4,283.7Z" fill="#0cfe3d"/>
<path d="M598.7,285.6L602.8,284.2L598.7,282.5L594.6,283.9Z" fill="#0cfd43"/>
<path d="M517.1,282.9L521.2,282.6L517.2,282.3L513.1,282.6Z" fill="#0cf52e"/>
<path d="M525.2,283.0L529.3,282.7L525.3,282.2L521.2,282.6Z" fill="#0cf72d"/>
<path d="M549.7,283.7L553.8,283.0L549.8,282.1L545.6,282.9Z" fill="#0cfb2e"/>
<path d="M566.0,284.2L570.1,283.3L566.1,282.2L562.0,283.1Z" fill="#0cfd32"/>
<path d="M582.3,284.9L586.4,283.7L582.4,282.3L578.3,283.5Z" fill="#0cfe39"/>
<path d="M606.8,286.0L610.9,284.5L606.9,282.6L602.8,284.2Z" fill="#0cfd49"/>
<path d="M615.0,286.4L619.1,284.8L615.1,282.8L610.9,284.5Z" fill="#0cfc4f"/>
<path d="M521.1,283.3L525.2,283.0L521.2,282.6L517.1,282.9Z" fill="#0cf51f"/>
<path d="M529.2,283.6L533.4,283.2L529.3,282.7L525.2,283.0Z" fill="#0cf71f"/>
<path d="M537.4,283.9L541.5,283.5L537.5,282.8L533.4,283.2Z" fill="#0cf921"/>
<path d="M545.6,284.3L549.7,283.7L545.6,282.9L541.5,283.5Z" fill="#0cfa23"/>
<path d="M553.7,284.6L557.8,284.0L553.8,283.0L549.7,283.7Z" fill="#0cfb27"/>
<path d="M561.9,285.0L566.0,284.2L562.0,283.1L557.8,284.0Z" fill="#0cfc2a"/>
<path d="M570.1,285.4L574.2,284.5L570.1,283.3L566.0,284.2Z" fill="#0cfd2f"/>
<path d="M578.2,285.9L582.3,284.9L578.3,283.5L574.2,284.5Z" fill="#0cfe35"/>
<path d="M586.4,286.3L590.5,285.2L586.4,283.7L582.3,284.9Z" fill="#0cfe3b"/>
<path d="M594.5,286.8L598.7,285.6L594.6,283.9L590.5,285.2Z" fill="#0cfe42"/>
<path d="M602.7,287.3L606.8,286.0L602.8,284.2L598.7,285.6Z" fill="#0cfd49"/>
<path d="M610.8,287.9L615.0,286.4L610.9,284.5L606.8,286.0Z" fill="#0cfc51"/>
<path d="M525.1,283.7L529.2,283.6L525.2,283.0L521.1,283.3Z" fill="#0cf610"/>
<path d="M533.3,284.2L537.4,283.9L533.4,283.2L529.2,283.6Z" fill="#0cf713"/>
<path d="M541.4,284.6L545.6,284.3L541.5,283.5L537.4,283.9Z" fill="#0cf917"/>
<path d="M549.6,285.1L553.7,284.6L549.7,283.7L545.6,284.3Z" fill="#0cfa1c"/>
<path d="M565.9,286.2L570.1,285.4L566.0,284.2L561.9,285.0Z" fill="#0cfc27"/>
<path d="M582.3,287.3L586.4,286.3L582.3,284.9L578.2,285.9Z" fill="#0cfd36"/>
<path d="M590.4,287.9L594.5,286.8L590.5,285.2L586.4,286.3Z" fill="#0cfd3e"/>
<path d="M598.6,288.5L602.7,287.3L598.7,285.6L594.5,286.8Z" fill="#0cfd47"/>
<path d="M606.7,289.2L610.8,287.9L606.8,286.0L602.7,287.3Z" fill="#0cfc51"/>
<path d="M557.8,285.7L561.9,285.0L557.8,284.0L553.7,284.6Z" fill="#0cfb21"/>
<path d="M574.1,286.7L578.2,285.9L574.2,284.5L570.1,285.4Z" fill="#0cfd2e"/>
<path d="M545.5,285.5L549.6,285.1L545.6,284.3L541.4,284.6Z" fill="#0cf90f"/>
<path d="M586.3,288.9L590.4,287.9L586.4,286.3L582.3,287.3Z" fill="#0cfd38"/>
<path d="M529.1,284.3L533.3,284.2L529.2,283.6L525.1,283.7Z" fill="#14f60c"/>
<path d="M537.3,284.9L541.4,284.6L537.4,283.9L533.3,284.2Z" fill="#0ff70c"/>
<path d="M561.8,286.8L565.9,286.2L561.9,285.0L557.8,285.7Z" fill="#0cfb1d"/>
<path d="M570.0,287.5L574.1,286.7L570.1,285.4L565.9,286.2Z" fill="#0cfc25"/>
<path d="M594.5,289.6L598.6,288.5L594.5,286.8L590.4,287.9Z" fill="#0cfd43"/>
<path d="M602.6,290.4L606.7,289.2L602.7,287.3L598.6,288.5Z" fill="#0cfc4e"/>
<path d="M553.6,286.1L557.8,285.7L553.7,284.6L549.6,285.1Z" fill="#0cfa15"/>
<path d="M578.1,288.1L582.3,287.3L578.2,285.9L574.1,286.7Z" fill="#0cfd2e"/>
<path d="M541.3,285.7L545.5,285.5L541.4,284.6L537.3,284.9Z" fill="#18f80c"/>
<path d="M590.3,290.5L594.5,289.6L590.4,287.9L586.3,288.9Z" fill="#0cfc3c"/>
<path d="M533.2,285.0L537.3,284.9L533.3,284.2L529.1,284.3Z" fill="#1ff60c"/>
<path d="M549.5,286.4L553.6,286.1L549.6,285.1L545.5,285.5Z" fill="#10f90c"/>
<path d="M557.7,287.2L561.8,286.8L557.8,285.7L553.6,286.1Z" fill="#0cfa10"/>
<path d="M565.9,288.0L570.0,287.5L565.9,286.2L561.8,286.8Z" fill="#0cfb1a"/>
<path d="M574.0,288.8L578.1,288.1L574.1,286.7L570.0,287.5Z" fill="#0cfc25"/>
<path d="M582.2,289.7L586.3,288.9L582.3,287.3L578.1,288.1Z" fill="#0cfc30"/>
<path d="M598.5,291.4L602.6,290.4L598.6,288.5L594.5,289.6Z" fill="#0cfc49"/>
<path d="M537.2,285.7L541.3,285.7L537.3,284.9L533.2,285.0Z" fill="#29f60c"/>
<path d="M553.5,287.5L557.7,287.2L553.6,286.1L549.5,286.4Z" fill="#16f90c"/>
<path d="M561.7,288.4L565.9,288.0L561.8,286.8L557.7,287.2Z" fill="#0cfa0d"/>
<path d="M569.9,289.3L574.0,288.8L570.0,287.5L565.9,288.0Z" fill="#0cfb19"/>
<path d="M578.1,290.3L582.2,289.7L578.1,288.1L574.0,288.8Z" fill="#0cfb26"/>
<path d="M594.4,292.3L598.5,291.4L594.5,289.6L590.3,290.5Z" fill="#0cfc42"/>
<path d="M545.4,286.6L549.5,286.4L545.5,285.5L541.3,285.7Z" fill="#20f80c"/>
<path d="M586.2,291.3L590.3,290.5L586.3,288.9L582.2,289.7Z" fill="#0cfc34"/>
<path d="M549.4,287.6L553.5,287.5L549.5,286.4L545.4,286.6Z" fill="#26f70c"/>
<path d="M557.6,288.6L561.7,288.4L557.7,287.2L553.5,287.5Z" fill="#1af90c"/>
<path d="M565.8,289.7L569.9,289.3L565.9,288.0L561.7,288.4Z" fill="#0cfa0c"/>
<path d="M573.9,290.8L578.1,290.3L574.0,288.8L569.9,289.3Z" fill="#0cfa1a"/>
<path d="M582.1,291.9L586.2,291.3L582.2,289.7L578.1,290.3Z" fill="#0cfb29"/>
<path d="M541.2,286.6L545.4,286.6L541.3,285.7L537.2,285.7Z" fill="#31f60c"/>
<path d="M590.3,293.0L594.4,292.3L590.3,290.5L586.2,291.3Z" fill="#0cfb39"/>
<path d="M545.3,287.5L549.4,287.6L545.4,286.6L541.2,286.6Z" fill="#38f60c"/>
<path d="M553.5,288.7L557.6,288.6L553.5,287.5L549.4,287.6Z" fill="#2bf70c"/>
<path d="M561.6,289.9L565.8,289.7L561.7,288.4L557.6,288.6Z" fill="#1cf80c"/>
<path d="M569.8,291.1L573.9,290.8L569.9,289.3L565.8,289.7Z" fill="#0cf90c"/>
<path d="M578.0,292.3L582.1,291.9L578.1,290.3L573.9,290.8Z" fill="#0cfa1c"/>
<path d="M586.1,293.5L590.3,293.0L586.2,291.3L582.1,291.9Z" fill="#0cfa2d"/>
<path d="M549.3,288.6L553.5,288.7L549.4,287.6L545.3,287.5Z" fill="#3ef60c"/>
<path d="M557.5,289.9L561.6,289.9L557.6,288.6L553.5,288.7Z" fill="#2ef70c"/>
<path d="M565.7,291.2L569.8,291.1L565.8,289.7L561.6,289.9Z" fill="#1df80c"/>
<path d="M573.9,292.5L578.0,292.3L573.9,290.8L569.8,291.1Z" fill="#0cf90c"/>
<path d="M582.0,293.9L586.1,293.5L582.1,291.9L578.0,292.3Z" fill="#0cf91f"/>
<path d="M553.4,289.7L557.5,289.9L553.5,288.7L549.3,288.6Z" fill="#42f60c"/>
<path d="M561.5,291.2L565.7,291.2L561.6,289.9L557.5,289.9Z" fill="#2ff70c"/>
<path d="M569.7,292.6L573.9,292.5L569.8,291.1L565.7,291.2Z" fill="#1cf70c"/>
<path d="M577.9,294.1L582.0,293.9L578.0,292.3L573.9,292.5Z" fill="#0cf80f"/>
<path d="M557.4,291.0L561.5,291.2L557.5,289.9L553.4,289.7Z" fill="#44f50c"/>
<path d="M565.6,292.6L569.7,292.6L565.7,291.2L561.5,291.2Z" fill="#30f60c"/>
<path d="M573.8,294.2L577.9,294.1L573.9,292.5L569.7,292.6Z" fill="#1af70c"/>
<path d="M561.5,292.3L565.6,292.6L561.5,291.2L557.4,291.0Z" fill="#45f50c"/>
<path d="M569.6,294.1L573.8,294.2L569.7,292.6L565.6,292.6Z" fill="#2ef60c"/>
<path d="M565.5,293.8L569.6,294.1L565.6,292.6L561.5,292.3Z" fill="#44f40c"/>
</g>
<rect x="564.84" y="265.27" width="3" height="6" fill="#8a1010" stroke="#3a0606" stroke-width="0.5"/>
</svg></body></html>
